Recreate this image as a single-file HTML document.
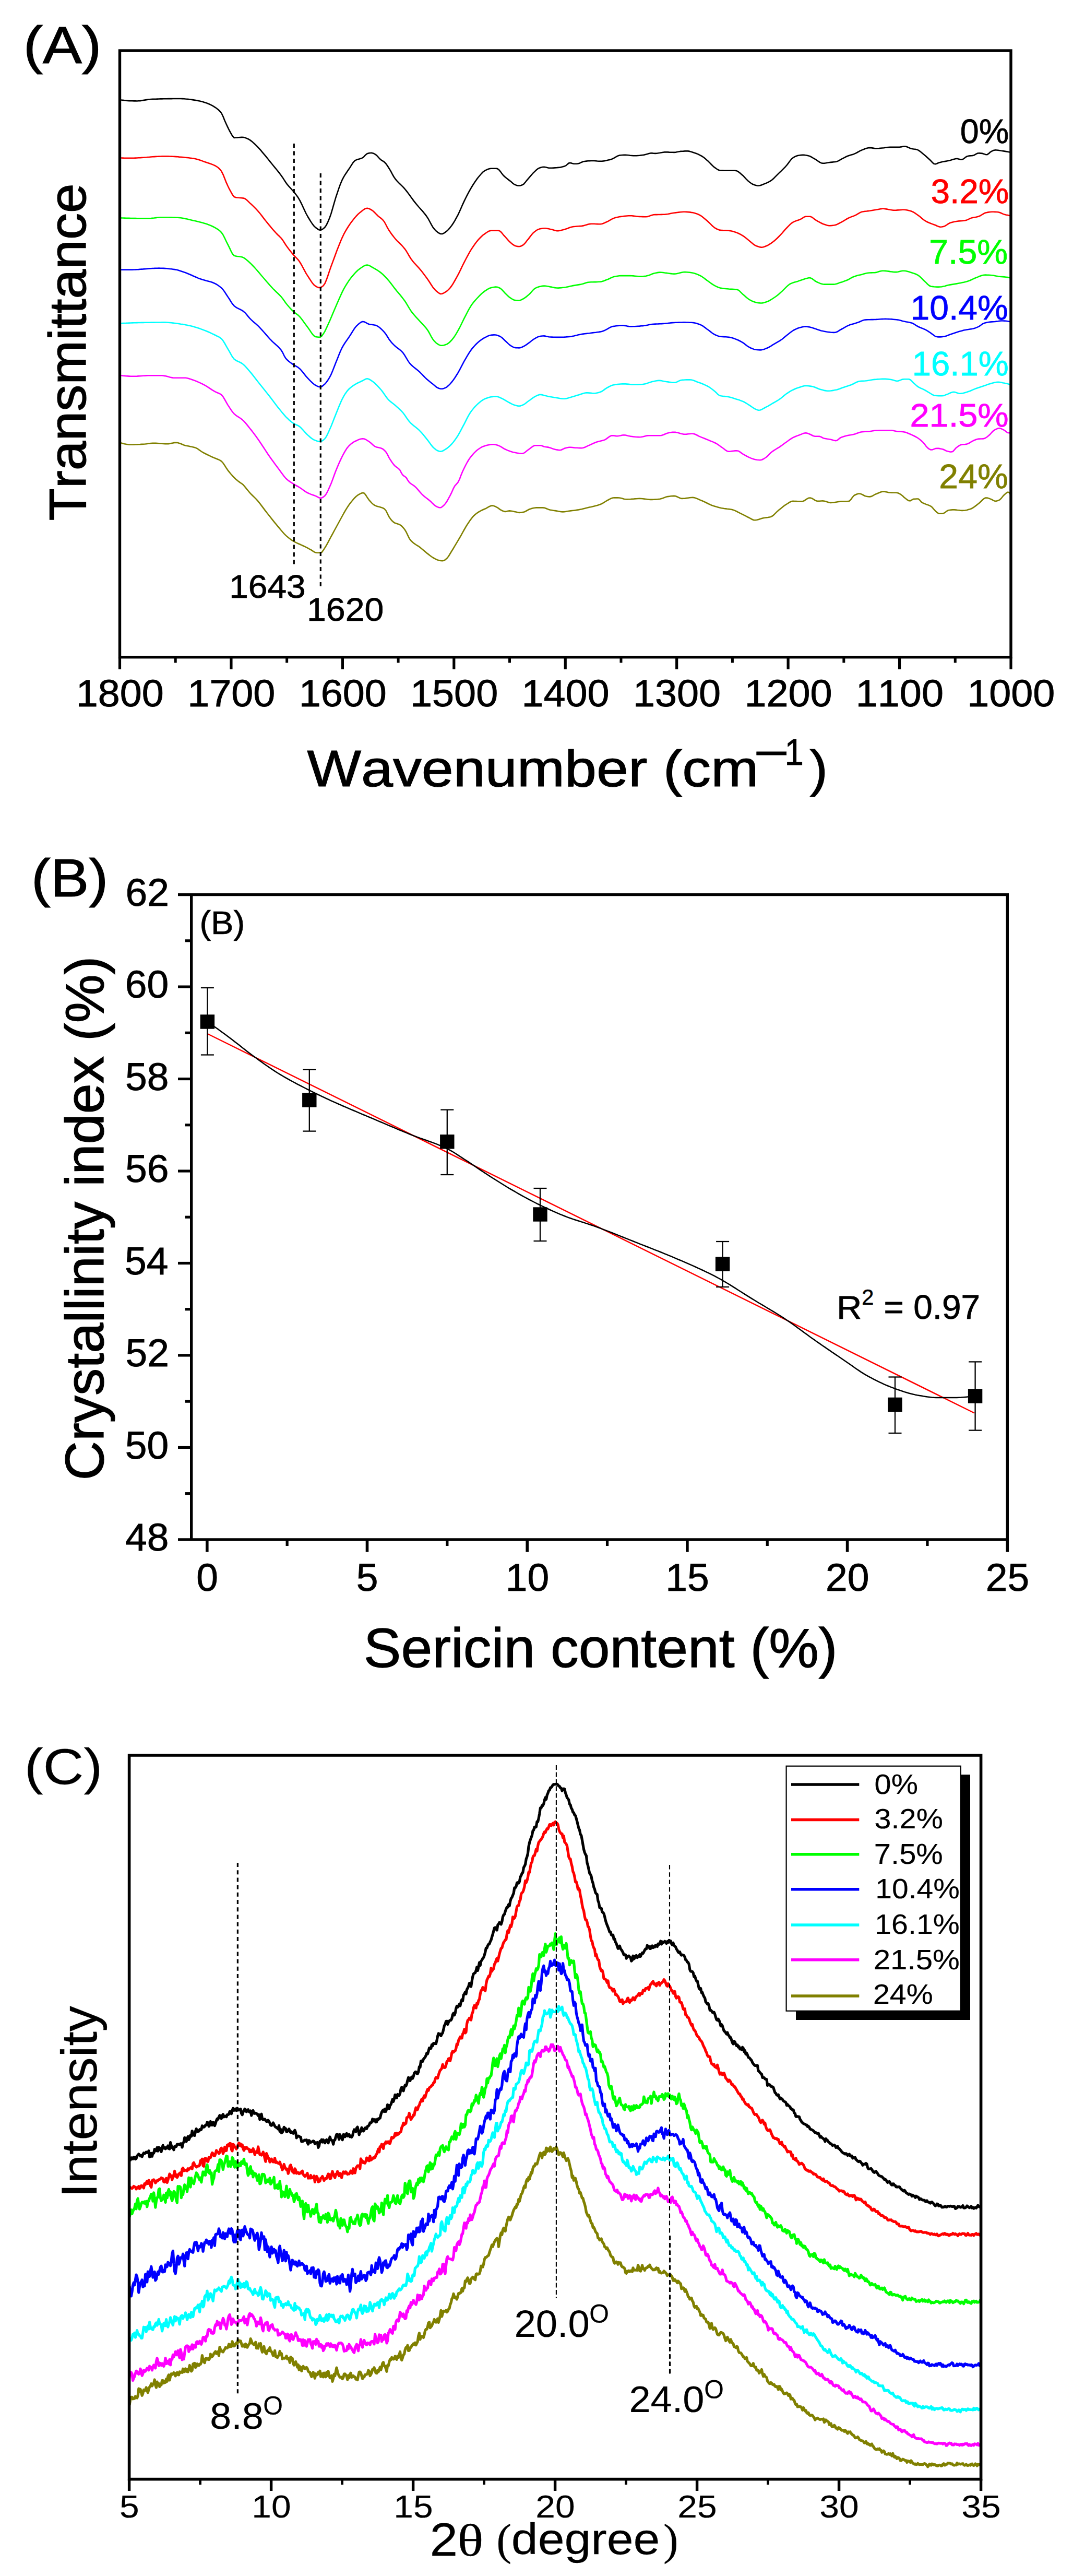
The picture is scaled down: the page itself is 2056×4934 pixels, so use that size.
<!DOCTYPE html>
<html lang="en">
<head>
<meta charset="utf-8">
<title>FTIR, crystallinity index and XRD of silk with varying sericin content</title>
<style>
html,body{margin:0;padding:0;background:#fff;}
body{width:2056px;height:4934px;overflow:hidden;}
svg{display:block;}
text{white-space:pre;font-kerning:none;}
</style>
</head>
<body>
<svg width="2056" height="4934" viewBox="0 0 2056 4934">
<rect width="2056" height="4934" fill="#fff"/>
<g id="panelA">
<polyline points="229.5,191.0 232.5,191.5 235.5,191.9 238.5,192.3 241.5,192.6 244.5,192.9 247.5,193.1 250.5,193.2 253.5,193.3 256.5,193.4 259.5,193.4 262.5,193.5 265.5,193.3 268.5,193.1 271.5,192.6 274.5,192.1 277.5,191.6 280.5,191.1 283.5,190.6 286.5,190.2 289.5,190.0 292.5,189.9 295.5,189.8 298.5,189.7 301.5,189.6 304.5,189.5 307.5,189.4 310.5,189.4 313.5,189.3 316.5,189.2 319.5,189.2 322.5,189.1 325.5,189.1 328.5,189.1 331.5,189.0 334.5,189.0 337.5,189.0 340.5,189.0 343.5,189.0 346.5,189.0 349.5,189.1 352.5,189.2 355.5,189.5 358.5,189.7 361.5,190.1 364.5,190.5 367.5,190.9 370.5,191.4 373.5,191.9 376.5,192.4 379.5,192.9 382.5,193.5 385.5,194.2 388.5,195.0 391.5,195.9 394.5,196.9 397.5,198.0 400.5,199.2 403.5,200.6 406.5,202.1 409.5,203.9 412.5,205.8 415.5,207.9 418.5,210.3 421.5,213.2 424.5,217.0 427.5,223.3 430.5,230.8 433.5,237.5 436.5,243.9 439.5,250.0 442.5,255.3 445.5,260.7 448.5,263.9 451.5,263.8 454.5,263.6 457.5,263.3 460.5,263.1 463.5,262.9 466.5,263.0 469.5,263.8 472.5,264.9 475.5,266.2 478.5,267.9 481.5,270.1 484.5,272.6 487.5,275.3 490.5,278.1 493.5,281.1 496.5,284.3 499.5,287.7 502.5,291.3 505.5,294.8 508.5,298.4 511.5,302.1 514.5,305.8 517.5,309.6 520.5,313.3 523.5,317.0 526.5,320.6 529.5,324.3 532.5,327.9 535.5,331.7 538.5,335.7 541.5,339.9 544.5,344.6 547.5,349.3 550.5,353.4 553.5,356.9 556.5,360.2 559.5,363.5 562.5,366.9 565.5,370.6 568.5,374.5 571.5,378.8 574.5,383.8 577.5,389.8 580.5,396.3 583.5,402.8 586.5,409.0 589.5,414.5 592.5,419.5 595.5,424.4 598.5,428.9 601.5,432.7 604.5,435.6 607.5,437.9 610.5,439.9 613.5,440.7 616.5,439.9 619.5,438.0 622.5,435.3 625.5,430.9 628.5,424.6 631.5,417.5 634.5,408.8 637.5,398.6 640.5,388.1 643.5,378.0 646.5,369.1 649.5,360.2 652.5,351.9 655.5,344.9 658.5,339.2 661.5,334.2 664.5,329.7 667.5,325.3 670.5,320.9 673.5,316.1 676.5,311.5 679.5,308.1 682.5,306.4 685.5,305.3 688.5,304.5 691.5,303.6 694.5,302.4 697.5,299.9 700.5,296.7 703.5,294.2 706.5,293.4 709.5,293.0 712.5,292.9 715.5,293.7 718.5,295.3 721.5,297.4 724.5,300.6 727.5,304.0 730.5,306.6 733.5,308.4 736.5,310.4 739.5,313.6 742.5,317.8 745.5,322.5 748.5,327.4 751.5,333.1 754.5,338.5 757.5,342.8 760.5,346.4 763.5,349.6 766.5,352.5 769.5,355.4 772.5,358.4 775.5,361.7 778.5,365.4 781.5,369.3 784.5,373.3 787.5,377.4 790.5,381.6 793.5,385.6 796.5,389.4 799.5,393.0 802.5,396.5 805.5,399.8 808.5,403.2 811.5,406.7 814.5,410.4 817.5,414.4 820.5,419.0 823.5,424.5 826.5,430.2 829.5,435.3 832.5,439.1 835.5,442.3 838.5,444.8 841.5,446.7 844.5,448.0 847.5,448.0 850.5,446.6 853.5,444.6 856.5,442.3 859.5,439.3 862.5,435.8 865.5,432.0 868.5,427.5 871.5,422.6 874.5,417.2 877.5,411.6 880.5,405.3 883.5,398.5 886.5,391.6 889.5,385.1 892.5,379.0 895.5,373.2 898.5,367.5 901.5,362.1 904.5,357.0 907.5,352.2 910.5,347.7 913.5,343.4 916.5,339.5 919.5,336.0 922.5,332.5 925.5,329.4 928.5,327.2 931.5,325.6 934.5,324.3 937.5,323.3 940.5,322.8 943.5,322.8 946.5,322.8 949.5,322.8 952.5,322.9 955.5,324.7 958.5,328.1 961.5,332.2 964.5,336.0 967.5,338.8 970.5,341.3 973.5,343.6 976.5,345.9 979.5,348.3 982.5,351.0 985.5,353.2 988.5,354.4 991.5,355.4 994.5,355.8 997.5,355.4 1000.5,354.3 1003.5,352.6 1006.5,349.2 1009.5,345.3 1012.5,341.8 1015.5,338.3 1018.5,334.8 1021.5,331.5 1024.5,328.6 1027.5,325.8 1030.5,323.3 1033.5,321.7 1036.5,320.7 1039.5,320.0 1042.5,319.9 1045.5,320.3 1048.5,321.1 1051.5,321.7 1054.5,321.8 1057.5,321.8 1060.5,321.6 1063.5,321.4 1066.5,321.2 1069.5,320.9 1072.5,320.6 1075.5,320.1 1078.5,319.3 1081.5,318.4 1084.5,317.1 1087.5,314.4 1090.5,312.1 1093.5,312.1 1096.5,313.0 1099.5,313.7 1102.5,313.8 1105.5,313.6 1108.5,313.3 1111.5,312.2 1114.5,310.7 1117.5,309.5 1120.5,309.0 1123.5,308.6 1126.5,308.3 1129.5,308.1 1132.5,307.9 1135.5,307.8 1138.5,307.9 1141.5,308.2 1144.5,308.5 1147.5,308.7 1150.5,308.8 1153.5,308.7 1156.5,308.4 1159.5,307.9 1162.5,307.3 1165.5,306.6 1168.5,305.9 1171.5,305.1 1174.5,303.8 1177.5,302.1 1180.5,300.3 1183.5,298.7 1186.5,297.6 1189.5,297.2 1192.5,297.0 1195.5,296.9 1198.5,296.9 1201.5,297.0 1204.5,297.3 1207.5,297.7 1210.5,298.0 1213.5,298.3 1216.5,298.3 1219.5,298.2 1222.5,298.0 1225.5,297.8 1228.5,297.4 1231.5,297.0 1234.5,296.6 1237.5,295.8 1240.5,294.9 1243.5,294.0 1246.5,293.4 1249.5,293.4 1252.5,293.7 1255.5,293.9 1258.5,293.7 1261.5,293.3 1264.5,292.8 1267.5,292.2 1270.5,291.7 1273.5,291.4 1276.5,291.4 1279.5,291.4 1282.5,291.6 1285.5,291.7 1288.5,291.8 1291.5,291.9 1294.5,291.7 1297.5,291.1 1300.5,290.5 1303.5,289.9 1306.5,289.7 1309.5,289.6 1312.5,289.4 1315.5,289.4 1318.5,289.4 1321.5,289.9 1324.5,290.8 1327.5,291.7 1330.5,292.7 1333.5,293.7 1336.5,294.9 1339.5,296.3 1342.5,297.8 1345.5,299.5 1348.5,301.6 1351.5,304.1 1354.5,306.7 1357.5,309.3 1360.5,312.3 1363.5,315.5 1366.5,318.4 1369.5,320.9 1372.5,323.0 1375.5,325.0 1378.5,326.2 1381.5,326.5 1384.5,326.6 1387.5,326.8 1390.5,326.8 1393.5,326.8 1396.5,326.8 1399.5,326.8 1402.5,326.8 1405.5,326.8 1408.5,326.8 1411.5,327.2 1414.5,328.8 1417.5,331.1 1420.5,333.7 1423.5,336.2 1426.5,339.3 1429.5,342.6 1432.5,345.7 1435.5,348.2 1438.5,350.5 1441.5,352.5 1444.5,353.8 1447.5,354.8 1450.5,355.6 1453.5,355.8 1456.5,355.3 1459.5,354.2 1462.5,353.0 1465.5,351.9 1468.5,350.6 1471.5,349.3 1474.5,347.7 1477.5,345.9 1480.5,343.5 1483.5,340.7 1486.5,337.7 1489.5,334.6 1492.5,331.6 1495.5,328.8 1498.5,325.8 1501.5,322.9 1504.5,319.8 1507.5,316.5 1510.5,312.6 1513.5,308.5 1516.5,304.8 1519.5,302.2 1522.5,300.4 1525.5,299.0 1528.5,298.0 1531.5,297.5 1534.5,297.1 1537.5,296.9 1540.5,296.9 1543.5,297.2 1546.5,297.7 1549.5,298.4 1552.5,299.5 1555.5,301.1 1558.5,303.0 1561.5,304.7 1564.5,306.5 1567.5,308.6 1570.5,310.6 1573.5,312.2 1576.5,312.8 1579.5,312.7 1582.5,312.3 1585.5,311.8 1588.5,311.3 1591.5,310.9 1594.5,310.6 1597.5,310.3 1600.5,310.0 1603.5,309.4 1606.5,308.1 1609.5,306.5 1612.5,304.7 1615.5,303.2 1618.5,301.6 1621.5,300.0 1624.5,298.7 1627.5,297.7 1630.5,296.8 1633.5,295.9 1636.5,294.9 1639.5,293.6 1642.5,292.0 1645.5,290.3 1648.5,288.7 1651.5,287.4 1654.5,286.2 1657.5,285.0 1660.5,284.0 1663.5,283.2 1666.5,282.9 1669.5,283.1 1672.5,283.6 1675.5,284.1 1678.5,284.4 1681.5,284.3 1684.5,284.1 1687.5,283.8 1690.5,283.5 1693.5,283.2 1696.5,282.8 1699.5,282.4 1702.5,282.1 1705.5,281.9 1708.5,281.9 1711.5,281.9 1714.5,281.9 1717.5,281.9 1720.5,281.9 1723.5,281.8 1726.5,281.4 1729.5,280.8 1732.5,280.4 1735.5,280.5 1738.5,281.5 1741.5,282.9 1744.5,284.2 1747.5,285.0 1750.5,285.5 1753.5,285.8 1756.5,286.4 1759.5,287.6 1762.5,289.6 1765.5,292.0 1768.5,294.4 1771.5,296.9 1774.5,299.5 1777.5,302.2 1780.5,305.0 1783.5,307.8 1786.5,311.2 1789.5,313.7 1792.5,314.2 1795.5,313.2 1798.5,311.8 1801.5,310.9 1804.5,310.2 1807.5,309.6 1810.5,309.1 1813.5,308.6 1816.5,308.0 1819.5,307.4 1822.5,306.6 1825.5,305.6 1828.5,304.7 1831.5,304.0 1834.5,303.9 1837.5,304.7 1840.5,305.6 1843.5,305.6 1846.5,304.1 1849.5,301.7 1852.5,299.7 1855.5,298.7 1858.5,298.4 1861.5,298.2 1864.5,297.9 1867.5,296.7 1870.5,294.9 1873.5,293.5 1876.5,293.4 1879.5,293.6 1882.5,293.9 1885.5,294.9 1888.5,296.0 1891.5,296.2 1894.5,294.2 1897.5,291.3 1900.5,289.5 1903.5,288.1 1906.5,287.4 1909.5,287.5 1912.5,287.8 1915.5,288.2 1918.5,288.7 1921.5,289.1 1924.5,289.6 1927.5,290.1 1930.5,290.6 1933.5,291.2 1936.5,291.8" fill="none" stroke="#000000" stroke-width="2.6" stroke-linejoin="round" />
<polyline points="229.5,302.3 232.5,302.5 235.5,302.6 238.5,302.7 241.5,302.8 244.5,302.8 247.5,302.8 250.5,302.8 253.5,302.8 256.5,302.7 259.5,302.6 262.5,302.5 265.5,302.3 268.5,302.2 271.5,301.9 274.5,301.7 277.5,301.5 280.5,301.3 283.5,301.0 286.5,300.8 289.5,300.5 292.5,300.3 295.5,300.1 298.5,299.9 301.5,299.7 304.5,299.6 307.5,299.5 310.5,299.4 313.5,299.4 316.5,299.4 319.5,299.4 322.5,299.4 325.5,299.5 328.5,299.6 331.5,299.8 334.5,299.9 337.5,300.1 340.5,300.3 343.5,300.6 346.5,300.8 349.5,301.1 352.5,301.4 355.5,301.7 358.5,302.0 361.5,302.3 364.5,302.7 367.5,303.1 370.5,303.4 373.5,304.0 376.5,304.7 379.5,305.5 382.5,306.5 385.5,307.5 388.5,308.6 391.5,309.7 394.5,310.7 397.5,311.7 400.5,312.7 403.5,313.7 406.5,314.9 409.5,316.1 412.5,317.5 415.5,319.3 418.5,321.5 421.5,324.5 424.5,328.3 427.5,334.3 430.5,341.8 433.5,349.4 436.5,356.0 439.5,362.2 442.5,367.7 445.5,373.0 448.5,377.1 451.5,378.1 454.5,378.5 457.5,378.8 460.5,379.0 463.5,379.2 466.5,379.6 469.5,380.6 472.5,382.8 475.5,385.6 478.5,388.6 481.5,391.3 484.5,394.1 487.5,397.1 490.5,400.2 493.5,403.4 496.5,406.8 499.5,410.5 502.5,414.4 505.5,418.4 508.5,422.2 511.5,425.9 514.5,429.6 517.5,433.2 520.5,436.8 523.5,440.3 526.5,443.7 529.5,447.0 532.5,450.0 535.5,452.8 538.5,455.8 541.5,459.6 544.5,464.2 547.5,469.0 550.5,473.3 553.5,477.3 556.5,481.1 559.5,484.8 562.5,488.3 565.5,491.6 568.5,494.6 571.5,497.8 574.5,502.0 577.5,507.0 580.5,512.5 583.5,518.1 586.5,523.6 589.5,528.4 592.5,533.0 595.5,537.6 598.5,542.0 601.5,545.6 604.5,548.0 607.5,549.7 610.5,550.9 613.5,550.9 616.5,549.5 619.5,547.2 622.5,543.1 625.5,536.1 628.5,527.5 631.5,518.4 634.5,509.9 637.5,501.9 640.5,493.7 643.5,485.5 646.5,477.4 649.5,469.9 652.5,462.6 655.5,455.6 658.5,449.2 661.5,443.7 664.5,438.5 667.5,433.7 670.5,429.2 673.5,425.1 676.5,421.2 679.5,417.5 682.5,414.0 685.5,410.8 688.5,408.1 691.5,405.7 694.5,403.2 697.5,401.0 700.5,399.4 703.5,398.8 706.5,399.4 709.5,400.8 712.5,402.5 715.5,404.8 718.5,407.7 721.5,410.8 724.5,413.7 727.5,416.2 730.5,418.4 733.5,421.2 736.5,425.0 739.5,430.5 742.5,436.3 745.5,441.3 748.5,445.7 751.5,449.9 754.5,453.8 757.5,457.5 760.5,460.8 763.5,463.8 766.5,466.7 769.5,469.7 772.5,473.0 775.5,476.6 778.5,480.8 781.5,485.8 784.5,491.0 787.5,495.8 790.5,499.8 793.5,503.3 796.5,506.6 799.5,509.8 802.5,513.1 805.5,516.6 808.5,520.3 811.5,524.2 814.5,528.2 817.5,532.3 820.5,536.5 823.5,541.0 826.5,545.8 829.5,550.3 832.5,553.9 835.5,557.1 838.5,559.5 841.5,561.7 844.5,563.0 847.5,562.5 850.5,561.1 853.5,559.4 856.5,557.4 859.5,554.6 862.5,551.4 865.5,547.4 868.5,542.7 871.5,537.5 874.5,532.1 877.5,526.6 880.5,520.8 883.5,514.6 886.5,508.3 889.5,502.3 892.5,496.5 895.5,490.9 898.5,485.3 901.5,480.1 904.5,475.4 907.5,471.0 910.5,466.8 913.5,462.8 916.5,459.2 919.5,456.0 922.5,453.0 925.5,450.3 928.5,448.1 931.5,446.0 934.5,444.0 937.5,442.4 940.5,441.7 943.5,441.7 946.5,441.7 949.5,441.7 952.5,441.7 955.5,441.7 958.5,442.9 961.5,446.0 964.5,449.8 967.5,453.0 970.5,456.4 973.5,459.9 976.5,463.1 979.5,465.7 982.5,468.2 985.5,470.2 988.5,471.2 991.5,471.9 994.5,472.2 997.5,471.7 1000.5,470.3 1003.5,468.4 1006.5,465.1 1009.5,461.2 1012.5,457.6 1015.5,453.6 1018.5,449.7 1021.5,446.3 1024.5,443.7 1027.5,441.5 1030.5,439.7 1033.5,438.6 1036.5,438.0 1039.5,437.5 1042.5,437.2 1045.5,437.3 1048.5,437.7 1051.5,438.3 1054.5,439.0 1057.5,439.6 1060.5,440.5 1063.5,441.5 1066.5,442.1 1069.5,442.2 1072.5,441.8 1075.5,441.1 1078.5,440.3 1081.5,439.5 1084.5,438.6 1087.5,437.5 1090.5,436.3 1093.5,435.3 1096.5,434.5 1099.5,434.0 1102.5,433.8 1105.5,433.5 1108.5,433.3 1111.5,433.1 1114.5,432.9 1117.5,432.4 1120.5,431.6 1123.5,430.7 1126.5,429.8 1129.5,429.1 1132.5,428.7 1135.5,428.7 1138.5,428.8 1141.5,429.0 1144.5,429.1 1147.5,429.2 1150.5,429.2 1153.5,428.8 1156.5,427.8 1159.5,426.4 1162.5,425.0 1165.5,423.6 1168.5,421.9 1171.5,420.2 1174.5,418.6 1177.5,417.4 1180.5,416.6 1183.5,415.9 1186.5,415.3 1189.5,414.9 1192.5,414.5 1195.5,414.1 1198.5,413.8 1201.5,413.5 1204.5,413.3 1207.5,413.2 1210.5,413.3 1213.5,413.6 1216.5,414.0 1219.5,414.4 1222.5,414.7 1225.5,414.9 1228.5,415.0 1231.5,415.1 1234.5,415.2 1237.5,415.2 1240.5,415.0 1243.5,414.1 1246.5,412.9 1249.5,411.9 1252.5,411.3 1255.5,411.1 1258.5,411.1 1261.5,411.0 1264.5,411.0 1267.5,410.9 1270.5,410.8 1273.5,410.7 1276.5,410.4 1279.5,410.0 1282.5,409.4 1285.5,408.8 1288.5,408.3 1291.5,407.8 1294.5,407.4 1297.5,407.0 1300.5,406.6 1303.5,406.3 1306.5,406.0 1309.5,405.8 1312.5,405.7 1315.5,405.9 1318.5,406.1 1321.5,406.4 1324.5,406.9 1327.5,407.3 1330.5,408.0 1333.5,408.9 1336.5,410.0 1339.5,411.3 1342.5,412.9 1345.5,415.0 1348.5,417.4 1351.5,420.0 1354.5,422.6 1357.5,425.2 1360.5,428.1 1363.5,431.2 1366.5,434.0 1369.5,436.3 1372.5,438.0 1375.5,439.6 1378.5,440.6 1381.5,440.9 1384.5,441.1 1387.5,441.2 1390.5,441.3 1393.5,441.5 1396.5,441.7 1399.5,442.1 1402.5,442.7 1405.5,443.5 1408.5,444.5 1411.5,445.6 1414.5,446.8 1417.5,448.2 1420.5,449.8 1423.5,451.7 1426.5,453.7 1429.5,456.1 1432.5,458.6 1435.5,461.1 1438.5,463.5 1441.5,466.0 1444.5,468.4 1447.5,470.3 1450.5,471.6 1453.5,472.6 1456.5,473.4 1459.5,473.7 1462.5,473.2 1465.5,472.2 1468.5,471.0 1471.5,469.7 1474.5,467.9 1477.5,465.9 1480.5,463.7 1483.5,461.4 1486.5,458.8 1489.5,456.0 1492.5,453.0 1495.5,449.9 1498.5,446.6 1501.5,443.1 1504.5,439.6 1507.5,436.5 1510.5,433.4 1513.5,430.3 1516.5,427.6 1519.5,425.6 1522.5,424.1 1525.5,423.0 1528.5,421.9 1531.5,420.9 1534.5,419.6 1537.5,417.8 1540.5,415.9 1543.5,414.8 1546.5,414.7 1549.5,414.7 1552.5,414.8 1555.5,415.9 1558.5,418.0 1561.5,420.4 1564.5,422.4 1567.5,424.1 1570.5,425.7 1573.5,427.3 1576.5,428.7 1579.5,429.8 1582.5,430.8 1585.5,431.7 1588.5,432.2 1591.5,432.1 1594.5,431.9 1597.5,431.5 1600.5,430.9 1603.5,429.9 1606.5,428.5 1609.5,426.9 1612.5,425.3 1615.5,423.6 1618.5,421.8 1621.5,420.0 1624.5,418.3 1627.5,416.9 1630.5,415.6 1633.5,414.5 1636.5,413.4 1639.5,412.1 1642.5,410.4 1645.5,408.6 1648.5,406.9 1651.5,405.8 1654.5,405.2 1657.5,404.8 1660.5,404.5 1663.5,404.1 1666.5,403.8 1669.5,403.3 1672.5,402.8 1675.5,402.3 1678.5,401.8 1681.5,401.3 1684.5,400.7 1687.5,400.1 1690.5,399.8 1693.5,399.8 1696.5,400.1 1699.5,400.6 1702.5,401.2 1705.5,401.8 1708.5,402.3 1711.5,402.6 1714.5,402.7 1717.5,402.6 1720.5,402.4 1723.5,402.2 1726.5,402.0 1729.5,401.8 1732.5,401.8 1735.5,402.0 1738.5,402.6 1741.5,403.3 1744.5,404.1 1747.5,405.1 1750.5,406.5 1753.5,408.4 1756.5,410.5 1759.5,412.6 1762.5,414.8 1765.5,417.4 1768.5,419.9 1771.5,422.2 1774.5,424.0 1777.5,425.5 1780.5,426.8 1783.5,428.0 1786.5,429.1 1789.5,430.2 1792.5,431.3 1795.5,432.7 1798.5,433.9 1801.5,434.7 1804.5,434.5 1807.5,433.9 1810.5,432.9 1813.5,431.2 1816.5,429.0 1819.5,427.3 1822.5,426.3 1825.5,425.5 1828.5,424.8 1831.5,424.2 1834.5,423.8 1837.5,423.4 1840.5,423.1 1843.5,422.9 1846.5,422.6 1849.5,422.3 1852.5,421.4 1855.5,420.1 1858.5,418.6 1861.5,417.4 1864.5,416.7 1867.5,416.2 1870.5,415.7 1873.5,415.0 1876.5,414.1 1879.5,412.5 1882.5,410.6 1885.5,408.8 1888.5,407.5 1891.5,406.9 1894.5,406.4 1897.5,406.0 1900.5,405.8 1903.5,405.8 1906.5,405.9 1909.5,406.0 1912.5,406.3 1915.5,407.0 1918.5,408.3 1921.5,409.6 1924.5,410.7 1927.5,411.5 1930.5,412.1 1933.5,412.7 1936.5,413.2" fill="none" stroke="#ff0000" stroke-width="2.6" stroke-linejoin="round" />
<polyline points="229.5,417.2 232.5,417.4 235.5,417.5 238.5,417.6 241.5,417.8 244.5,417.8 247.5,417.9 250.5,418.0 253.5,418.0 256.5,418.1 259.5,418.1 262.5,418.2 265.5,418.2 268.5,418.2 271.5,418.2 274.5,418.2 277.5,418.2 280.5,418.2 283.5,418.2 286.5,418.2 289.5,418.1 292.5,417.8 295.5,417.5 298.5,417.1 301.5,416.8 304.5,416.5 307.5,416.3 310.5,416.2 313.5,416.2 316.5,416.3 319.5,416.3 322.5,416.3 325.5,416.4 328.5,416.4 331.5,416.5 334.5,416.6 337.5,416.7 340.5,416.8 343.5,417.0 346.5,417.3 349.5,417.8 352.5,418.3 355.5,418.9 358.5,419.6 361.5,420.3 364.5,421.0 367.5,421.7 370.5,422.4 373.5,423.0 376.5,423.7 379.5,424.4 382.5,425.2 385.5,426.0 388.5,426.8 391.5,427.7 394.5,428.6 397.5,429.6 400.5,430.7 403.5,431.9 406.5,433.3 409.5,434.7 412.5,436.3 415.5,438.1 418.5,440.1 421.5,442.5 424.5,445.5 427.5,450.0 430.5,455.9 433.5,462.2 436.5,468.2 439.5,474.1 442.5,480.6 445.5,486.3 448.5,489.5 451.5,490.4 454.5,491.0 457.5,491.3 460.5,491.7 463.5,492.3 466.5,493.4 469.5,495.3 472.5,497.8 475.5,500.3 478.5,503.0 481.5,505.9 484.5,509.0 487.5,512.2 490.5,515.5 493.5,518.9 496.5,522.4 499.5,526.0 502.5,529.5 505.5,533.0 508.5,536.5 511.5,540.0 514.5,543.4 517.5,546.9 520.5,550.2 523.5,553.4 526.5,556.3 529.5,559.2 532.5,562.0 535.5,565.0 538.5,568.1 541.5,571.8 544.5,575.9 547.5,580.2 550.5,584.0 553.5,587.5 556.5,590.8 559.5,594.0 562.5,596.9 565.5,599.4 568.5,601.6 571.5,603.9 574.5,606.9 577.5,610.5 580.5,614.5 583.5,618.7 586.5,622.8 589.5,626.8 592.5,630.9 595.5,635.5 598.5,639.8 601.5,643.2 604.5,644.9 607.5,645.4 610.5,645.8 613.5,645.9 616.5,643.8 619.5,639.6 622.5,634.6 625.5,628.4 628.5,621.8 631.5,615.2 634.5,608.3 637.5,601.1 640.5,593.9 643.5,586.9 646.5,580.1 649.5,573.2 652.5,566.4 655.5,559.9 658.5,553.9 661.5,548.6 664.5,543.7 667.5,539.1 670.5,534.8 673.5,530.9 676.5,527.3 679.5,523.9 682.5,520.7 685.5,517.8 688.5,515.4 691.5,513.3 694.5,511.2 697.5,509.4 700.5,508.1 703.5,507.6 706.5,508.2 709.5,509.7 712.5,511.5 715.5,513.2 718.5,514.8 721.5,516.6 724.5,518.5 727.5,520.6 730.5,522.9 733.5,525.5 736.5,528.5 739.5,531.6 742.5,534.9 745.5,538.3 748.5,542.1 751.5,546.0 754.5,550.1 757.5,553.9 760.5,557.6 763.5,561.1 766.5,564.7 769.5,568.4 772.5,572.2 775.5,576.3 778.5,580.8 781.5,585.8 784.5,590.9 787.5,595.6 790.5,599.6 793.5,603.2 796.5,606.6 799.5,609.9 802.5,613.1 805.5,616.4 808.5,619.7 811.5,622.9 814.5,626.1 817.5,629.7 820.5,634.0 823.5,639.4 826.5,645.1 829.5,650.0 832.5,653.7 835.5,656.7 838.5,658.9 841.5,660.6 844.5,661.7 847.5,661.8 850.5,661.2 853.5,660.3 856.5,659.1 859.5,657.2 862.5,654.5 865.5,651.3 868.5,647.7 871.5,643.4 874.5,638.6 877.5,633.4 880.5,628.0 883.5,622.0 886.5,615.8 889.5,609.6 892.5,603.8 895.5,598.0 898.5,592.4 901.5,587.3 904.5,582.8 907.5,578.9 910.5,575.3 913.5,572.0 916.5,568.8 919.5,565.7 922.5,562.8 925.5,560.1 928.5,557.9 931.5,555.8 934.5,553.9 937.5,552.3 940.5,551.2 943.5,550.5 946.5,550.0 949.5,549.6 952.5,549.8 955.5,550.8 958.5,552.2 961.5,554.6 964.5,557.9 967.5,561.2 970.5,564.1 973.5,567.1 976.5,569.7 979.5,571.7 982.5,573.5 985.5,574.7 988.5,575.2 991.5,575.4 994.5,575.5 997.5,574.9 1000.5,573.5 1003.5,571.8 1006.5,569.9 1009.5,567.6 1012.5,565.1 1015.5,562.3 1018.5,558.9 1021.5,555.5 1024.5,552.8 1027.5,551.1 1030.5,549.9 1033.5,549.0 1036.5,548.4 1039.5,547.9 1042.5,547.6 1045.5,547.7 1048.5,548.2 1051.5,548.8 1054.5,549.4 1057.5,549.9 1060.5,550.6 1063.5,551.1 1066.5,551.5 1069.5,551.6 1072.5,551.4 1075.5,551.2 1078.5,550.8 1081.5,550.5 1084.5,550.0 1087.5,549.4 1090.5,548.8 1093.5,548.1 1096.5,547.4 1099.5,546.9 1102.5,546.4 1105.5,545.9 1108.5,545.4 1111.5,544.9 1114.5,544.3 1117.5,543.6 1120.5,542.6 1123.5,541.6 1126.5,540.8 1129.5,540.5 1132.5,540.3 1135.5,540.2 1138.5,540.1 1141.5,540.1 1144.5,540.0 1147.5,539.8 1150.5,539.6 1153.5,539.1 1156.5,538.2 1159.5,537.0 1162.5,535.8 1165.5,534.7 1168.5,533.3 1171.5,531.9 1174.5,530.6 1177.5,529.7 1180.5,529.2 1183.5,528.7 1186.5,528.3 1189.5,528.1 1192.5,528.1 1195.5,528.1 1198.5,528.1 1201.5,528.1 1204.5,528.1 1207.5,528.1 1210.5,528.2 1213.5,528.4 1216.5,528.7 1219.5,529.0 1222.5,529.3 1225.5,529.6 1228.5,529.6 1231.5,529.5 1234.5,529.1 1237.5,528.7 1240.5,528.1 1243.5,527.3 1246.5,526.1 1249.5,524.8 1252.5,523.7 1255.5,523.1 1258.5,522.4 1261.5,521.9 1264.5,521.6 1267.5,521.7 1270.5,522.0 1273.5,522.5 1276.5,522.9 1279.5,523.3 1282.5,523.7 1285.5,524.1 1288.5,524.5 1291.5,524.6 1294.5,524.5 1297.5,524.0 1300.5,523.3 1303.5,522.5 1306.5,521.8 1309.5,521.3 1312.5,521.1 1315.5,521.2 1318.5,521.5 1321.5,521.8 1324.5,522.2 1327.5,522.7 1330.5,523.4 1333.5,524.4 1336.5,525.6 1339.5,527.0 1342.5,528.4 1345.5,530.2 1348.5,532.3 1351.5,534.6 1354.5,536.9 1357.5,539.0 1360.5,541.2 1363.5,543.4 1366.5,545.4 1369.5,547.1 1372.5,548.6 1375.5,550.0 1378.5,551.1 1381.5,551.9 1384.5,552.4 1387.5,552.7 1390.5,553.0 1393.5,553.2 1396.5,553.5 1399.5,553.7 1402.5,553.8 1405.5,554.0 1408.5,554.2 1411.5,554.5 1414.5,555.5 1417.5,557.8 1420.5,560.8 1423.5,563.8 1426.5,566.3 1429.5,568.9 1432.5,571.5 1435.5,573.7 1438.5,575.3 1441.5,576.8 1444.5,578.1 1447.5,579.1 1450.5,579.7 1453.5,580.1 1456.5,580.4 1459.5,580.5 1462.5,580.1 1465.5,579.3 1468.5,578.3 1471.5,577.1 1474.5,575.7 1477.5,573.9 1480.5,572.0 1483.5,570.0 1486.5,568.0 1489.5,565.7 1492.5,563.2 1495.5,560.6 1498.5,557.9 1501.5,554.8 1504.5,551.8 1507.5,548.9 1510.5,546.2 1513.5,544.0 1516.5,542.6 1519.5,541.5 1522.5,540.6 1525.5,539.8 1528.5,538.9 1531.5,537.8 1534.5,536.8 1537.5,535.7 1540.5,534.7 1543.5,533.8 1546.5,533.0 1549.5,532.3 1552.5,532.2 1555.5,533.4 1558.5,535.6 1561.5,538.0 1564.5,539.7 1567.5,541.1 1570.5,542.4 1573.5,543.6 1576.5,544.3 1579.5,544.6 1582.5,544.6 1585.5,544.6 1588.5,544.6 1591.5,544.6 1594.5,544.6 1597.5,544.6 1600.5,544.2 1603.5,543.4 1606.5,542.4 1609.5,541.3 1612.5,540.4 1615.5,539.4 1618.5,538.3 1621.5,537.2 1624.5,536.0 1627.5,534.4 1630.5,532.7 1633.5,531.0 1636.5,529.7 1639.5,528.7 1642.5,527.8 1645.5,527.1 1648.5,526.4 1651.5,525.7 1654.5,524.8 1657.5,523.9 1660.5,523.2 1663.5,522.7 1666.5,522.5 1669.5,522.4 1672.5,522.3 1675.5,522.2 1678.5,521.9 1681.5,521.1 1684.5,520.1 1687.5,519.2 1690.5,518.7 1693.5,518.7 1696.5,518.9 1699.5,519.2 1702.5,519.6 1705.5,520.1 1708.5,520.5 1711.5,520.9 1714.5,521.1 1717.5,521.1 1720.5,520.7 1723.5,520.0 1726.5,519.3 1729.5,518.8 1732.5,518.7 1735.5,519.0 1738.5,519.7 1741.5,520.5 1744.5,521.5 1747.5,522.4 1750.5,523.4 1753.5,524.5 1756.5,525.8 1759.5,527.4 1762.5,529.7 1765.5,532.6 1768.5,535.7 1771.5,538.6 1774.5,541.4 1777.5,544.5 1780.5,547.0 1783.5,548.5 1786.5,548.9 1789.5,549.3 1792.5,549.5 1795.5,549.6 1798.5,549.6 1801.5,549.5 1804.5,549.2 1807.5,548.6 1810.5,547.9 1813.5,547.1 1816.5,546.3 1819.5,545.6 1822.5,545.1 1825.5,544.6 1828.5,544.1 1831.5,543.6 1834.5,543.1 1837.5,542.5 1840.5,541.9 1843.5,541.3 1846.5,540.7 1849.5,540.0 1852.5,539.2 1855.5,538.3 1858.5,537.2 1861.5,535.8 1864.5,534.4 1867.5,533.0 1870.5,531.8 1873.5,530.6 1876.5,529.3 1879.5,528.2 1882.5,527.2 1885.5,526.7 1888.5,526.6 1891.5,526.7 1894.5,526.8 1897.5,527.0 1900.5,527.2 1903.5,527.6 1906.5,528.2 1909.5,528.8 1912.5,529.3 1915.5,529.7 1918.5,530.0 1921.5,530.1 1924.5,530.4 1927.5,530.7 1930.5,531.1 1933.5,531.8 1936.5,532.5" fill="none" stroke="#00ff00" stroke-width="2.6" stroke-linejoin="round" />
<polyline points="229.5,516.6 232.5,516.6 235.5,516.6 238.5,516.6 241.5,516.6 244.5,516.6 247.5,516.6 250.5,516.6 253.5,516.6 256.5,516.5 259.5,516.4 262.5,516.2 265.5,516.1 268.5,515.8 271.5,515.6 274.5,515.4 277.5,515.1 280.5,514.9 283.5,514.6 286.5,514.4 289.5,514.2 292.5,514.0 295.5,513.9 298.5,513.7 301.5,513.7 304.5,513.6 307.5,513.7 310.5,513.7 313.5,513.9 316.5,514.1 319.5,514.3 322.5,514.6 325.5,515.0 328.5,515.3 331.5,515.7 334.5,516.1 337.5,516.6 340.5,517.3 343.5,518.2 346.5,519.2 349.5,520.2 352.5,521.3 355.5,522.3 358.5,523.5 361.5,524.7 364.5,526.0 367.5,527.3 370.5,528.7 373.5,530.0 376.5,531.3 379.5,532.6 382.5,533.8 385.5,534.8 388.5,535.8 391.5,536.6 394.5,537.4 397.5,538.2 400.5,539.0 403.5,539.8 406.5,540.8 409.5,542.0 412.5,543.4 415.5,545.0 418.5,547.0 421.5,549.2 424.5,551.7 427.5,555.0 430.5,559.1 433.5,563.8 436.5,568.4 439.5,572.8 442.5,577.7 445.5,582.2 448.5,585.7 451.5,588.1 454.5,589.9 457.5,591.4 460.5,592.8 463.5,594.4 466.5,596.4 469.5,599.0 472.5,602.4 475.5,606.1 478.5,609.6 481.5,612.6 484.5,615.4 487.5,617.9 490.5,620.5 493.5,623.2 496.5,626.2 499.5,629.4 502.5,632.6 505.5,636.0 508.5,639.4 511.5,642.9 514.5,646.3 517.5,649.6 520.5,652.7 523.5,655.6 526.5,658.3 529.5,660.9 532.5,663.7 535.5,666.8 538.5,670.3 541.5,675.0 544.5,681.3 547.5,686.3 550.5,689.5 553.5,692.2 556.5,694.5 559.5,696.6 562.5,698.6 565.5,700.5 568.5,702.1 571.5,703.9 574.5,706.4 577.5,709.6 580.5,713.3 583.5,717.1 586.5,720.9 589.5,724.2 592.5,727.3 595.5,730.4 598.5,733.3 601.5,735.8 604.5,737.8 607.5,739.4 610.5,740.7 613.5,741.3 616.5,740.4 619.5,738.1 622.5,735.5 625.5,732.1 628.5,727.8 631.5,722.9 634.5,717.1 637.5,709.9 640.5,702.2 643.5,694.5 646.5,687.2 649.5,679.6 652.5,672.3 655.5,666.0 658.5,660.7 661.5,656.0 664.5,651.7 667.5,647.4 670.5,643.0 673.5,638.2 676.5,633.4 679.5,628.8 682.5,625.0 685.5,622.1 688.5,619.5 691.5,617.3 694.5,616.0 697.5,616.3 700.5,617.6 703.5,619.4 706.5,620.8 709.5,621.4 712.5,621.8 715.5,622.2 718.5,622.7 721.5,623.6 724.5,625.3 727.5,627.5 730.5,630.2 733.5,633.2 736.5,636.4 739.5,640.2 742.5,645.0 745.5,649.9 748.5,653.8 751.5,657.3 754.5,660.4 757.5,663.3 760.5,665.7 763.5,667.9 766.5,670.2 769.5,672.9 772.5,676.2 775.5,680.6 778.5,685.6 781.5,690.6 784.5,695.1 787.5,698.5 790.5,701.3 793.5,703.8 796.5,706.1 799.5,708.5 802.5,711.0 805.5,713.8 808.5,716.8 811.5,720.0 814.5,723.1 817.5,726.0 820.5,728.6 823.5,731.0 826.5,733.4 829.5,735.7 832.5,738.2 835.5,740.9 838.5,742.8 841.5,744.0 844.5,744.7 847.5,744.7 850.5,743.9 853.5,742.8 856.5,741.0 859.5,738.3 862.5,735.3 865.5,731.9 868.5,728.0 871.5,723.7 874.5,719.0 877.5,714.2 880.5,708.8 883.5,703.1 886.5,697.3 889.5,691.7 892.5,686.6 895.5,681.4 898.5,676.5 901.5,671.9 904.5,667.9 907.5,664.3 910.5,661.0 913.5,658.0 916.5,655.3 919.5,652.8 922.5,650.6 925.5,648.5 928.5,646.8 931.5,645.3 934.5,643.8 937.5,642.6 940.5,641.9 943.5,641.6 946.5,641.4 949.5,641.5 952.5,642.1 955.5,643.2 958.5,644.5 961.5,646.5 964.5,649.3 967.5,652.2 970.5,655.0 973.5,657.9 976.5,660.6 979.5,662.6 982.5,664.4 985.5,665.6 988.5,666.1 991.5,666.3 994.5,666.4 997.5,665.9 1000.5,664.7 1003.5,663.3 1006.5,661.6 1009.5,659.6 1012.5,657.4 1015.5,655.2 1018.5,652.8 1021.5,650.5 1024.5,648.6 1027.5,646.8 1030.5,645.3 1033.5,644.4 1036.5,643.8 1039.5,643.5 1042.5,643.4 1045.5,643.9 1048.5,644.6 1051.5,645.2 1054.5,645.5 1057.5,645.6 1060.5,645.7 1063.5,645.8 1066.5,645.9 1069.5,645.9 1072.5,645.9 1075.5,645.8 1078.5,645.7 1081.5,645.6 1084.5,645.4 1087.5,645.1 1090.5,644.9 1093.5,644.6 1096.5,644.1 1099.5,643.5 1102.5,642.8 1105.5,642.1 1108.5,641.3 1111.5,640.7 1114.5,640.1 1117.5,639.6 1120.5,639.2 1123.5,638.9 1126.5,638.5 1129.5,638.2 1132.5,637.8 1135.5,637.4 1138.5,637.0 1141.5,636.7 1144.5,636.3 1147.5,635.9 1150.5,635.4 1153.5,634.8 1156.5,633.8 1159.5,632.4 1162.5,630.8 1165.5,629.1 1168.5,627.4 1171.5,626.0 1174.5,625.1 1177.5,624.7 1180.5,624.3 1183.5,624.0 1186.5,623.7 1189.5,623.5 1192.5,623.4 1195.5,623.6 1198.5,624.0 1201.5,624.6 1204.5,625.1 1207.5,625.4 1210.5,625.4 1213.5,625.3 1216.5,625.2 1219.5,625.0 1222.5,624.8 1225.5,624.6 1228.5,624.3 1231.5,624.1 1234.5,623.8 1237.5,623.3 1240.5,622.7 1243.5,622.0 1246.5,621.5 1249.5,621.0 1252.5,620.8 1255.5,620.6 1258.5,620.5 1261.5,620.4 1264.5,620.2 1267.5,620.1 1270.5,619.9 1273.5,619.7 1276.5,619.4 1279.5,619.1 1282.5,618.7 1285.5,618.4 1288.5,618.1 1291.5,618.0 1294.5,617.8 1297.5,617.7 1300.5,617.6 1303.5,617.5 1306.5,617.5 1309.5,617.4 1312.5,617.4 1315.5,617.5 1318.5,617.5 1321.5,617.7 1324.5,617.8 1327.5,618.0 1330.5,618.4 1333.5,619.1 1336.5,620.0 1339.5,621.0 1342.5,622.2 1345.5,623.7 1348.5,625.7 1351.5,627.9 1354.5,630.2 1357.5,632.3 1360.5,634.6 1363.5,637.0 1366.5,639.2 1369.5,640.9 1372.5,642.3 1375.5,643.4 1378.5,644.3 1381.5,644.7 1384.5,644.9 1387.5,645.1 1390.5,645.3 1393.5,645.5 1396.5,645.9 1399.5,646.4 1402.5,647.1 1405.5,648.1 1408.5,649.1 1411.5,650.3 1414.5,651.5 1417.5,653.0 1420.5,654.6 1423.5,656.4 1426.5,658.4 1429.5,660.9 1432.5,663.2 1435.5,665.0 1438.5,666.5 1441.5,667.8 1444.5,668.9 1447.5,669.5 1450.5,669.9 1453.5,670.2 1456.5,670.4 1459.5,670.1 1462.5,669.4 1465.5,668.4 1468.5,667.2 1471.5,666.0 1474.5,664.4 1477.5,662.6 1480.5,660.7 1483.5,658.9 1486.5,657.1 1489.5,655.4 1492.5,653.7 1495.5,651.8 1498.5,649.7 1501.5,647.3 1504.5,644.8 1507.5,642.3 1510.5,640.0 1513.5,637.6 1516.5,635.3 1519.5,633.2 1522.5,631.5 1525.5,630.1 1528.5,628.8 1531.5,627.7 1534.5,626.9 1537.5,626.2 1540.5,625.7 1543.5,625.4 1546.5,625.6 1549.5,626.1 1552.5,626.8 1555.5,627.6 1558.5,628.4 1561.5,629.4 1564.5,630.5 1567.5,631.6 1570.5,632.6 1573.5,633.4 1576.5,634.1 1579.5,634.7 1582.5,635.3 1585.5,635.8 1588.5,636.1 1591.5,636.5 1594.5,636.7 1597.5,636.9 1600.5,636.8 1603.5,635.8 1606.5,634.1 1609.5,632.2 1612.5,630.5 1615.5,628.8 1618.5,627.1 1621.5,625.4 1624.5,623.9 1627.5,622.6 1630.5,621.6 1633.5,620.7 1636.5,619.9 1639.5,619.1 1642.5,618.1 1645.5,617.0 1648.5,615.7 1651.5,614.4 1654.5,613.3 1657.5,612.6 1660.5,612.4 1663.5,612.3 1666.5,612.2 1669.5,612.1 1672.5,612.1 1675.5,612.0 1678.5,611.9 1681.5,611.7 1684.5,611.5 1687.5,611.3 1690.5,611.1 1693.5,611.0 1696.5,610.9 1699.5,611.0 1702.5,611.1 1705.5,611.2 1708.5,611.4 1711.5,611.7 1714.5,612.0 1717.5,612.3 1720.5,612.6 1723.5,613.3 1726.5,614.1 1729.5,614.9 1732.5,615.6 1735.5,616.2 1738.5,616.7 1741.5,617.2 1744.5,617.9 1747.5,618.8 1750.5,620.2 1753.5,622.1 1756.5,624.0 1759.5,625.7 1762.5,627.0 1765.5,628.2 1768.5,629.4 1771.5,630.7 1774.5,632.2 1777.5,633.9 1780.5,635.8 1783.5,637.9 1786.5,640.1 1789.5,642.3 1792.5,644.5 1795.5,645.1 1798.5,645.4 1801.5,645.4 1804.5,645.1 1807.5,644.7 1810.5,644.3 1813.5,643.4 1816.5,642.2 1819.5,641.0 1822.5,639.9 1825.5,638.9 1828.5,637.9 1831.5,636.9 1834.5,636.0 1837.5,635.1 1840.5,634.2 1843.5,633.4 1846.5,632.6 1849.5,632.0 1852.5,631.4 1855.5,631.0 1858.5,630.5 1861.5,630.1 1864.5,629.5 1867.5,628.7 1870.5,627.6 1873.5,626.4 1876.5,624.9 1879.5,622.7 1882.5,620.5 1885.5,619.1 1888.5,618.2 1891.5,617.5 1894.5,617.0 1897.5,616.6 1900.5,616.4 1903.5,616.2 1906.5,616.0 1909.5,615.6 1912.5,615.2 1915.5,614.7 1918.5,614.5 1921.5,614.5 1924.5,614.6 1927.5,614.8 1930.5,615.2 1933.5,615.7 1936.5,616.3" fill="none" stroke="#0000ff" stroke-width="2.6" stroke-linejoin="round" />
<polyline points="229.5,619.4 232.5,619.3 235.5,619.1 238.5,619.0 241.5,618.9 244.5,618.7 247.5,618.6 250.5,618.5 253.5,618.4 256.5,618.3 259.5,618.2 262.5,618.1 265.5,618.0 268.5,618.0 271.5,617.9 274.5,617.9 277.5,617.8 280.5,617.8 283.5,617.7 286.5,617.7 289.5,617.6 292.5,617.6 295.5,617.6 298.5,617.5 301.5,617.5 304.5,617.5 307.5,617.5 310.5,617.4 313.5,617.4 316.5,617.4 319.5,617.5 322.5,617.7 325.5,618.0 328.5,618.3 331.5,618.6 334.5,619.0 337.5,619.4 340.5,619.8 343.5,620.2 346.5,620.7 349.5,621.1 352.5,621.6 355.5,622.2 358.5,622.8 361.5,623.4 364.5,624.1 367.5,624.8 370.5,625.6 373.5,626.4 376.5,627.3 379.5,628.3 382.5,629.3 385.5,630.4 388.5,631.5 391.5,632.6 394.5,633.8 397.5,635.0 400.5,636.3 403.5,637.6 406.5,639.1 409.5,640.5 412.5,642.0 415.5,643.5 418.5,644.9 421.5,646.7 424.5,649.0 427.5,652.7 430.5,657.5 433.5,662.9 436.5,668.1 439.5,673.2 442.5,678.7 445.5,683.8 448.5,687.6 451.5,689.9 454.5,691.5 457.5,692.9 460.5,694.3 463.5,696.0 466.5,698.3 469.5,701.1 472.5,704.3 475.5,707.8 478.5,711.4 481.5,714.9 484.5,718.6 487.5,722.5 490.5,726.4 493.5,730.3 496.5,734.0 499.5,737.8 502.5,741.5 505.5,745.2 508.5,749.0 511.5,752.7 514.5,756.5 517.5,760.4 520.5,764.3 523.5,768.3 526.5,772.3 529.5,776.2 532.5,780.1 535.5,783.8 538.5,787.5 541.5,791.2 544.5,794.7 547.5,798.1 550.5,801.0 553.5,803.9 556.5,806.5 559.5,808.9 562.5,811.0 565.5,812.7 568.5,814.0 571.5,815.4 574.5,817.4 577.5,820.3 580.5,823.5 583.5,826.9 586.5,830.2 589.5,833.1 592.5,835.8 595.5,838.4 598.5,840.7 601.5,842.5 604.5,843.6 607.5,844.7 610.5,845.4 613.5,845.7 616.5,844.9 619.5,842.9 622.5,840.3 625.5,835.9 628.5,829.7 631.5,823.0 634.5,816.2 637.5,808.8 640.5,801.0 643.5,793.4 646.5,786.1 649.5,778.6 652.5,771.4 655.5,764.8 658.5,759.2 661.5,754.2 664.5,749.9 667.5,746.3 670.5,743.5 673.5,741.0 676.5,738.8 679.5,736.8 682.5,735.1 685.5,733.5 688.5,732.1 691.5,730.7 694.5,729.3 697.5,727.7 700.5,726.1 703.5,725.3 706.5,726.0 709.5,727.7 712.5,729.6 715.5,731.8 718.5,734.3 721.5,737.2 724.5,740.3 727.5,743.6 730.5,747.0 733.5,750.9 736.5,755.3 739.5,759.6 742.5,763.6 745.5,766.8 748.5,769.4 751.5,771.7 754.5,774.0 757.5,776.6 760.5,779.2 763.5,781.9 766.5,784.7 769.5,787.7 772.5,791.0 775.5,795.0 778.5,799.4 781.5,803.7 784.5,807.6 787.5,810.8 790.5,813.5 793.5,815.9 796.5,818.2 799.5,820.7 802.5,823.3 805.5,826.3 808.5,829.7 811.5,833.2 814.5,836.9 817.5,840.6 820.5,844.4 823.5,848.5 826.5,852.7 829.5,856.3 832.5,859.1 835.5,861.6 838.5,863.2 841.5,864.2 844.5,864.7 847.5,864.1 850.5,862.5 853.5,860.6 856.5,858.6 859.5,856.3 862.5,853.6 865.5,850.5 868.5,847.0 871.5,843.0 874.5,838.8 877.5,834.2 880.5,829.0 883.5,823.4 886.5,817.7 889.5,812.1 892.5,806.2 895.5,800.2 898.5,794.6 901.5,789.8 904.5,785.7 907.5,782.0 910.5,778.6 913.5,775.6 916.5,772.8 919.5,770.2 922.5,767.8 925.5,765.8 928.5,764.2 931.5,762.9 934.5,761.9 937.5,761.0 940.5,760.3 943.5,759.9 946.5,759.5 949.5,759.3 952.5,759.5 955.5,760.4 958.5,761.7 961.5,763.1 964.5,764.7 967.5,766.4 970.5,768.2 973.5,769.9 976.5,771.5 979.5,773.1 982.5,774.6 985.5,775.7 988.5,776.6 991.5,777.4 994.5,777.8 997.5,777.4 1000.5,776.3 1003.5,774.9 1006.5,773.0 1009.5,770.6 1012.5,768.3 1015.5,766.2 1018.5,763.9 1021.5,761.8 1024.5,759.9 1027.5,758.4 1030.5,756.9 1033.5,755.9 1036.5,755.9 1039.5,756.4 1042.5,757.3 1045.5,758.1 1048.5,758.8 1051.5,759.4 1054.5,760.0 1057.5,760.5 1060.5,761.0 1063.5,761.5 1066.5,761.9 1069.5,762.4 1072.5,763.0 1075.5,763.4 1078.5,763.7 1081.5,763.8 1084.5,763.4 1087.5,762.7 1090.5,761.8 1093.5,760.9 1096.5,760.1 1099.5,759.2 1102.5,758.3 1105.5,757.3 1108.5,756.4 1111.5,755.6 1114.5,754.6 1117.5,753.6 1120.5,752.8 1123.5,752.3 1126.5,752.4 1129.5,752.6 1132.5,752.9 1135.5,753.2 1138.5,753.3 1141.5,753.1 1144.5,752.5 1147.5,751.7 1150.5,750.8 1153.5,749.5 1156.5,747.4 1159.5,745.1 1162.5,743.1 1165.5,741.5 1168.5,739.9 1171.5,738.5 1174.5,737.5 1177.5,737.0 1180.5,736.5 1183.5,736.1 1186.5,735.8 1189.5,735.5 1192.5,735.4 1195.5,735.3 1198.5,735.4 1201.5,735.6 1204.5,735.9 1207.5,736.3 1210.5,736.6 1213.5,736.8 1216.5,736.8 1219.5,736.8 1222.5,736.6 1225.5,736.4 1228.5,736.2 1231.5,736.0 1234.5,735.6 1237.5,734.9 1240.5,734.0 1243.5,732.9 1246.5,731.9 1249.5,731.0 1252.5,730.4 1255.5,729.8 1258.5,729.2 1261.5,728.9 1264.5,728.9 1267.5,729.3 1270.5,729.9 1273.5,730.5 1276.5,731.0 1279.5,731.4 1282.5,731.9 1285.5,732.3 1288.5,732.7 1291.5,732.8 1294.5,732.5 1297.5,731.4 1300.5,729.9 1303.5,728.6 1306.5,727.9 1309.5,727.7 1312.5,727.5 1315.5,727.4 1318.5,727.4 1321.5,727.3 1324.5,727.5 1327.5,728.3 1330.5,729.3 1333.5,730.5 1336.5,731.7 1339.5,732.7 1342.5,733.8 1345.5,735.0 1348.5,736.2 1351.5,737.6 1354.5,739.0 1357.5,740.6 1360.5,742.5 1363.5,744.7 1366.5,747.0 1369.5,749.4 1372.5,752.2 1375.5,755.3 1378.5,757.5 1381.5,758.3 1384.5,758.8 1387.5,759.1 1390.5,759.4 1393.5,759.8 1396.5,760.2 1399.5,760.9 1402.5,761.7 1405.5,762.7 1408.5,763.7 1411.5,764.7 1414.5,765.6 1417.5,766.6 1420.5,767.7 1423.5,768.9 1426.5,770.3 1429.5,772.1 1432.5,774.0 1435.5,775.9 1438.5,777.9 1441.5,780.0 1444.5,782.0 1447.5,783.6 1450.5,784.9 1453.5,785.7 1456.5,785.5 1459.5,784.3 1462.5,782.7 1465.5,781.0 1468.5,779.4 1471.5,777.8 1474.5,776.1 1477.5,774.3 1480.5,772.5 1483.5,770.8 1486.5,769.1 1489.5,767.3 1492.5,765.5 1495.5,763.4 1498.5,761.0 1501.5,758.5 1504.5,756.0 1507.5,753.8 1510.5,751.8 1513.5,749.9 1516.5,748.2 1519.5,746.7 1522.5,745.3 1525.5,744.0 1528.5,742.9 1531.5,741.9 1534.5,740.9 1537.5,740.0 1540.5,739.2 1543.5,738.8 1546.5,738.9 1549.5,739.2 1552.5,739.6 1555.5,740.1 1558.5,740.7 1561.5,741.8 1564.5,743.0 1567.5,744.3 1570.5,745.5 1573.5,746.3 1576.5,747.1 1579.5,747.9 1582.5,748.4 1585.5,748.8 1588.5,748.8 1591.5,748.5 1594.5,748.1 1597.5,747.6 1600.5,747.0 1603.5,746.4 1606.5,745.5 1609.5,744.5 1612.5,743.3 1615.5,742.2 1618.5,741.2 1621.5,740.2 1624.5,739.3 1627.5,738.3 1630.5,737.2 1633.5,736.0 1636.5,734.5 1639.5,732.9 1642.5,731.5 1645.5,730.5 1648.5,730.1 1651.5,729.9 1654.5,729.7 1657.5,729.5 1660.5,729.2 1663.5,728.8 1666.5,728.3 1669.5,727.8 1672.5,727.3 1675.5,726.9 1678.5,726.7 1681.5,726.4 1684.5,726.2 1687.5,726.0 1690.5,725.9 1693.5,725.8 1696.5,725.9 1699.5,726.1 1702.5,726.4 1705.5,726.7 1708.5,727.2 1711.5,728.1 1714.5,729.0 1717.5,729.7 1720.5,729.7 1723.5,728.8 1726.5,727.6 1729.5,726.6 1732.5,726.3 1735.5,726.3 1738.5,726.3 1741.5,726.3 1744.5,727.5 1747.5,730.3 1750.5,733.4 1753.5,736.1 1756.5,738.9 1759.5,741.1 1762.5,742.7 1765.5,744.1 1768.5,745.3 1771.5,746.8 1774.5,748.5 1777.5,750.4 1780.5,752.2 1783.5,754.0 1786.5,755.9 1789.5,757.3 1792.5,757.6 1795.5,757.9 1798.5,758.1 1801.5,758.2 1804.5,758.3 1807.5,757.9 1810.5,756.9 1813.5,755.7 1816.5,754.6 1819.5,753.2 1822.5,751.9 1825.5,751.0 1828.5,750.9 1831.5,751.6 1834.5,752.7 1837.5,753.6 1840.5,753.8 1843.5,753.4 1846.5,752.8 1849.5,751.9 1852.5,751.0 1855.5,750.0 1858.5,749.0 1861.5,747.7 1864.5,746.4 1867.5,745.1 1870.5,744.0 1873.5,743.0 1876.5,742.0 1879.5,741.0 1882.5,740.0 1885.5,739.0 1888.5,738.0 1891.5,736.9 1894.5,735.8 1897.5,734.9 1900.5,734.1 1903.5,733.3 1906.5,732.5 1909.5,732.0 1912.5,731.8 1915.5,732.1 1918.5,732.5 1921.5,733.2 1924.5,733.8 1927.5,734.4 1930.5,735.1 1933.5,735.9 1936.5,736.7" fill="none" stroke="#00ffff" stroke-width="2.6" stroke-linejoin="round" />
<polyline points="229.5,718.8 232.5,719.2 235.5,719.6 238.5,719.9 241.5,720.2 244.5,720.4 247.5,720.6 250.5,720.8 253.5,720.8 256.5,720.8 259.5,720.7 262.5,720.6 265.5,720.4 268.5,720.2 271.5,720.0 274.5,719.8 277.5,719.6 280.5,719.4 283.5,719.3 286.5,719.3 289.5,719.3 292.5,719.3 295.5,719.3 298.5,719.3 301.5,719.3 304.5,719.3 307.5,719.3 310.5,719.3 313.5,719.6 316.5,720.1 319.5,720.8 322.5,721.6 325.5,722.4 328.5,723.1 331.5,723.6 334.5,723.8 337.5,723.8 340.5,723.8 343.5,723.8 346.5,723.8 349.5,723.8 352.5,723.8 355.5,723.8 358.5,724.2 361.5,724.9 364.5,725.9 367.5,727.0 370.5,728.0 373.5,729.1 376.5,730.3 379.5,731.6 382.5,732.9 385.5,734.4 388.5,735.8 391.5,737.4 394.5,739.0 397.5,740.8 400.5,742.8 403.5,744.8 406.5,746.8 409.5,748.7 412.5,750.4 415.5,751.8 418.5,753.0 421.5,754.4 424.5,756.4 427.5,760.0 430.5,765.0 433.5,770.4 436.5,775.6 439.5,780.1 442.5,784.7 445.5,789.0 448.5,792.5 451.5,795.1 454.5,797.2 457.5,799.1 460.5,801.0 463.5,803.2 466.5,805.9 469.5,809.1 472.5,812.6 475.5,816.4 478.5,820.2 481.5,823.9 484.5,827.8 487.5,831.8 490.5,835.8 493.5,840.0 496.5,844.2 499.5,848.7 502.5,853.2 505.5,857.8 508.5,862.4 511.5,867.0 514.5,871.4 517.5,875.7 520.5,879.9 523.5,884.1 526.5,888.2 529.5,892.3 532.5,896.3 535.5,900.2 538.5,904.4 541.5,908.5 544.5,912.5 547.5,916.0 550.5,918.8 553.5,921.2 556.5,923.2 559.5,925.1 562.5,926.9 565.5,928.8 568.5,930.5 571.5,932.2 574.5,934.0 577.5,936.0 580.5,938.2 583.5,940.3 586.5,942.3 589.5,944.0 592.5,945.4 595.5,946.6 598.5,947.7 601.5,948.8 604.5,949.9 607.5,951.3 610.5,952.9 613.5,953.9 616.5,953.6 619.5,952.0 622.5,949.6 625.5,945.5 628.5,939.5 631.5,932.9 634.5,926.0 637.5,918.1 640.5,909.8 643.5,901.8 646.5,894.6 649.5,887.6 652.5,880.9 655.5,874.7 658.5,869.0 661.5,863.7 664.5,858.9 667.5,855.2 670.5,852.2 673.5,849.6 676.5,847.4 679.5,845.7 682.5,844.3 685.5,842.8 688.5,841.6 691.5,840.7 694.5,840.2 697.5,840.5 700.5,841.7 703.5,843.5 706.5,845.4 709.5,847.5 712.5,850.3 715.5,853.0 718.5,855.2 721.5,856.4 724.5,857.1 727.5,857.8 730.5,858.6 733.5,860.0 736.5,862.5 739.5,865.7 742.5,870.6 745.5,876.6 748.5,881.6 751.5,886.0 754.5,890.0 757.5,893.1 760.5,895.3 763.5,897.5 766.5,900.7 769.5,906.7 772.5,910.6 775.5,912.6 778.5,915.0 781.5,920.1 784.5,924.2 787.5,926.6 790.5,928.5 793.5,930.6 796.5,933.2 799.5,936.4 802.5,939.8 805.5,943.3 808.5,946.6 811.5,949.5 814.5,952.0 817.5,954.3 820.5,956.6 823.5,959.0 826.5,961.8 829.5,964.8 832.5,967.6 835.5,969.7 838.5,971.1 841.5,972.2 844.5,972.3 847.5,970.5 850.5,967.8 853.5,964.5 856.5,960.0 859.5,954.7 862.5,949.1 865.5,943.1 868.5,936.2 871.5,930.7 874.5,927.3 877.5,923.8 880.5,918.0 883.5,910.0 886.5,902.8 889.5,896.5 892.5,890.5 895.5,885.0 898.5,880.0 901.5,875.8 904.5,872.1 907.5,868.7 910.5,865.6 913.5,862.8 916.5,860.5 919.5,858.5 922.5,856.7 925.5,855.2 928.5,854.2 931.5,853.3 934.5,852.6 937.5,851.9 940.5,851.5 943.5,851.2 946.5,851.3 949.5,851.8 952.5,852.6 955.5,853.6 958.5,854.9 961.5,856.7 964.5,858.6 967.5,860.3 970.5,861.6 973.5,862.9 976.5,864.0 979.5,865.1 982.5,865.9 985.5,866.6 988.5,867.2 991.5,867.8 994.5,868.2 997.5,868.5 1000.5,868.7 1003.5,868.0 1006.5,866.0 1009.5,863.6 1012.5,861.2 1015.5,859.1 1018.5,856.7 1021.5,854.6 1024.5,853.3 1027.5,853.2 1030.5,853.2 1033.5,853.2 1036.5,853.3 1039.5,854.3 1042.5,855.5 1045.5,856.0 1048.5,856.4 1051.5,856.9 1054.5,857.8 1057.5,858.9 1060.5,860.0 1063.5,860.8 1066.5,861.4 1069.5,861.9 1072.5,862.2 1075.5,861.7 1078.5,860.3 1081.5,858.8 1084.5,857.9 1087.5,857.2 1090.5,856.7 1093.5,856.7 1096.5,857.0 1099.5,857.4 1102.5,857.7 1105.5,857.8 1108.5,858.0 1111.5,858.1 1114.5,858.2 1117.5,857.8 1120.5,856.8 1123.5,855.4 1126.5,853.9 1129.5,852.6 1132.5,851.3 1135.5,849.9 1138.5,848.5 1141.5,847.3 1144.5,846.3 1147.5,845.5 1150.5,844.8 1153.5,844.1 1156.5,843.2 1159.5,842.1 1162.5,840.1 1165.5,837.9 1168.5,835.8 1171.5,834.4 1174.5,834.3 1177.5,834.6 1180.5,835.1 1183.5,835.2 1186.5,834.8 1189.5,834.2 1192.5,833.5 1195.5,833.2 1198.5,833.5 1201.5,834.2 1204.5,835.0 1207.5,835.6 1210.5,836.0 1213.5,836.4 1216.5,836.7 1219.5,837.0 1222.5,837.1 1225.5,837.2 1228.5,837.0 1231.5,836.4 1234.5,835.7 1237.5,834.9 1240.5,834.4 1243.5,834.2 1246.5,834.2 1249.5,834.2 1252.5,834.2 1255.5,834.2 1258.5,834.2 1261.5,834.2 1264.5,834.2 1267.5,834.0 1270.5,833.1 1273.5,831.8 1276.5,830.5 1279.5,829.4 1282.5,828.8 1285.5,828.3 1288.5,827.9 1291.5,827.7 1294.5,827.9 1297.5,828.5 1300.5,829.3 1303.5,830.2 1306.5,831.0 1309.5,831.6 1312.5,831.7 1315.5,831.6 1318.5,831.3 1321.5,831.0 1324.5,830.8 1327.5,830.7 1330.5,831.3 1333.5,832.5 1336.5,834.0 1339.5,835.6 1342.5,836.9 1345.5,838.1 1348.5,839.3 1351.5,840.5 1354.5,841.7 1357.5,842.9 1360.5,844.2 1363.5,845.4 1366.5,846.6 1369.5,848.0 1372.5,849.5 1375.5,851.4 1378.5,853.5 1381.5,855.7 1384.5,857.8 1387.5,860.0 1390.5,862.4 1393.5,864.2 1396.5,864.7 1399.5,864.5 1402.5,864.1 1405.5,863.7 1408.5,863.4 1411.5,863.2 1414.5,863.7 1417.5,865.4 1420.5,867.6 1423.5,869.7 1426.5,871.4 1429.5,873.0 1432.5,874.6 1435.5,876.1 1438.5,877.4 1441.5,878.6 1444.5,879.6 1447.5,880.3 1450.5,880.7 1453.5,881.0 1456.5,881.2 1459.5,880.7 1462.5,879.3 1465.5,877.5 1468.5,875.5 1471.5,872.8 1474.5,869.7 1477.5,866.7 1480.5,864.3 1483.5,862.3 1486.5,860.5 1489.5,858.7 1492.5,856.9 1495.5,854.9 1498.5,852.7 1501.5,850.5 1504.5,848.3 1507.5,846.2 1510.5,844.0 1513.5,841.8 1516.5,839.8 1519.5,838.1 1522.5,836.7 1525.5,835.5 1528.5,834.4 1531.5,833.3 1534.5,832.1 1537.5,830.9 1540.5,829.8 1543.5,829.2 1546.5,829.6 1549.5,830.8 1552.5,832.0 1555.5,833.5 1558.5,835.0 1561.5,835.7 1564.5,835.7 1567.5,835.7 1570.5,835.9 1573.5,837.0 1576.5,838.7 1579.5,839.8 1582.5,840.3 1585.5,840.8 1588.5,841.2 1591.5,841.7 1594.5,842.5 1597.5,843.5 1600.5,844.1 1603.5,843.8 1606.5,841.6 1609.5,839.0 1612.5,837.4 1615.5,836.4 1618.5,835.6 1621.5,834.8 1624.5,834.1 1627.5,833.5 1630.5,833.0 1633.5,832.4 1636.5,831.8 1639.5,830.9 1642.5,829.8 1645.5,828.7 1648.5,827.8 1651.5,827.2 1654.5,827.0 1657.5,826.8 1660.5,826.6 1663.5,826.5 1666.5,826.2 1669.5,825.8 1672.5,825.3 1675.5,824.8 1678.5,824.6 1681.5,824.5 1684.5,824.4 1687.5,824.3 1690.5,824.2 1693.5,824.2 1696.5,824.2 1699.5,824.2 1702.5,824.2 1705.5,824.2 1708.5,824.3 1711.5,824.8 1714.5,825.4 1717.5,826.0 1720.5,826.4 1723.5,826.6 1726.5,826.8 1729.5,827.0 1732.5,827.4 1735.5,828.1 1738.5,829.2 1741.5,830.5 1744.5,831.8 1747.5,833.1 1750.5,834.5 1753.5,836.0 1756.5,837.7 1759.5,839.5 1762.5,841.7 1765.5,844.2 1768.5,847.1 1771.5,850.5 1774.5,854.7 1777.5,857.9 1780.5,860.1 1783.5,861.5 1786.5,861.4 1789.5,860.3 1792.5,859.1 1795.5,858.7 1798.5,858.9 1801.5,859.4 1804.5,860.0 1807.5,860.8 1810.5,862.2 1813.5,863.8 1816.5,864.6 1819.5,865.3 1822.5,865.6 1825.5,865.0 1828.5,861.8 1831.5,858.3 1834.5,855.9 1837.5,853.8 1840.5,852.2 1843.5,851.5 1846.5,851.2 1849.5,851.0 1852.5,850.6 1855.5,849.5 1858.5,847.8 1861.5,845.9 1864.5,844.3 1867.5,843.0 1870.5,841.7 1873.5,840.9 1876.5,840.6 1879.5,840.5 1882.5,840.4 1885.5,840.1 1888.5,838.8 1891.5,836.7 1894.5,834.3 1897.5,831.5 1900.5,828.0 1903.5,825.0 1906.5,823.1 1909.5,821.6 1912.5,820.5 1915.5,820.3 1918.5,821.1 1921.5,822.6 1924.5,824.2 1927.5,826.4 1930.5,828.8 1933.5,829.2 1936.5,829.2" fill="none" stroke="#ff00ff" stroke-width="2.6" stroke-linejoin="round" />
<polyline points="229.5,847.7 232.5,848.6 235.5,849.4 238.5,850.2 241.5,850.8 244.5,851.3 247.5,851.6 250.5,851.7 253.5,851.7 256.5,851.6 259.5,851.5 262.5,851.4 265.5,851.2 268.5,851.1 271.5,850.9 274.5,850.7 277.5,850.5 280.5,850.2 283.5,849.8 286.5,849.4 289.5,849.0 292.5,848.8 295.5,848.7 298.5,848.8 301.5,849.0 304.5,849.2 307.5,849.5 310.5,849.7 313.5,850.0 316.5,850.1 319.5,850.2 322.5,850.1 325.5,849.6 328.5,849.0 331.5,848.4 334.5,847.9 337.5,847.7 340.5,848.0 343.5,848.9 346.5,850.0 349.5,851.3 352.5,852.5 355.5,853.4 358.5,854.0 361.5,854.6 364.5,855.2 367.5,855.8 370.5,856.4 373.5,857.3 376.5,858.4 379.5,860.2 382.5,862.4 385.5,864.5 388.5,866.3 391.5,868.0 394.5,869.5 397.5,871.0 400.5,872.4 403.5,873.9 406.5,875.3 409.5,876.6 412.5,877.8 415.5,879.0 418.5,880.2 421.5,881.7 424.5,883.7 427.5,887.0 430.5,891.4 433.5,896.2 436.5,900.6 439.5,904.4 442.5,908.0 445.5,911.4 448.5,914.5 451.5,917.4 454.5,920.0 457.5,922.4 460.5,924.6 463.5,926.5 466.5,929.1 469.5,932.6 472.5,936.4 475.5,940.0 478.5,943.6 481.5,946.8 484.5,949.7 487.5,952.6 490.5,955.6 493.5,958.9 496.5,962.5 499.5,966.4 502.5,970.4 505.5,974.4 508.5,978.4 511.5,982.2 514.5,986.0 517.5,989.8 520.5,993.6 523.5,997.4 526.5,1001.1 529.5,1004.7 532.5,1008.3 535.5,1011.9 538.5,1015.5 541.5,1019.0 544.5,1022.4 547.5,1025.4 550.5,1028.1 553.5,1030.5 556.5,1032.8 559.5,1034.8 562.5,1036.7 565.5,1038.4 568.5,1039.9 571.5,1041.2 574.5,1042.5 577.5,1043.9 580.5,1045.3 583.5,1046.7 586.5,1048.2 589.5,1049.7 592.5,1051.3 595.5,1052.8 598.5,1054.8 601.5,1056.8 604.5,1058.3 607.5,1058.8 610.5,1058.8 613.5,1058.8 616.5,1057.9 619.5,1053.9 622.5,1049.3 625.5,1044.4 628.5,1038.9 631.5,1033.2 634.5,1027.5 637.5,1022.1 640.5,1016.5 643.5,1011.0 646.5,1005.5 649.5,1000.0 652.5,994.5 655.5,989.0 658.5,983.5 661.5,978.3 664.5,973.4 667.5,968.7 670.5,964.4 673.5,960.7 676.5,957.1 679.5,953.7 682.5,950.8 685.5,948.4 688.5,946.6 691.5,945.1 694.5,944.1 697.5,944.4 700.5,947.7 703.5,952.4 706.5,956.8 709.5,960.3 712.5,963.6 715.5,966.4 718.5,968.2 721.5,969.4 724.5,970.3 727.5,971.1 730.5,971.9 733.5,973.0 736.5,974.6 739.5,978.0 742.5,984.0 745.5,990.1 748.5,994.3 751.5,997.8 754.5,1000.5 757.5,1002.1 760.5,1003.0 763.5,1003.9 766.5,1005.2 769.5,1007.4 772.5,1010.6 775.5,1014.3 778.5,1019.2 781.5,1025.6 784.5,1031.7 787.5,1035.6 790.5,1038.5 793.5,1040.9 796.5,1043.0 799.5,1044.8 802.5,1046.7 805.5,1048.9 808.5,1051.4 811.5,1054.0 814.5,1056.6 817.5,1059.1 820.5,1061.4 823.5,1063.8 826.5,1066.0 829.5,1068.0 832.5,1069.7 835.5,1071.3 838.5,1072.6 841.5,1073.4 844.5,1074.0 847.5,1074.3 850.5,1073.8 853.5,1071.8 856.5,1069.3 859.5,1065.5 862.5,1060.5 865.5,1055.5 868.5,1050.7 871.5,1045.7 874.5,1040.7 877.5,1035.6 880.5,1030.5 883.5,1025.3 886.5,1019.9 889.5,1014.5 892.5,1009.3 895.5,1004.4 898.5,1000.0 901.5,995.6 904.5,991.7 907.5,988.2 910.5,985.5 913.5,983.1 916.5,981.0 919.5,979.3 922.5,977.7 925.5,976.3 928.5,975.0 931.5,973.6 934.5,971.9 937.5,970.2 940.5,968.9 943.5,968.4 946.5,969.1 949.5,970.3 952.5,971.8 955.5,973.9 958.5,976.1 961.5,977.7 964.5,979.1 967.5,979.9 970.5,979.6 973.5,978.8 976.5,978.4 979.5,978.7 982.5,979.3 985.5,979.9 988.5,980.5 991.5,981.3 994.5,981.9 997.5,981.8 1000.5,981.4 1003.5,980.9 1006.5,979.7 1009.5,978.0 1012.5,976.3 1015.5,975.0 1018.5,974.1 1021.5,973.3 1024.5,972.7 1027.5,972.4 1030.5,972.4 1033.5,972.4 1036.5,972.4 1039.5,972.4 1042.5,972.6 1045.5,973.5 1048.5,974.8 1051.5,975.9 1054.5,976.7 1057.5,977.2 1060.5,977.7 1063.5,978.1 1066.5,978.6 1069.5,979.2 1072.5,979.8 1075.5,980.3 1078.5,980.4 1081.5,980.2 1084.5,979.8 1087.5,979.3 1090.5,978.8 1093.5,978.4 1096.5,978.0 1099.5,977.7 1102.5,977.4 1105.5,976.9 1108.5,976.4 1111.5,975.8 1114.5,975.2 1117.5,974.4 1120.5,973.7 1123.5,972.9 1126.5,972.2 1129.5,971.5 1132.5,970.9 1135.5,970.2 1138.5,969.5 1141.5,968.7 1144.5,967.9 1147.5,967.0 1150.5,966.0 1153.5,964.6 1156.5,962.9 1159.5,961.0 1162.5,959.1 1165.5,957.5 1168.5,955.9 1171.5,954.4 1174.5,953.5 1177.5,953.4 1180.5,953.4 1183.5,953.4 1186.5,953.5 1189.5,954.0 1192.5,954.8 1195.5,955.7 1198.5,956.3 1201.5,956.4 1204.5,956.3 1207.5,956.2 1210.5,955.9 1213.5,955.7 1216.5,955.4 1219.5,955.2 1222.5,955.0 1225.5,954.9 1228.5,955.0 1231.5,955.3 1234.5,955.6 1237.5,956.0 1240.5,956.4 1243.5,956.7 1246.5,956.9 1249.5,956.9 1252.5,956.8 1255.5,956.6 1258.5,956.4 1261.5,956.1 1264.5,955.7 1267.5,955.0 1270.5,954.0 1273.5,952.9 1276.5,951.8 1279.5,951.1 1282.5,950.7 1285.5,950.3 1288.5,950.1 1291.5,949.9 1294.5,950.3 1297.5,951.5 1300.5,952.9 1303.5,954.2 1306.5,954.9 1309.5,954.8 1312.5,954.6 1315.5,954.1 1318.5,953.7 1321.5,953.3 1324.5,953.0 1327.5,952.9 1330.5,953.3 1333.5,954.2 1336.5,955.4 1339.5,956.8 1342.5,958.1 1345.5,959.3 1348.5,960.6 1351.5,962.0 1354.5,963.5 1357.5,965.0 1360.5,966.4 1363.5,967.7 1366.5,968.8 1369.5,969.7 1372.5,970.6 1375.5,971.4 1378.5,972.2 1381.5,972.9 1384.5,973.5 1387.5,974.0 1390.5,974.4 1393.5,974.8 1396.5,975.1 1399.5,975.5 1402.5,976.0 1405.5,976.9 1408.5,978.1 1411.5,979.5 1414.5,981.1 1417.5,982.7 1420.5,984.2 1423.5,985.7 1426.5,987.2 1429.5,988.7 1432.5,990.3 1435.5,991.7 1438.5,993.3 1441.5,995.0 1444.5,996.2 1447.5,996.3 1450.5,995.8 1453.5,994.9 1456.5,993.9 1459.5,993.0 1462.5,992.3 1465.5,991.8 1468.5,991.4 1471.5,991.0 1474.5,990.4 1477.5,989.7 1480.5,988.0 1483.5,985.4 1486.5,982.4 1489.5,979.4 1492.5,976.8 1495.5,974.4 1498.5,971.9 1501.5,969.5 1504.5,967.4 1507.5,965.5 1510.5,963.6 1513.5,961.7 1516.5,960.4 1519.5,959.9 1522.5,960.0 1525.5,960.1 1528.5,960.2 1531.5,960.3 1534.5,960.4 1537.5,960.4 1540.5,959.3 1543.5,957.4 1546.5,955.4 1549.5,953.8 1552.5,953.5 1555.5,954.4 1558.5,956.2 1561.5,958.1 1564.5,959.5 1567.5,959.9 1570.5,959.8 1573.5,959.5 1576.5,959.4 1579.5,959.7 1582.5,960.6 1585.5,961.6 1588.5,962.5 1591.5,962.9 1594.5,962.8 1597.5,962.5 1600.5,962.0 1603.5,961.5 1606.5,961.0 1609.5,960.6 1612.5,960.4 1615.5,960.3 1618.5,960.2 1621.5,960.2 1624.5,960.0 1627.5,959.7 1630.5,956.7 1633.5,952.3 1636.5,949.0 1639.5,947.5 1642.5,946.2 1645.5,945.5 1648.5,945.7 1651.5,946.9 1654.5,948.5 1657.5,950.0 1660.5,950.7 1663.5,951.2 1666.5,951.4 1669.5,950.9 1672.5,949.5 1675.5,947.7 1678.5,946.2 1681.5,945.0 1684.5,943.7 1687.5,942.5 1690.5,941.7 1693.5,941.4 1696.5,941.9 1699.5,942.6 1702.5,943.3 1705.5,943.5 1708.5,943.6 1711.5,943.7 1714.5,943.7 1717.5,943.8 1720.5,944.2 1723.5,945.6 1726.5,947.4 1729.5,949.8 1732.5,952.7 1735.5,955.0 1738.5,957.4 1741.5,959.1 1744.5,959.1 1747.5,957.3 1750.5,955.9 1753.5,955.7 1756.5,955.5 1759.5,955.5 1762.5,958.0 1765.5,961.6 1768.5,963.5 1771.5,964.8 1774.5,965.9 1777.5,966.9 1780.5,968.1 1783.5,969.6 1786.5,972.1 1789.5,975.6 1792.5,978.9 1795.5,981.5 1798.5,983.6 1801.5,983.8 1804.5,983.7 1807.5,983.3 1810.5,981.8 1813.5,979.4 1816.5,977.6 1819.5,977.0 1822.5,976.6 1825.5,976.4 1828.5,976.4 1831.5,976.6 1834.5,977.0 1837.5,977.3 1840.5,977.7 1843.5,977.9 1846.5,977.8 1849.5,977.5 1852.5,976.9 1855.5,976.1 1858.5,975.2 1861.5,974.2 1864.5,972.5 1867.5,970.4 1870.5,968.1 1873.5,965.7 1876.5,963.4 1879.5,960.5 1882.5,957.5 1885.5,955.0 1888.5,953.5 1891.5,953.6 1894.5,954.4 1897.5,955.6 1900.5,956.8 1903.5,958.6 1906.5,959.9 1909.5,959.6 1912.5,958.7 1915.5,957.4 1918.5,954.5 1921.5,950.7 1924.5,947.5 1927.5,944.9 1930.5,942.8 1933.5,943.0 1936.5,947.4" fill="none" stroke="#808000" stroke-width="2.6" stroke-linejoin="round" />
<line x1="563.30" y1="275.00" x2="563.30" y2="1082.80" stroke="#000" stroke-width="3.2" stroke-dasharray="8 6.5"/>
<line x1="614.30" y1="332.00" x2="614.30" y2="1125.00" stroke="#000" stroke-width="3.2" stroke-dasharray="8 6.5"/>
<rect x="229.5" y="97.0" width="1707.5" height="1161.7" fill="none" stroke="#000" stroke-width="5.4"/>
<line x1="229.50" y1="1258.70" x2="229.50" y2="1282.00" stroke="#000" stroke-width="5.2" />
<line x1="336.22" y1="1258.70" x2="336.22" y2="1269.50" stroke="#000" stroke-width="5.0" />
<line x1="442.94" y1="1258.70" x2="442.94" y2="1282.00" stroke="#000" stroke-width="5.2" />
<line x1="549.66" y1="1258.70" x2="549.66" y2="1269.50" stroke="#000" stroke-width="5.0" />
<line x1="656.38" y1="1258.70" x2="656.38" y2="1282.00" stroke="#000" stroke-width="5.2" />
<line x1="763.09" y1="1258.70" x2="763.09" y2="1269.50" stroke="#000" stroke-width="5.0" />
<line x1="869.81" y1="1258.70" x2="869.81" y2="1282.00" stroke="#000" stroke-width="5.2" />
<line x1="976.53" y1="1258.70" x2="976.53" y2="1269.50" stroke="#000" stroke-width="5.0" />
<line x1="1083.25" y1="1258.70" x2="1083.25" y2="1282.00" stroke="#000" stroke-width="5.2" />
<line x1="1189.97" y1="1258.70" x2="1189.97" y2="1269.50" stroke="#000" stroke-width="5.0" />
<line x1="1296.69" y1="1258.70" x2="1296.69" y2="1282.00" stroke="#000" stroke-width="5.2" />
<line x1="1403.41" y1="1258.70" x2="1403.41" y2="1269.50" stroke="#000" stroke-width="5.0" />
<line x1="1510.12" y1="1258.70" x2="1510.12" y2="1282.00" stroke="#000" stroke-width="5.2" />
<line x1="1616.84" y1="1258.70" x2="1616.84" y2="1269.50" stroke="#000" stroke-width="5.0" />
<line x1="1723.56" y1="1258.70" x2="1723.56" y2="1282.00" stroke="#000" stroke-width="5.2" />
<line x1="1830.28" y1="1258.70" x2="1830.28" y2="1269.50" stroke="#000" stroke-width="5.0" />
<line x1="1937.00" y1="1258.70" x2="1937.00" y2="1282.00" stroke="#000" stroke-width="5.2" />
<text transform="translate(229.80 1353.07) scale(1.0544 1)" font-size="71.67" fill="#000" stroke="#000" stroke-width="0.86" text-anchor="middle" font-family='"Liberation Sans", Arial, sans-serif'>1800</text>
<text transform="translate(443.24 1353.07) scale(1.0544 1)" font-size="71.67" fill="#000" stroke="#000" stroke-width="0.86" text-anchor="middle" font-family='"Liberation Sans", Arial, sans-serif'>1700</text>
<text transform="translate(656.67 1353.07) scale(1.0544 1)" font-size="71.67" fill="#000" stroke="#000" stroke-width="0.86" text-anchor="middle" font-family='"Liberation Sans", Arial, sans-serif'>1600</text>
<text transform="translate(870.11 1353.07) scale(1.0544 1)" font-size="71.67" fill="#000" stroke="#000" stroke-width="0.86" text-anchor="middle" font-family='"Liberation Sans", Arial, sans-serif'>1500</text>
<text transform="translate(1083.55 1353.07) scale(1.0544 1)" font-size="71.67" fill="#000" stroke="#000" stroke-width="0.86" text-anchor="middle" font-family='"Liberation Sans", Arial, sans-serif'>1400</text>
<text transform="translate(1296.99 1353.07) scale(1.0544 1)" font-size="71.67" fill="#000" stroke="#000" stroke-width="0.86" text-anchor="middle" font-family='"Liberation Sans", Arial, sans-serif'>1300</text>
<text transform="translate(1510.42 1353.07) scale(1.0544 1)" font-size="71.67" fill="#000" stroke="#000" stroke-width="0.86" text-anchor="middle" font-family='"Liberation Sans", Arial, sans-serif'>1200</text>
<text transform="translate(1723.86 1353.07) scale(1.0544 1)" font-size="71.67" fill="#000" stroke="#000" stroke-width="0.86" text-anchor="middle" font-family='"Liberation Sans", Arial, sans-serif'>1100</text>
<text transform="translate(1937.30 1353.07) scale(1.0544 1)" font-size="71.67" fill="#000" stroke="#000" stroke-width="0.86" text-anchor="middle" font-family='"Liberation Sans", Arial, sans-serif'>1000</text>
<text transform="translate(1839.76 273.89) scale(1.0067 1)" font-size="64.30" fill="#000000" stroke="#000000" stroke-width="0.77" font-family='"Liberation Sans", Arial, sans-serif'>0%</text>
<text transform="translate(1783.39 389.09) scale(1.0231 1)" font-size="64.30" fill="#ff0000" stroke="#ff0000" stroke-width="0.77" font-family='"Liberation Sans", Arial, sans-serif'>3.2%</text>
<text transform="translate(1780.31 504.97) scale(1.0157 1)" font-size="65.12" fill="#00ff00" stroke="#00ff00" stroke-width="0.78" font-family='"Liberation Sans", Arial, sans-serif'>7.5%</text>
<text transform="translate(1744.46 611.69) scale(1.0272 1)" font-size="64.30" fill="#0000ff" stroke="#0000ff" stroke-width="0.77" font-family='"Liberation Sans", Arial, sans-serif'>10.4%</text>
<text transform="translate(1747.83 718.58) scale(1.0092 1)" font-size="64.58" fill="#00ffff" stroke="#00ffff" stroke-width="0.77" font-family='"Liberation Sans", Arial, sans-serif'>16.1%</text>
<text transform="translate(1743.44 817.49) scale(1.0469 1)" font-size="63.75" fill="#ff00ff" stroke="#ff00ff" stroke-width="0.76" font-family='"Liberation Sans", Arial, sans-serif'>21.5%</text>
<text transform="translate(1799.37 934.63) scale(1.0187 1)" font-size="64.93" fill="#808000" stroke="#808000" stroke-width="0.78" font-family='"Liberation Sans", Arial, sans-serif'>24%</text>
<text transform="translate(439.18 1145.49) scale(1.0332 1)" font-size="63.75" fill="#000" stroke="#000" stroke-width="0.76" font-family='"Liberation Sans", Arial, sans-serif'>1643</text>
<text transform="translate(588.06 1188.89) scale(1.0382 1)" font-size="63.75" fill="#000" stroke="#000" stroke-width="0.76" font-family='"Liberation Sans", Arial, sans-serif'>1620</text>
<text transform="translate(44.72 120.78) scale(1.1264 1)" font-size="99.61" fill="#000" stroke="#000" stroke-width="1.20" font-family='"Liberation Sans", Arial, sans-serif'>(A)</text>
<text transform="translate(164.42 997.48) rotate(-90) scale(1.0149 1)" font-size="100.49" fill="#000" stroke="#000" stroke-width="1.21" font-family='"Liberation Sans", Arial, sans-serif'>Transmittance</text>
<text transform="translate(588.58 1505.61) scale(1.1075 1)" font-size="98.98" fill="#000" stroke="#000" stroke-width="1.19" font-family='"Liberation Sans", Arial, sans-serif'>Wavenumber (cm</text>
<text transform="translate(1449.84 1465.61) scale(0.6426 1)" font-size="88.73" fill="#000" stroke="#000" stroke-width="1.06" font-family='"Liberation Sans", Arial, sans-serif'>—</text>
<text transform="translate(1503.41 1464.58) scale(0.9310 1)" font-size="70.29" fill="#000" stroke="#000" stroke-width="0.84" font-family='"Liberation Sans", Arial, sans-serif'>1</text>
<text transform="translate(1551.51 1505.61) scale(1.0463 1)" font-size="98.98" fill="#000" stroke="#000" stroke-width="1.19" font-family='"Liberation Sans", Arial, sans-serif'>)</text>
</g>
<g id="panelB">
<line x1="397.40" y1="1980.00" x2="1867.00" y2="2706.50" stroke="#ff0000" stroke-width="2.5" />
<polyline points="397.4,1957.0 401.4,1959.8 405.4,1962.6 409.4,1965.4 413.4,1968.2 417.4,1971.1 421.4,1974.0 425.4,1976.9 429.4,1979.8 433.4,1982.7 437.4,1985.7 441.4,1988.7 445.4,1991.8 449.4,1994.9 453.4,1998.0 457.4,2001.1 461.4,2004.3 465.4,2007.4 469.4,2010.6 473.4,2013.7 477.4,2016.7 481.4,2019.7 485.4,2022.7 489.4,2025.6 493.4,2028.5 497.4,2031.4 501.4,2034.3 505.4,2037.2 509.4,2040.0 513.4,2042.8 517.4,2045.6 521.4,2048.3 525.4,2050.9 529.4,2053.5 533.4,2056.0 537.4,2058.4 541.4,2060.8 545.4,2063.1 549.4,2065.4 553.4,2067.6 557.4,2069.9 561.4,2072.0 565.4,2074.2 569.4,2076.3 573.4,2078.4 577.4,2080.4 581.4,2082.5 585.4,2084.5 589.4,2086.6 593.4,2088.6 597.4,2090.6 601.4,2092.6 605.4,2094.6 609.4,2096.5 613.4,2098.4 617.4,2100.3 621.4,2102.2 625.4,2104.1 629.4,2105.9 633.4,2107.8 637.4,2109.6 641.4,2111.4 645.4,2113.2 649.4,2115.0 653.4,2116.7 657.4,2118.5 661.4,2120.2 665.4,2121.9 669.4,2123.6 673.4,2125.3 677.4,2127.0 681.4,2128.7 685.4,2130.4 689.4,2132.1 693.4,2133.8 697.4,2135.5 701.4,2137.1 705.4,2138.8 709.4,2140.5 713.4,2142.2 717.4,2143.9 721.4,2145.6 725.4,2147.3 729.4,2149.0 733.4,2150.7 737.4,2152.4 741.4,2154.1 745.4,2155.8 749.4,2157.5 753.4,2159.2 757.4,2160.9 761.4,2162.6 765.4,2164.3 769.4,2165.9 773.4,2167.6 777.4,2169.2 781.4,2170.9 785.4,2172.5 789.4,2174.1 793.4,2175.7 797.4,2177.2 801.4,2178.6 805.4,2180.1 809.4,2181.5 813.4,2182.9 817.4,2184.3 821.4,2185.8 825.4,2187.2 829.4,2188.7 833.4,2190.2 837.4,2191.7 841.4,2193.3 845.4,2195.0 849.4,2196.7 853.4,2198.6 857.4,2200.5 861.4,2202.6 865.4,2204.8 869.4,2207.2 873.4,2209.8 877.4,2212.4 881.4,2215.0 885.4,2217.6 889.4,2220.3 893.4,2222.8 897.4,2225.4 901.4,2228.1 905.4,2230.7 909.4,2233.4 913.4,2236.2 917.4,2238.9 921.4,2241.6 925.4,2244.3 929.4,2246.9 933.4,2249.5 937.4,2252.1 941.4,2254.7 945.4,2257.2 949.4,2259.8 953.4,2262.3 957.4,2264.8 961.4,2267.3 965.4,2269.8 969.4,2272.2 973.4,2274.7 977.4,2277.1 981.4,2279.4 985.4,2281.7 989.4,2284.0 993.4,2286.3 997.4,2288.6 1001.4,2290.8 1005.4,2293.0 1009.4,2295.2 1013.4,2297.3 1017.4,2299.4 1021.4,2301.5 1025.4,2303.5 1029.4,2305.6 1033.4,2307.5 1037.4,2309.5 1041.4,2311.4 1045.4,2313.3 1049.4,2315.2 1053.4,2317.0 1057.4,2318.8 1061.4,2320.6 1065.4,2322.4 1069.4,2324.1 1073.4,2325.8 1077.4,2327.4 1081.4,2329.0 1085.4,2330.6 1089.4,2332.1 1093.4,2333.5 1097.4,2334.9 1101.4,2336.2 1105.4,2337.5 1109.4,2338.8 1113.4,2340.1 1117.4,2341.3 1121.4,2342.6 1125.4,2343.9 1129.4,2345.2 1133.4,2346.5 1137.4,2347.9 1141.4,2349.3 1145.4,2350.8 1149.4,2352.2 1153.4,2353.8 1157.4,2355.3 1161.4,2356.8 1165.4,2358.4 1169.4,2359.9 1173.4,2361.5 1177.4,2363.1 1181.4,2364.7 1185.4,2366.3 1189.4,2367.9 1193.4,2369.5 1197.4,2371.1 1201.4,2372.7 1205.4,2374.3 1209.4,2375.9 1213.4,2377.5 1217.4,2379.1 1221.4,2380.7 1225.4,2382.3 1229.4,2383.8 1233.4,2385.4 1237.4,2387.0 1241.4,2388.5 1245.4,2390.1 1249.4,2391.7 1253.4,2393.3 1257.4,2394.8 1261.4,2396.4 1265.4,2398.0 1269.4,2399.7 1273.4,2401.3 1277.4,2402.9 1281.4,2404.6 1285.4,2406.2 1289.4,2407.9 1293.4,2409.6 1297.4,2411.3 1301.4,2413.0 1305.4,2414.7 1309.4,2416.4 1313.4,2418.2 1317.4,2419.9 1321.4,2421.7 1325.4,2423.4 1329.4,2425.2 1333.4,2427.0 1337.4,2428.8 1341.4,2430.6 1345.4,2432.5 1349.4,2434.4 1353.4,2436.3 1357.4,2438.2 1361.4,2440.2 1365.4,2442.2 1369.4,2444.2 1373.4,2446.3 1377.4,2448.5 1381.4,2450.7 1385.4,2453.0 1389.4,2455.3 1393.4,2457.7 1397.4,2460.1 1401.4,2462.6 1405.4,2465.1 1409.4,2467.6 1413.4,2470.2 1417.4,2472.7 1421.4,2475.3 1425.4,2477.9 1429.4,2480.4 1433.4,2482.9 1437.4,2485.4 1441.4,2487.9 1445.4,2490.3 1449.4,2492.8 1453.4,2495.2 1457.4,2497.5 1461.4,2499.9 1465.4,2502.3 1469.4,2504.7 1473.4,2507.1 1477.4,2509.5 1481.4,2511.9 1485.4,2514.3 1489.4,2516.8 1493.4,2519.3 1497.4,2521.8 1501.4,2524.4 1505.4,2527.0 1509.4,2529.7 1513.4,2532.4 1517.4,2535.2 1521.4,2538.1 1525.4,2541.0 1529.4,2543.9 1533.4,2546.8 1537.4,2549.8 1541.4,2552.7 1545.4,2555.6 1549.4,2558.6 1553.4,2561.4 1557.4,2564.3 1561.4,2567.1 1565.4,2569.9 1569.4,2572.6 1573.4,2575.4 1577.4,2578.2 1581.4,2580.9 1585.4,2583.7 1589.4,2586.4 1593.4,2589.2 1597.4,2591.9 1601.4,2594.6 1605.4,2597.3 1609.4,2600.1 1613.4,2602.8 1617.4,2605.5 1621.4,2608.2 1625.4,2611.0 1629.4,2613.8 1633.4,2616.6 1637.4,2619.4 1641.4,2622.2 1645.4,2624.9 1649.4,2627.6 1653.4,2630.1 1657.4,2632.6 1661.4,2634.9 1665.4,2637.1 1669.4,2639.2 1673.4,2641.3 1677.4,2643.4 1681.4,2645.4 1685.4,2647.3 1689.4,2649.2 1693.4,2651.1 1697.4,2652.8 1701.4,2654.5 1705.4,2656.2 1709.4,2657.7 1713.4,2659.2 1717.4,2660.6 1721.4,2662.0 1725.4,2663.4 1729.4,2664.8 1733.4,2666.1 1737.4,2667.3 1741.4,2668.5 1745.4,2669.5 1749.4,2670.5 1753.4,2671.4 1757.4,2672.2 1761.4,2672.9 1765.4,2673.6 1769.4,2674.3 1773.4,2674.9 1777.4,2675.5 1781.4,2676.0 1785.4,2676.5 1789.4,2676.8 1793.4,2677.0 1797.4,2677.0 1801.4,2677.0 1805.4,2677.0 1809.4,2677.0 1813.4,2677.0 1817.4,2677.0 1821.4,2677.0 1825.4,2677.0 1829.4,2677.0 1833.4,2676.9 1837.4,2676.7 1841.4,2676.5 1845.4,2676.2 1849.4,2675.9 1853.4,2675.6 1857.4,2675.2 1861.4,2674.8 1865.4,2674.4" fill="none" stroke="#000" stroke-width="2.5" stroke-linejoin="round" />
<line x1="397.40" y1="1892.00" x2="397.40" y2="2020.50" stroke="#000" stroke-width="2.3" />
<line x1="384.90" y1="1892.00" x2="409.90" y2="1892.00" stroke="#000" stroke-width="2.3" />
<line x1="384.90" y1="2020.50" x2="409.90" y2="2020.50" stroke="#000" stroke-width="2.3" />
<rect x="383.7" y="1943.3" width="27.4" height="27.4" fill="#000"/>
<line x1="592.80" y1="2048.80" x2="592.80" y2="2166.60" stroke="#000" stroke-width="2.3" />
<line x1="580.30" y1="2048.80" x2="605.30" y2="2048.80" stroke="#000" stroke-width="2.3" />
<line x1="580.30" y1="2166.60" x2="605.30" y2="2166.60" stroke="#000" stroke-width="2.3" />
<rect x="579.1" y="2093.3" width="27.4" height="27.4" fill="#000"/>
<line x1="856.80" y1="2125.60" x2="856.80" y2="2250.00" stroke="#000" stroke-width="2.3" />
<line x1="844.30" y1="2125.60" x2="869.30" y2="2125.60" stroke="#000" stroke-width="2.3" />
<line x1="844.30" y1="2250.00" x2="869.30" y2="2250.00" stroke="#000" stroke-width="2.3" />
<rect x="843.1" y="2173.1" width="27.4" height="27.4" fill="#000"/>
<line x1="1035.00" y1="2276.00" x2="1035.00" y2="2377.00" stroke="#000" stroke-width="2.3" />
<line x1="1022.50" y1="2276.00" x2="1047.50" y2="2276.00" stroke="#000" stroke-width="2.3" />
<line x1="1022.50" y1="2377.00" x2="1047.50" y2="2377.00" stroke="#000" stroke-width="2.3" />
<rect x="1021.3" y="2312.3" width="27.4" height="27.4" fill="#000"/>
<line x1="1384.60" y1="2378.00" x2="1384.60" y2="2465.00" stroke="#000" stroke-width="2.3" />
<line x1="1372.10" y1="2378.00" x2="1397.10" y2="2378.00" stroke="#000" stroke-width="2.3" />
<line x1="1372.10" y1="2465.00" x2="1397.10" y2="2465.00" stroke="#000" stroke-width="2.3" />
<rect x="1370.9" y="2407.5" width="27.4" height="27.4" fill="#000"/>
<line x1="1715.00" y1="2637.50" x2="1715.00" y2="2745.00" stroke="#000" stroke-width="2.3" />
<line x1="1702.50" y1="2637.50" x2="1727.50" y2="2637.50" stroke="#000" stroke-width="2.3" />
<line x1="1702.50" y1="2745.00" x2="1727.50" y2="2745.00" stroke="#000" stroke-width="2.3" />
<rect x="1701.3" y="2676.7" width="27.4" height="27.4" fill="#000"/>
<line x1="1868.60" y1="2608.40" x2="1868.60" y2="2739.60" stroke="#000" stroke-width="2.3" />
<line x1="1856.10" y1="2608.40" x2="1881.10" y2="2608.40" stroke="#000" stroke-width="2.3" />
<line x1="1856.10" y1="2739.60" x2="1881.10" y2="2739.60" stroke="#000" stroke-width="2.3" />
<rect x="1854.9" y="2660.3" width="27.4" height="27.4" fill="#000"/>
<path d="M341.0 1713.6 H1930.3 V2948.9 H341.0 M366.7 1713.6 V2948.9" fill="none" stroke="#000" stroke-width="5.4" stroke-linejoin="miter"/>
<line x1="354.70" y1="1801.84" x2="366.70" y2="1801.84" stroke="#000" stroke-width="5.2" />
<line x1="341.00" y1="1890.07" x2="366.70" y2="1890.07" stroke="#000" stroke-width="5.2" />
<line x1="354.70" y1="1978.31" x2="366.70" y2="1978.31" stroke="#000" stroke-width="5.2" />
<line x1="341.00" y1="2066.54" x2="366.70" y2="2066.54" stroke="#000" stroke-width="5.2" />
<line x1="354.70" y1="2154.78" x2="366.70" y2="2154.78" stroke="#000" stroke-width="5.2" />
<line x1="341.00" y1="2243.01" x2="366.70" y2="2243.01" stroke="#000" stroke-width="5.2" />
<line x1="354.70" y1="2331.25" x2="366.70" y2="2331.25" stroke="#000" stroke-width="5.2" />
<line x1="341.00" y1="2419.49" x2="366.70" y2="2419.49" stroke="#000" stroke-width="5.2" />
<line x1="354.70" y1="2507.72" x2="366.70" y2="2507.72" stroke="#000" stroke-width="5.2" />
<line x1="341.00" y1="2595.96" x2="366.70" y2="2595.96" stroke="#000" stroke-width="5.2" />
<line x1="354.70" y1="2684.19" x2="366.70" y2="2684.19" stroke="#000" stroke-width="5.2" />
<line x1="341.00" y1="2772.43" x2="366.70" y2="2772.43" stroke="#000" stroke-width="5.2" />
<line x1="354.70" y1="2860.66" x2="366.70" y2="2860.66" stroke="#000" stroke-width="5.2" />
<line x1="396.80" y1="2948.90" x2="396.80" y2="2972.60" stroke="#000" stroke-width="5.6" />
<line x1="550.15" y1="2948.90" x2="550.15" y2="2961.00" stroke="#000" stroke-width="5.2" />
<line x1="703.50" y1="2948.90" x2="703.50" y2="2972.60" stroke="#000" stroke-width="5.6" />
<line x1="856.85" y1="2948.90" x2="856.85" y2="2961.00" stroke="#000" stroke-width="5.2" />
<line x1="1010.20" y1="2948.90" x2="1010.20" y2="2972.60" stroke="#000" stroke-width="5.6" />
<line x1="1163.55" y1="2948.90" x2="1163.55" y2="2961.00" stroke="#000" stroke-width="5.2" />
<line x1="1316.90" y1="2948.90" x2="1316.90" y2="2972.60" stroke="#000" stroke-width="5.6" />
<line x1="1470.25" y1="2948.90" x2="1470.25" y2="2961.00" stroke="#000" stroke-width="5.2" />
<line x1="1623.60" y1="2948.90" x2="1623.60" y2="2972.60" stroke="#000" stroke-width="5.6" />
<line x1="1776.95" y1="2948.90" x2="1776.95" y2="2961.00" stroke="#000" stroke-width="5.2" />
<line x1="1930.30" y1="2948.90" x2="1930.30" y2="2972.60" stroke="#000" stroke-width="5.6" />
<text transform="translate(240.54 1734.82) scale(1.0008 1)" font-size="75.00" fill="#000" stroke="#000" stroke-width="0.90" font-family='"Liberation Sans", Arial, sans-serif'>62</text>
<text transform="translate(239.70 1911.29) scale(1.0008 1)" font-size="75.00" fill="#000" stroke="#000" stroke-width="0.90" font-family='"Liberation Sans", Arial, sans-serif'>60</text>
<text transform="translate(240.03 2087.76) scale(1.0008 1)" font-size="75.00" fill="#000" stroke="#000" stroke-width="0.90" font-family='"Liberation Sans", Arial, sans-serif'>58</text>
<text transform="translate(240.06 2264.23) scale(1.0008 1)" font-size="75.00" fill="#000" stroke="#000" stroke-width="0.90" font-family='"Liberation Sans", Arial, sans-serif'>56</text>
<text transform="translate(238.96 2440.70) scale(1.0008 1)" font-size="75.00" fill="#000" stroke="#000" stroke-width="0.90" font-family='"Liberation Sans", Arial, sans-serif'>54</text>
<text transform="translate(240.54 2617.17) scale(1.0008 1)" font-size="75.00" fill="#000" stroke="#000" stroke-width="0.90" font-family='"Liberation Sans", Arial, sans-serif'>52</text>
<text transform="translate(239.70 2793.65) scale(1.0008 1)" font-size="75.00" fill="#000" stroke="#000" stroke-width="0.90" font-family='"Liberation Sans", Arial, sans-serif'>50</text>
<text transform="translate(240.03 2970.12) scale(1.0008 1)" font-size="75.00" fill="#000" stroke="#000" stroke-width="0.90" font-family='"Liberation Sans", Arial, sans-serif'>48</text>
<text transform="translate(397.00 3046.62) scale(1.0008 1)" font-size="75.00" fill="#000" stroke="#000" stroke-width="0.90" text-anchor="middle" font-family='"Liberation Sans", Arial, sans-serif'>0</text>
<text transform="translate(703.70 3046.62) scale(1.0008 1)" font-size="75.00" fill="#000" stroke="#000" stroke-width="0.90" text-anchor="middle" font-family='"Liberation Sans", Arial, sans-serif'>5</text>
<text transform="translate(1010.40 3046.62) scale(1.0008 1)" font-size="75.00" fill="#000" stroke="#000" stroke-width="0.90" text-anchor="middle" font-family='"Liberation Sans", Arial, sans-serif'>10</text>
<text transform="translate(1317.10 3046.62) scale(1.0008 1)" font-size="75.00" fill="#000" stroke="#000" stroke-width="0.90" text-anchor="middle" font-family='"Liberation Sans", Arial, sans-serif'>15</text>
<text transform="translate(1623.80 3046.62) scale(1.0008 1)" font-size="75.00" fill="#000" stroke="#000" stroke-width="0.90" text-anchor="middle" font-family='"Liberation Sans", Arial, sans-serif'>20</text>
<text transform="translate(1930.50 3046.62) scale(1.0008 1)" font-size="75.00" fill="#000" stroke="#000" stroke-width="0.90" text-anchor="middle" font-family='"Liberation Sans", Arial, sans-serif'>25</text>
<text transform="translate(60.12 1717.33) scale(1.0844 1)" font-size="101.73" fill="#000" stroke="#000" stroke-width="1.22" font-family='"Liberation Sans", Arial, sans-serif'>(B)</text>
<text transform="translate(382.46 1788.64) scale(1.0353 1)" font-size="62.74" fill="#000" stroke="#000" stroke-width="0.75" font-family='"Liberation Sans", Arial, sans-serif'>(B)</text>
<text transform="translate(198.10 2835.48) rotate(-90) scale(1.0000 1)" font-size="104.43" fill="#000" stroke="#000" stroke-width="1.25" font-family='"Liberation Sans", Arial, sans-serif'>Crystallinity index (%)</text>
<text transform="translate(696.76 3192.65) scale(1.0243 1)" font-size="104.91" fill="#000" stroke="#000" stroke-width="1.26" font-family='"Liberation Sans", Arial, sans-serif'>Sericin content (%)</text>
<text transform="translate(1603.24 2526.12) scale(1.0418 1)" font-size="63.86" fill="#000" stroke="#000" stroke-width="0.77" font-family='"Liberation Sans", Arial, sans-serif'>R</text>
<text transform="translate(1651.15 2499.35) scale(0.9940 1)" font-size="41.96" fill="#000" stroke="#000" stroke-width="0.50" font-family='"Liberation Sans", Arial, sans-serif'>2</text>
<text transform="translate(1693.48 2526.38) scale(1.0208 1)" font-size="64.44" fill="#000" stroke="#000" stroke-width="0.77" font-family='"Liberation Sans", Arial, sans-serif'>= 0.97</text>
</g>
<g id="panelC">
<clipPath id="clipC"><rect x="247.6" y="3362.0" width="1632.0" height="1386.6"/></clipPath>
<g clip-path="url(#clipC)">
<polyline points="246.6,4137.5 248.2,4137.6 249.8,4137.3 251.4,4132.8 253.0,4133.1 254.6,4135.3 256.2,4131.7 257.8,4132.1 259.4,4135.5 261.0,4134.6 262.6,4129.1 264.2,4128.1 265.8,4125.8 267.4,4127.4 269.0,4129.6 270.6,4128.5 272.2,4130.9 273.8,4126.5 275.4,4123.8 277.0,4124.9 278.6,4124.0 280.2,4121.9 281.8,4123.2 283.4,4123.0 285.0,4119.7 286.6,4131.3 288.2,4130.1 289.8,4124.2 291.4,4130.3 293.0,4124.1 294.6,4124.1 296.2,4116.6 297.8,4119.9 299.4,4119.7 301.0,4113.4 302.6,4120.1 304.2,4113.0 305.8,4113.9 307.4,4118.3 309.0,4121.4 310.6,4114.4 312.2,4109.1 313.8,4114.7 315.4,4113.4 317.0,4115.8 318.6,4113.3 320.2,4114.3 321.8,4109.9 323.4,4115.3 325.0,4116.0 326.6,4103.7 328.2,4109.4 329.8,4113.8 331.4,4113.8 333.0,4117.9 334.6,4111.4 336.2,4111.8 337.8,4111.4 339.4,4107.0 341.0,4107.1 342.6,4107.2 344.2,4107.8 345.8,4105.8 347.4,4105.8 349.0,4112.9 350.6,4105.5 352.2,4102.6 353.8,4094.3 355.4,4095.5 357.0,4101.9 358.6,4097.2 360.2,4092.1 361.8,4098.3 363.4,4094.9 365.0,4089.8 366.6,4091.7 368.2,4081.5 369.8,4089.6 371.4,4089.5 373.0,4090.4 374.6,4081.9 376.2,4077.5 377.8,4082.4 379.4,4082.3 381.0,4082.1 382.6,4078.8 384.2,4079.6 385.8,4078.8 387.4,4071.7 389.0,4073.1 390.6,4074.4 392.2,4073.0 393.8,4070.3 395.4,4070.3 397.0,4064.8 398.6,4065.7 400.2,4072.8 401.8,4070.8 403.4,4063.5 405.0,4070.2 406.6,4070.3 408.2,4064.8 409.8,4065.7 411.4,4071.6 413.0,4067.0 414.6,4061.7 416.2,4058.2 417.8,4059.2 419.4,4054.9 421.0,4051.8 422.6,4055.3 424.2,4057.9 425.8,4052.2 427.4,4049.7 429.0,4054.9 430.6,4053.5 432.2,4053.0 433.8,4054.6 435.4,4050.4 437.0,4050.3 438.6,4049.5 440.2,4044.3 441.8,4044.7 443.4,4048.7 445.0,4042.1 446.6,4038.1 448.2,4042.4 449.8,4039.6 451.4,4039.2 453.0,4042.5 454.6,4037.9 456.2,4040.9 457.8,4041.4 459.4,4040.7 461.0,4039.5 462.6,4047.9 464.2,4050.7 465.8,4045.9 467.4,4041.8 469.0,4039.5 470.6,4040.8 472.2,4044.8 473.8,4043.7 475.4,4040.6 477.0,4044.6 478.6,4045.6 480.2,4042.9 481.8,4052.0 483.4,4045.0 485.0,4042.4 486.6,4047.9 488.2,4048.2 489.8,4047.3 491.4,4048.2 493.0,4049.4 494.6,4052.3 496.2,4050.2 497.8,4059.6 499.4,4053.9 501.0,4049.2 502.6,4058.7 504.2,4060.1 505.8,4059.2 507.4,4058.8 509.0,4061.3 510.6,4063.4 512.2,4063.4 513.8,4061.0 515.4,4063.3 517.0,4066.3 518.6,4070.5 520.2,4071.2 521.8,4069.1 523.4,4065.9 525.0,4069.2 526.6,4072.4 528.2,4074.2 529.8,4074.8 531.4,4076.3 533.0,4078.1 534.6,4071.4 536.2,4082.4 537.8,4078.5 539.4,4085.3 541.0,4084.2 542.6,4081.1 544.2,4074.3 545.8,4076.4 547.4,4077.0 549.0,4083.2 550.6,4082.5 552.2,4079.6 553.8,4077.7 555.4,4082.1 557.0,4084.5 558.6,4083.1 560.2,4085.0 561.8,4086.3 563.4,4082.3 565.0,4080.2 566.6,4084.9 568.2,4094.9 569.8,4091.9 571.4,4091.2 573.0,4091.8 574.6,4093.2 576.2,4093.4 577.8,4101.9 579.4,4101.7 581.0,4101.3 582.6,4099.8 584.2,4098.9 585.8,4099.5 587.4,4098.7 589.0,4103.9 590.6,4107.0 592.2,4099.7 593.8,4101.6 595.4,4103.4 597.0,4102.6 598.6,4102.1 600.2,4100.7 601.8,4101.6 603.4,4106.1 605.0,4104.0 606.6,4104.2 608.2,4103.4 609.8,4113.4 611.4,4110.4 613.0,4101.4 614.6,4102.5 616.2,4098.2 617.8,4103.0 619.4,4098.5 621.0,4102.8 622.6,4104.7 624.2,4099.8 625.8,4098.3 627.4,4101.5 629.0,4104.7 630.6,4098.4 632.2,4092.9 633.8,4098.5 635.4,4099.4 637.0,4100.1 638.6,4107.1 640.2,4099.5 641.8,4098.9 643.4,4092.8 645.0,4088.2 646.6,4087.9 648.2,4092.3 649.8,4097.7 651.4,4088.5 653.0,4092.6 654.6,4095.0 656.2,4098.7 657.8,4088.5 659.4,4088.5 661.0,4092.9 662.6,4088.7 664.2,4086.4 665.8,4091.3 667.4,4090.9 669.0,4088.2 670.6,4092.8 672.2,4092.3 673.8,4093.4 675.4,4090.6 677.0,4084.2 678.6,4078.9 680.2,4080.7 681.8,4083.0 683.4,4076.1 685.0,4074.1 686.6,4080.6 688.2,4088.9 689.8,4083.3 691.4,4082.4 693.0,4075.2 694.6,4078.5 696.2,4081.9 697.8,4079.9 699.4,4075.7 701.0,4075.4 702.6,4077.3 704.2,4072.8 705.8,4072.3 707.4,4070.1 709.0,4065.8 710.6,4066.3 712.2,4064.9 713.8,4058.7 715.4,4060.7 717.0,4062.8 718.6,4059.8 720.2,4064.7 721.8,4064.0 723.4,4058.6 725.0,4059.7 726.6,4057.6 728.2,4057.1 729.8,4050.3 731.4,4045.5 733.0,4042.8 734.6,4041.2 736.2,4044.5 737.8,4039.5 739.4,4044.4 741.0,4038.5 742.6,4031.3 744.2,4034.0 745.8,4038.7 747.4,4032.1 749.0,4031.1 750.6,4025.9 752.2,4020.8 753.8,4025.3 755.4,4020.1 757.0,4012.4 758.6,4016.6 760.2,4018.2 761.8,4011.5 763.4,4013.6 765.0,4013.6 766.6,4009.4 768.2,4000.9 769.8,3997.8 771.4,4002.2 773.0,4004.8 774.6,3998.1 776.2,3993.8 777.8,3995.4 779.4,3991.7 781.0,3984.7 782.6,3979.1 784.2,3982.5 785.8,3985.5 787.4,3980.1 789.0,3978.3 790.6,3981.0 792.2,3977.2 793.8,3970.8 795.4,3968.8 797.0,3968.3 798.6,3971.7 800.2,3971.8 801.8,3968.3 803.4,3958.5 805.0,3959.6 806.6,3947.7 808.2,3947.2 809.8,3948.6 811.4,3944.2 813.0,3942.2 814.6,3940.3 816.2,3936.9 817.8,3932.4 819.4,3934.0 821.0,3928.7 822.6,3922.4 824.2,3923.9 825.8,3923.5 827.4,3916.3 829.0,3918.4 830.6,3913.8 832.2,3914.6 833.8,3913.5 835.4,3914.6 837.0,3908.2 838.6,3900.1 840.2,3894.8 841.8,3897.5 843.4,3895.8 845.0,3899.4 846.6,3896.0 848.2,3893.6 849.8,3887.2 851.4,3879.8 853.0,3877.5 854.6,3871.6 856.2,3871.2 857.8,3877.6 859.4,3873.4 861.0,3870.6 862.6,3869.6 864.2,3869.4 865.8,3866.1 867.4,3858.7 869.0,3856.0 870.6,3859.7 872.2,3855.9 873.8,3847.0 875.4,3842.3 877.0,3844.5 878.6,3842.6 880.2,3838.7 881.8,3841.9 883.4,3834.1 885.0,3829.9 886.6,3832.4 888.2,3821.2 889.8,3819.1 891.4,3815.5 893.0,3819.2 894.6,3810.6 896.2,3807.9 897.8,3804.5 899.4,3798.6 901.0,3802.6 902.6,3804.9 904.2,3794.6 905.8,3785.9 907.4,3780.6 909.0,3779.5 910.6,3778.5 912.2,3774.2 913.8,3767.7 915.4,3774.4 917.0,3766.9 918.6,3758.9 920.2,3764.4 921.8,3756.3 923.4,3754.4 925.0,3751.2 926.6,3749.3 928.2,3744.9 929.8,3739.0 931.4,3731.0 933.0,3731.1 934.6,3726.4 936.2,3724.1 937.8,3723.2 939.4,3718.9 941.0,3715.9 942.6,3709.9 944.2,3704.9 945.8,3698.6 947.4,3692.7 949.0,3692.0 950.6,3695.3 952.2,3697.1 953.8,3687.2 955.4,3685.1 957.0,3682.1 958.6,3683.3 960.2,3685.8 961.8,3681.0 963.4,3671.7 965.0,3667.7 966.6,3666.4 968.2,3660.9 969.8,3656.5 971.4,3652.7 973.0,3653.0 974.6,3647.9 976.2,3650.4 977.8,3641.4 979.4,3636.1 981.0,3634.0 982.6,3630.1 984.2,3626.1 985.8,3615.8 987.4,3615.9 989.0,3613.4 990.6,3606.3 992.2,3605.7 993.8,3607.1 995.4,3604.0 997.0,3595.0 998.6,3592.2 1000.2,3588.2 1001.8,3586.6 1003.4,3577.1 1005.0,3574.3 1006.6,3570.8 1008.2,3560.8 1009.8,3556.6 1011.4,3550.3 1013.0,3536.5 1014.6,3529.1 1016.2,3524.0 1017.8,3519.8 1019.4,3515.3 1021.0,3506.9 1022.6,3505.2 1024.2,3499.3 1025.8,3500.1 1027.4,3499.0 1029.0,3489.2 1030.6,3489.4 1032.2,3482.5 1033.8,3473.6 1035.4,3462.8 1037.0,3462.8 1038.6,3458.2 1040.2,3458.5 1041.8,3455.0 1043.4,3447.6 1045.0,3443.0 1046.6,3446.5 1048.2,3438.4 1049.8,3434.8 1051.4,3429.9 1053.0,3428.8 1054.6,3424.1 1056.2,3423.8 1057.8,3421.6 1059.4,3418.6 1061.0,3417.6 1062.6,3417.8 1064.2,3417.5 1065.8,3417.3 1067.4,3417.4 1069.0,3418.6 1070.6,3420.9 1072.2,3421.4 1073.8,3424.6 1075.4,3425.1 1077.0,3430.0 1078.6,3427.1 1080.2,3426.0 1081.8,3426.6 1083.4,3433.9 1085.0,3438.1 1086.6,3443.4 1088.2,3445.0 1089.8,3447.7 1091.4,3455.5 1093.0,3456.9 1094.6,3463.1 1096.2,3465.6 1097.8,3471.1 1099.4,3471.8 1101.0,3476.3 1102.6,3477.5 1104.2,3483.0 1105.8,3488.8 1107.4,3495.6 1109.0,3501.9 1110.6,3505.4 1112.2,3513.5 1113.8,3515.6 1115.4,3523.9 1117.0,3533.2 1118.6,3542.2 1120.2,3548.0 1121.8,3551.7 1123.4,3554.4 1125.0,3568.1 1126.6,3573.4 1128.2,3581.0 1129.8,3588.1 1131.4,3590.3 1133.0,3593.9 1134.6,3602.4 1136.2,3606.8 1137.8,3614.7 1139.4,3618.4 1141.0,3625.2 1142.6,3627.1 1144.2,3628.3 1145.8,3640.4 1147.4,3644.6 1149.0,3654.0 1150.6,3654.4 1152.2,3654.9 1153.8,3662.0 1155.4,3663.0 1157.0,3665.2 1158.6,3670.9 1160.2,3678.1 1161.8,3683.4 1163.4,3687.5 1165.0,3691.4 1166.6,3696.0 1168.2,3700.6 1169.8,3700.3 1171.4,3706.0 1173.0,3706.9 1174.6,3706.1 1176.2,3714.4 1177.8,3714.0 1179.4,3720.1 1181.0,3722.4 1182.6,3727.7 1184.2,3732.2 1185.8,3731.4 1187.4,3727.2 1189.0,3732.5 1190.6,3734.5 1192.2,3737.0 1193.8,3740.0 1195.4,3744.4 1197.0,3744.3 1198.6,3744.1 1200.2,3751.1 1201.8,3747.9 1203.4,3747.0 1205.0,3746.2 1206.6,3748.4 1208.2,3749.4 1209.8,3756.1 1211.4,3754.5 1213.0,3746.2 1214.6,3752.0 1216.2,3750.5 1217.8,3746.1 1219.4,3745.5 1221.0,3749.6 1222.6,3748.3 1224.2,3747.9 1225.8,3743.7 1227.4,3747.3 1229.0,3743.5 1230.6,3740.5 1232.2,3741.4 1233.8,3738.5 1235.4,3735.1 1237.0,3732.9 1238.6,3733.0 1240.2,3726.1 1241.8,3728.2 1243.4,3728.0 1245.0,3732.5 1246.6,3732.5 1248.2,3727.6 1249.8,3726.9 1251.4,3730.6 1253.0,3728.3 1254.6,3729.3 1256.2,3725.6 1257.8,3726.6 1259.4,3728.5 1261.0,3723.1 1262.6,3724.3 1264.2,3722.7 1265.8,3717.9 1267.4,3723.9 1269.0,3719.2 1270.6,3721.3 1272.2,3720.0 1273.8,3718.2 1275.4,3719.6 1277.0,3722.5 1278.6,3718.6 1280.2,3720.3 1281.8,3716.4 1283.4,3719.3 1285.0,3717.6 1286.6,3723.0 1288.2,3725.2 1289.8,3721.2 1291.4,3726.2 1293.0,3727.5 1294.6,3729.3 1296.2,3733.2 1297.8,3735.4 1299.4,3739.0 1301.0,3740.1 1302.6,3738.5 1304.2,3743.1 1305.8,3745.1 1307.4,3744.2 1309.0,3744.5 1310.6,3745.7 1312.2,3748.5 1313.8,3754.0 1315.4,3754.8 1317.0,3758.0 1318.6,3758.7 1320.2,3762.3 1321.8,3772.6 1323.4,3776.0 1325.0,3776.1 1326.6,3776.4 1328.2,3778.5 1329.8,3786.1 1331.4,3784.9 1333.0,3790.3 1334.6,3794.2 1336.2,3794.3 1337.8,3801.4 1339.4,3808.5 1341.0,3810.2 1342.6,3808.5 1344.2,3816.7 1345.8,3816.2 1347.4,3821.2 1349.0,3824.5 1350.6,3826.9 1352.2,3834.4 1353.8,3836.1 1355.4,3838.5 1357.0,3837.6 1358.6,3842.0 1360.2,3850.3 1361.8,3850.2 1363.4,3851.7 1365.0,3854.3 1366.6,3854.1 1368.2,3854.0 1369.8,3857.9 1371.4,3863.6 1373.0,3868.4 1374.6,3869.5 1376.2,3867.2 1377.8,3869.7 1379.4,3873.7 1381.0,3880.5 1382.6,3877.8 1384.2,3880.1 1385.8,3885.7 1387.4,3890.3 1389.0,3891.2 1390.6,3893.6 1392.2,3896.1 1393.8,3893.0 1395.4,3897.7 1397.0,3899.3 1398.6,3902.8 1400.2,3902.6 1401.8,3908.0 1403.4,3912.7 1405.0,3914.9 1406.6,3909.6 1408.2,3911.0 1409.8,3915.5 1411.4,3918.4 1413.0,3916.7 1414.6,3921.1 1416.2,3919.9 1417.8,3924.8 1419.4,3924.1 1421.0,3925.8 1422.6,3921.3 1424.2,3923.0 1425.8,3929.7 1427.4,3927.6 1429.0,3934.3 1430.6,3932.3 1432.2,3935.7 1433.8,3940.5 1435.4,3941.2 1437.0,3942.7 1438.6,3944.9 1440.2,3946.6 1441.8,3950.6 1443.4,3952.9 1445.0,3954.8 1446.6,3956.4 1448.2,3956.3 1449.8,3956.2 1451.4,3956.1 1453.0,3966.3 1454.6,3967.5 1456.2,3969.7 1457.8,3971.6 1459.4,3972.5 1461.0,3979.4 1462.6,3979.0 1464.2,3979.4 1465.8,3982.0 1467.4,3982.4 1469.0,3982.5 1470.6,3994.5 1472.2,3993.2 1473.8,3992.5 1475.4,3993.3 1477.0,3996.0 1478.6,3997.0 1480.2,3996.9 1481.8,3998.3 1483.4,4003.4 1485.0,4008.2 1486.6,4009.4 1488.2,4012.7 1489.8,4013.5 1491.4,4012.3 1493.0,4016.7 1494.6,4020.3 1496.2,4018.2 1497.8,4019.9 1499.4,4021.3 1501.0,4023.8 1502.6,4025.0 1504.2,4025.8 1505.8,4027.1 1507.4,4032.4 1509.0,4030.8 1510.6,4032.9 1512.2,4034.0 1513.8,4035.4 1515.4,4039.1 1517.0,4039.4 1518.6,4041.5 1520.2,4041.2 1521.8,4046.9 1523.4,4048.1 1525.0,4054.0 1526.6,4054.3 1528.2,4053.8 1529.8,4054.2 1531.4,4054.3 1533.0,4059.4 1534.6,4061.5 1536.2,4064.7 1537.8,4065.7 1539.4,4067.3 1541.0,4068.2 1542.6,4068.5 1544.2,4070.2 1545.8,4070.1 1547.4,4073.2 1549.0,4072.4 1550.6,4074.3 1552.2,4077.9 1553.8,4078.7 1555.4,4079.1 1557.0,4080.1 1558.6,4081.2 1560.2,4082.9 1561.8,4084.8 1563.4,4084.6 1565.0,4085.7 1566.6,4087.0 1568.2,4086.0 1569.8,4089.5 1571.4,4093.8 1573.0,4091.9 1574.6,4093.9 1576.2,4095.2 1577.8,4096.5 1579.4,4098.0 1581.0,4101.8 1582.6,4096.4 1584.2,4099.1 1585.8,4099.7 1587.4,4102.5 1589.0,4103.6 1590.6,4105.5 1592.2,4105.9 1593.8,4107.6 1595.4,4109.6 1597.0,4108.7 1598.6,4108.3 1600.2,4109.8 1601.8,4113.3 1603.4,4112.9 1605.0,4111.2 1606.6,4115.1 1608.2,4115.4 1609.8,4117.7 1611.4,4119.0 1613.0,4121.7 1614.6,4122.9 1616.2,4124.2 1617.8,4124.6 1619.4,4126.0 1621.0,4124.7 1622.6,4125.7 1624.2,4128.5 1625.8,4127.3 1627.4,4125.9 1629.0,4129.0 1630.6,4129.8 1632.2,4129.1 1633.8,4133.7 1635.4,4132.5 1637.0,4133.6 1638.6,4132.4 1640.2,4136.1 1641.8,4137.7 1643.4,4139.3 1645.0,4140.5 1646.6,4139.3 1648.2,4139.7 1649.8,4142.2 1651.4,4143.9 1653.0,4147.2 1654.6,4145.8 1656.2,4144.8 1657.8,4145.4 1659.4,4143.6 1661.0,4145.0 1662.6,4151.8 1664.2,4154.3 1665.8,4154.3 1667.4,4154.0 1669.0,4153.5 1670.6,4155.4 1672.2,4158.2 1673.8,4160.4 1675.4,4161.4 1677.0,4159.5 1678.6,4158.8 1680.2,4161.5 1681.8,4163.3 1683.4,4166.3 1685.0,4167.4 1686.6,4168.0 1688.2,4168.5 1689.8,4168.9 1691.4,4170.8 1693.0,4172.4 1694.6,4174.6 1696.2,4174.1 1697.8,4175.4 1699.4,4178.6 1701.0,4180.4 1702.6,4179.0 1704.2,4178.5 1705.8,4180.9 1707.4,4184.1 1709.0,4185.2 1710.6,4182.8 1712.2,4182.8 1713.8,4185.7 1715.4,4185.8 1717.0,4188.9 1718.6,4188.6 1720.2,4189.1 1721.8,4188.6 1723.4,4188.5 1725.0,4191.0 1726.6,4193.0 1728.2,4194.0 1729.8,4196.0 1731.4,4196.8 1733.0,4195.2 1734.6,4197.2 1736.2,4199.8 1737.8,4200.9 1739.4,4202.0 1741.0,4203.4 1742.6,4202.2 1744.2,4203.1 1745.8,4204.0 1747.4,4206.6 1749.0,4204.5 1750.6,4205.8 1752.2,4206.7 1753.8,4209.2 1755.4,4206.2 1757.0,4208.0 1758.6,4207.9 1760.2,4209.2 1761.8,4212.9 1763.4,4211.3 1765.0,4211.8 1766.6,4213.4 1768.2,4214.0 1769.8,4214.1 1771.4,4214.3 1773.0,4216.5 1774.6,4216.9 1776.2,4215.0 1777.8,4217.6 1779.4,4217.8 1781.0,4219.1 1782.6,4220.1 1784.2,4218.1 1785.8,4217.6 1787.4,4219.7 1789.0,4220.8 1790.6,4223.2 1792.2,4225.0 1793.8,4223.9 1795.4,4221.1 1797.0,4221.7 1798.6,4225.2 1800.2,4224.7 1801.8,4223.7 1803.4,4225.8 1805.0,4227.8 1806.6,4227.0 1808.2,4227.7 1809.8,4226.6 1811.4,4225.9 1813.0,4227.5 1814.6,4227.0 1816.2,4225.7 1817.8,4225.5 1819.4,4226.2 1821.0,4225.4 1822.6,4225.7 1824.2,4226.5 1825.8,4226.3 1827.4,4225.6 1829.0,4226.3 1830.6,4230.4 1832.2,4229.8 1833.8,4228.7 1835.4,4226.1 1837.0,4227.2 1838.6,4226.4 1840.2,4227.9 1841.8,4227.5 1843.4,4226.8 1845.0,4224.6 1846.6,4228.9 1848.2,4229.1 1849.8,4228.7 1851.4,4227.3 1853.0,4225.1 1854.6,4226.3 1856.2,4227.8 1857.8,4228.6 1859.4,4227.1 1861.0,4225.9 1862.6,4229.0 1864.2,4228.0 1865.8,4230.1 1867.4,4229.0 1869.0,4228.0 1870.6,4229.2 1872.2,4226.8 1873.8,4224.1 1875.4,4226.4 1877.0,4227.1 1878.6,4226.2 1880.2,4227.4" fill="none" stroke="#000000" stroke-width="5.2" stroke-linejoin="round" />
<polyline points="246.6,4192.0 248.2,4189.2 249.8,4189.8 251.4,4190.8 253.0,4191.7 254.6,4190.1 256.2,4187.5 257.8,4188.4 259.4,4189.4 261.0,4192.9 262.6,4190.0 264.2,4190.9 265.8,4187.6 267.4,4192.0 269.0,4190.4 270.6,4186.3 272.2,4186.6 273.8,4188.1 275.4,4190.9 277.0,4182.6 278.6,4184.2 280.2,4180.7 281.8,4177.6 283.4,4182.5 285.0,4176.1 286.6,4180.0 288.2,4186.3 289.8,4189.4 291.4,4177.1 293.0,4175.4 294.6,4174.9 296.2,4176.9 297.8,4181.1 299.4,4179.0 301.0,4176.6 302.6,4177.1 304.2,4174.8 305.8,4174.5 307.4,4173.5 309.0,4171.2 310.6,4172.2 312.2,4172.7 313.8,4179.1 315.4,4179.5 317.0,4175.1 318.6,4172.3 320.2,4180.4 321.8,4175.6 323.4,4170.3 325.0,4163.9 326.6,4168.9 328.2,4167.3 329.8,4175.0 331.4,4167.9 333.0,4165.7 334.6,4158.5 336.2,4168.6 337.8,4165.3 339.4,4170.6 341.0,4167.8 342.6,4163.9 344.2,4162.8 345.8,4161.4 347.4,4167.2 349.0,4154.7 350.6,4152.4 352.2,4158.0 353.8,4156.3 355.4,4157.1 357.0,4156.5 358.6,4158.0 360.2,4153.8 361.8,4155.3 363.4,4153.7 365.0,4152.2 366.6,4150.9 368.2,4154.2 369.8,4144.0 371.4,4142.3 373.0,4146.7 374.6,4148.6 376.2,4150.8 377.8,4149.3 379.4,4149.0 381.0,4148.8 382.6,4146.8 384.2,4138.4 385.8,4138.4 387.4,4135.3 389.0,4148.0 390.6,4149.4 392.2,4134.7 393.8,4133.7 395.4,4136.4 397.0,4139.6 398.6,4140.2 400.2,4132.1 401.8,4132.8 403.4,4132.8 405.0,4127.7 406.6,4123.4 408.2,4125.1 409.8,4129.1 411.4,4129.2 413.0,4125.2 414.6,4118.8 416.2,4121.8 417.8,4122.0 419.4,4124.8 421.0,4123.0 422.6,4116.4 424.2,4114.2 425.8,4117.3 427.4,4125.0 429.0,4120.4 430.6,4112.5 432.2,4119.6 433.8,4119.3 435.4,4108.7 437.0,4107.7 438.6,4110.1 440.2,4105.3 441.8,4105.5 443.4,4117.0 445.0,4119.9 446.6,4107.2 448.2,4108.4 449.8,4112.5 451.4,4113.4 453.0,4116.3 454.6,4113.4 456.2,4108.2 457.8,4104.7 459.4,4109.3 461.0,4106.2 462.6,4111.0 464.2,4108.1 465.8,4115.5 467.4,4118.9 469.0,4113.0 470.6,4115.8 472.2,4112.7 473.8,4114.8 475.4,4116.1 477.0,4116.6 478.6,4121.7 480.2,4118.2 481.8,4121.5 483.4,4120.4 485.0,4115.5 486.6,4119.3 488.2,4127.1 489.8,4122.0 491.4,4120.7 493.0,4123.1 494.6,4111.9 496.2,4119.6 497.8,4126.8 499.4,4126.4 501.0,4127.9 502.6,4125.9 504.2,4122.0 505.8,4125.9 507.4,4134.3 509.0,4140.2 510.6,4124.5 512.2,4128.5 513.8,4134.3 515.4,4134.0 517.0,4141.2 518.6,4138.1 520.2,4135.1 521.8,4139.5 523.4,4141.0 525.0,4141.0 526.6,4133.6 528.2,4142.2 529.8,4140.6 531.4,4142.6 533.0,4143.4 534.6,4144.0 536.2,4141.0 537.8,4146.5 539.4,4150.8 541.0,4156.0 542.6,4153.7 544.2,4145.5 545.8,4150.7 547.4,4153.1 549.0,4155.9 550.6,4154.5 552.2,4163.2 553.8,4158.6 555.4,4148.5 557.0,4146.8 558.6,4152.1 560.2,4159.3 561.8,4160.6 563.4,4162.2 565.0,4153.8 566.6,4156.8 568.2,4162.8 569.8,4161.0 571.4,4161.3 573.0,4163.6 574.6,4161.8 576.2,4162.6 577.8,4159.6 579.4,4158.3 581.0,4164.8 582.6,4167.0 584.2,4168.6 585.8,4166.6 587.4,4165.3 589.0,4162.6 590.6,4172.1 592.2,4170.8 593.8,4172.0 595.4,4166.5 597.0,4171.7 598.6,4171.1 600.2,4170.5 601.8,4167.6 603.4,4179.3 605.0,4169.3 606.6,4168.4 608.2,4171.2 609.8,4179.1 611.4,4178.3 613.0,4177.6 614.6,4171.9 616.2,4171.3 617.8,4168.5 619.4,4172.3 621.0,4176.5 622.6,4173.1 624.2,4172.4 625.8,4172.6 627.4,4168.0 629.0,4163.9 630.6,4164.8 632.2,4173.3 633.8,4172.4 635.4,4164.8 637.0,4158.9 638.6,4164.7 640.2,4168.0 641.8,4171.1 643.4,4164.3 645.0,4164.9 646.6,4159.1 648.2,4162.6 649.8,4167.6 651.4,4162.7 653.0,4164.5 654.6,4171.2 656.2,4164.2 657.8,4159.9 659.4,4160.1 661.0,4162.9 662.6,4159.8 664.2,4161.6 665.8,4164.6 667.4,4163.6 669.0,4163.9 670.6,4161.5 672.2,4157.9 673.8,4161.8 675.4,4163.0 677.0,4153.7 678.6,4155.1 680.2,4162.0 681.8,4153.3 683.4,4150.5 685.0,4148.1 686.6,4148.1 688.2,4148.0 689.8,4153.8 691.4,4134.9 693.0,4138.3 694.6,4139.2 696.2,4142.6 697.8,4142.2 699.4,4143.2 701.0,4139.1 702.6,4133.1 704.2,4137.9 705.8,4134.1 707.4,4138.8 709.0,4129.7 710.6,4137.4 712.2,4136.3 713.8,4134.9 715.4,4132.7 717.0,4133.5 718.6,4132.3 720.2,4128.0 721.8,4125.6 723.4,4121.2 725.0,4116.1 726.6,4122.1 728.2,4111.5 729.8,4111.7 731.4,4106.9 733.0,4111.8 734.6,4115.3 736.2,4106.8 737.8,4105.4 739.4,4102.1 741.0,4104.9 742.6,4102.4 744.2,4102.2 745.8,4105.4 747.4,4105.3 749.0,4099.2 750.6,4093.6 752.2,4095.4 753.8,4094.5 755.4,4092.7 757.0,4086.5 758.6,4090.1 760.2,4085.8 761.8,4088.7 763.4,4087.6 765.0,4085.5 766.6,4083.9 768.2,4082.9 769.8,4074.9 771.4,4072.1 773.0,4066.3 774.6,4069.6 776.2,4068.2 777.8,4067.1 779.4,4056.2 781.0,4055.4 782.6,4053.9 784.2,4047.5 785.8,4054.1 787.4,4059.5 789.0,4057.3 790.6,4054.5 792.2,4050.7 793.8,4051.3 795.4,4042.3 797.0,4036.9 798.6,4041.2 800.2,4040.6 801.8,4034.6 803.4,4032.4 805.0,4027.0 806.6,4024.3 808.2,4020.5 809.8,4024.3 811.4,4018.2 813.0,4013.9 814.6,4017.2 816.2,4011.4 817.8,4006.0 819.4,4001.6 821.0,4004.1 822.6,3998.9 824.2,3997.7 825.8,3996.4 827.4,3994.3 829.0,3993.5 830.6,3989.5 832.2,3988.8 833.8,3982.9 835.4,3978.8 837.0,3978.9 838.6,3980.5 840.2,3974.3 841.8,3969.4 843.4,3965.3 845.0,3963.8 846.6,3961.3 848.2,3954.4 849.8,3959.9 851.4,3960.3 853.0,3960.2 854.6,3955.7 856.2,3948.8 857.8,3947.2 859.4,3943.2 861.0,3942.6 862.6,3947.2 864.2,3940.5 865.8,3931.8 867.4,3928.6 869.0,3930.7 870.6,3928.9 872.2,3928.0 873.8,3923.6 875.4,3914.8 877.0,3916.3 878.6,3908.0 880.2,3905.0 881.8,3901.2 883.4,3904.0 885.0,3903.9 886.6,3895.6 888.2,3893.2 889.8,3886.7 891.4,3894.0 893.0,3892.2 894.6,3876.3 896.2,3870.0 897.8,3868.5 899.4,3865.5 901.0,3867.9 902.6,3869.0 904.2,3857.9 905.8,3854.5 907.4,3845.7 909.0,3841.1 910.6,3845.4 912.2,3846.0 913.8,3836.6 915.4,3838.9 917.0,3831.5 918.6,3829.6 920.2,3819.0 921.8,3812.5 923.4,3812.0 925.0,3806.6 926.6,3810.9 928.2,3808.7 929.8,3813.2 931.4,3800.5 933.0,3792.5 934.6,3789.2 936.2,3785.2 937.8,3785.8 939.4,3780.5 941.0,3769.6 942.6,3775.7 944.2,3772.4 945.8,3771.1 947.4,3762.2 949.0,3759.8 950.6,3754.6 952.2,3750.9 953.8,3756.2 955.4,3749.3 957.0,3742.4 958.6,3736.6 960.2,3731.6 961.8,3731.0 963.4,3725.1 965.0,3720.3 966.6,3718.4 968.2,3715.4 969.8,3715.2 971.4,3704.2 973.0,3697.8 974.6,3701.8 976.2,3694.6 977.8,3687.9 979.4,3690.3 981.0,3683.8 982.6,3671.5 984.2,3675.3 985.8,3673.9 987.4,3670.2 989.0,3660.9 990.6,3652.2 992.2,3649.9 993.8,3649.7 995.4,3641.3 997.0,3638.8 998.6,3628.0 1000.2,3625.1 1001.8,3623.9 1003.4,3619.7 1005.0,3613.4 1006.6,3602.3 1008.2,3606.0 1009.8,3602.3 1011.4,3596.0 1013.0,3585.9 1014.6,3586.3 1016.2,3576.6 1017.8,3568.8 1019.4,3566.4 1021.0,3557.4 1022.6,3554.3 1024.2,3554.2 1025.8,3547.8 1027.4,3541.8 1029.0,3545.6 1030.6,3535.5 1032.2,3528.8 1033.8,3526.8 1035.4,3524.7 1037.0,3522.9 1038.6,3520.5 1040.2,3517.3 1041.8,3511.8 1043.4,3508.8 1045.0,3510.0 1046.6,3505.6 1048.2,3502.6 1049.8,3503.3 1051.4,3499.5 1053.0,3494.5 1054.6,3494.5 1056.2,3496.8 1057.8,3494.4 1059.4,3492.2 1061.0,3495.7 1062.6,3490.5 1064.2,3489.3 1065.8,3491.8 1067.4,3492.1 1069.0,3494.6 1070.6,3503.3 1072.2,3507.8 1073.8,3510.4 1075.4,3512.4 1077.0,3512.4 1078.6,3520.0 1080.2,3516.6 1081.8,3528.1 1083.4,3530.0 1085.0,3532.0 1086.6,3535.8 1088.2,3546.2 1089.8,3556.7 1091.4,3560.0 1093.0,3560.7 1094.6,3569.2 1096.2,3575.0 1097.8,3584.7 1099.4,3587.8 1101.0,3594.9 1102.6,3604.7 1104.2,3604.3 1105.8,3609.7 1107.4,3618.6 1109.0,3617.0 1110.6,3620.3 1112.2,3631.1 1113.8,3637.7 1115.4,3648.3 1117.0,3655.7 1118.6,3660.0 1120.2,3670.4 1121.8,3676.9 1123.4,3677.0 1125.0,3681.3 1126.6,3690.1 1128.2,3690.8 1129.8,3697.2 1131.4,3708.6 1133.0,3716.8 1134.6,3718.4 1136.2,3726.5 1137.8,3731.0 1139.4,3733.5 1141.0,3745.8 1142.6,3743.2 1144.2,3750.0 1145.8,3753.7 1147.4,3754.2 1149.0,3766.6 1150.6,3771.3 1152.2,3775.1 1153.8,3773.7 1155.4,3778.3 1157.0,3789.6 1158.6,3790.5 1160.2,3790.9 1161.8,3794.0 1163.4,3797.5 1165.0,3793.8 1166.6,3803.6 1168.2,3807.1 1169.8,3807.4 1171.4,3807.9 1173.0,3811.7 1174.6,3813.8 1176.2,3810.2 1177.8,3813.6 1179.4,3820.6 1181.0,3820.0 1182.6,3822.3 1184.2,3824.0 1185.8,3827.7 1187.4,3833.4 1189.0,3833.7 1190.6,3831.0 1192.2,3830.2 1193.8,3837.9 1195.4,3834.9 1197.0,3834.9 1198.6,3834.3 1200.2,3834.2 1201.8,3828.5 1203.4,3827.0 1205.0,3833.7 1206.6,3835.3 1208.2,3830.6 1209.8,3831.9 1211.4,3829.8 1213.0,3826.1 1214.6,3829.3 1216.2,3830.7 1217.8,3825.6 1219.4,3824.1 1221.0,3822.8 1222.6,3821.5 1224.2,3818.1 1225.8,3822.0 1227.4,3818.2 1229.0,3818.3 1230.6,3818.7 1232.2,3811.9 1233.8,3811.9 1235.4,3813.1 1237.0,3808.7 1238.6,3808.5 1240.2,3808.0 1241.8,3806.6 1243.4,3810.5 1245.0,3804.3 1246.6,3800.9 1248.2,3799.4 1249.8,3796.6 1251.4,3795.1 1253.0,3800.1 1254.6,3799.4 1256.2,3802.3 1257.8,3803.8 1259.4,3798.5 1261.0,3800.1 1262.6,3796.6 1264.2,3802.7 1265.8,3799.0 1267.4,3798.3 1269.0,3796.4 1270.6,3795.4 1272.2,3791.6 1273.8,3793.7 1275.4,3797.7 1277.0,3802.6 1278.6,3804.3 1280.2,3799.4 1281.8,3802.7 1283.4,3804.2 1285.0,3808.1 1286.6,3812.8 1288.2,3812.7 1289.8,3817.8 1291.4,3818.4 1293.0,3814.3 1294.6,3824.2 1296.2,3827.3 1297.8,3825.4 1299.4,3824.1 1301.0,3825.6 1302.6,3834.5 1304.2,3835.7 1305.8,3835.6 1307.4,3841.1 1309.0,3847.8 1310.6,3849.2 1312.2,3847.5 1313.8,3859.3 1315.4,3860.0 1317.0,3863.7 1318.6,3864.0 1320.2,3866.4 1321.8,3871.5 1323.4,3875.7 1325.0,3879.3 1326.6,3877.5 1328.2,3884.5 1329.8,3888.2 1331.4,3889.2 1333.0,3892.0 1334.6,3897.1 1336.2,3899.6 1337.8,3901.6 1339.4,3902.7 1341.0,3906.7 1342.6,3908.4 1344.2,3910.0 1345.8,3912.9 1347.4,3917.7 1349.0,3920.9 1350.6,3923.7 1352.2,3928.6 1353.8,3931.3 1355.4,3936.8 1357.0,3939.1 1358.6,3938.8 1360.2,3939.6 1361.8,3948.0 1363.4,3952.6 1365.0,3953.7 1366.6,3955.5 1368.2,3954.1 1369.8,3958.9 1371.4,3959.0 1373.0,3961.0 1374.6,3955.2 1376.2,3961.2 1377.8,3968.0 1379.4,3973.0 1381.0,3970.5 1382.6,3970.4 1384.2,3973.9 1385.8,3973.7 1387.4,3970.7 1389.0,3975.5 1390.6,3980.4 1392.2,3982.0 1393.8,3984.5 1395.4,3986.9 1397.0,3983.9 1398.6,3985.3 1400.2,3987.9 1401.8,3992.5 1403.4,3992.0 1405.0,3994.2 1406.6,3996.6 1408.2,3996.8 1409.8,4000.3 1411.4,4002.7 1413.0,4005.7 1414.6,4008.7 1416.2,4010.9 1417.8,4010.7 1419.4,4015.5 1421.0,4015.9 1422.6,4021.1 1424.2,4020.2 1425.8,4024.7 1427.4,4027.0 1429.0,4030.2 1430.6,4030.4 1432.2,4032.2 1433.8,4030.9 1435.4,4035.6 1437.0,4035.8 1438.6,4038.0 1440.2,4037.6 1441.8,4041.0 1443.4,4045.3 1445.0,4048.6 1446.6,4050.4 1448.2,4049.4 1449.8,4050.2 1451.4,4053.2 1453.0,4054.9 1454.6,4058.9 1456.2,4063.5 1457.8,4065.6 1459.4,4062.2 1461.0,4060.7 1462.6,4063.5 1464.2,4068.5 1465.8,4066.2 1467.4,4073.3 1469.0,4077.8 1470.6,4080.4 1472.2,4080.6 1473.8,4079.3 1475.4,4079.2 1477.0,4083.5 1478.6,4087.9 1480.2,4091.2 1481.8,4094.7 1483.4,4094.5 1485.0,4096.4 1486.6,4095.9 1488.2,4095.9 1489.8,4098.5 1491.4,4097.6 1493.0,4102.8 1494.6,4106.4 1496.2,4103.9 1497.8,4103.0 1499.4,4108.7 1501.0,4109.5 1502.6,4112.0 1504.2,4111.1 1505.8,4115.3 1507.4,4118.1 1509.0,4121.9 1510.6,4120.4 1512.2,4121.8 1513.8,4121.2 1515.4,4121.7 1517.0,4129.9 1518.6,4127.3 1520.2,4134.8 1521.8,4135.0 1523.4,4136.5 1525.0,4133.8 1526.6,4139.1 1528.2,4139.3 1529.8,4142.1 1531.4,4145.7 1533.0,4143.9 1534.6,4144.6 1536.2,4143.2 1537.8,4144.9 1539.4,4146.5 1541.0,4150.0 1542.6,4154.6 1544.2,4155.3 1545.8,4157.0 1547.4,4156.5 1549.0,4158.7 1550.6,4159.2 1552.2,4157.9 1553.8,4159.3 1555.4,4161.0 1557.0,4161.4 1558.6,4164.4 1560.2,4163.6 1561.8,4164.5 1563.4,4165.0 1565.0,4167.6 1566.6,4169.9 1568.2,4170.0 1569.8,4170.6 1571.4,4170.6 1573.0,4173.4 1574.6,4174.6 1576.2,4176.0 1577.8,4173.2 1579.4,4177.2 1581.0,4178.7 1582.6,4177.7 1584.2,4177.8 1585.8,4179.5 1587.4,4181.2 1589.0,4181.0 1590.6,4184.8 1592.2,4186.0 1593.8,4186.4 1595.4,4185.9 1597.0,4187.3 1598.6,4188.5 1600.2,4188.7 1601.8,4190.2 1603.4,4192.2 1605.0,4193.2 1606.6,4194.6 1608.2,4197.0 1609.8,4196.2 1611.4,4196.0 1613.0,4196.0 1614.6,4197.7 1616.2,4196.9 1617.8,4198.4 1619.4,4201.9 1621.0,4203.0 1622.6,4203.9 1624.2,4202.0 1625.8,4204.9 1627.4,4206.4 1629.0,4205.0 1630.6,4206.0 1632.2,4205.0 1633.8,4207.3 1635.4,4205.3 1637.0,4204.8 1638.6,4208.5 1640.2,4213.8 1641.8,4210.0 1643.4,4212.1 1645.0,4211.0 1646.6,4213.2 1648.2,4212.2 1649.8,4212.0 1651.4,4215.4 1653.0,4216.8 1654.6,4217.4 1656.2,4219.4 1657.8,4217.4 1659.4,4222.2 1661.0,4223.2 1662.6,4225.1 1664.2,4224.8 1665.8,4227.0 1667.4,4227.0 1669.0,4230.6 1670.6,4233.3 1672.2,4233.6 1673.8,4231.2 1675.4,4231.6 1677.0,4234.0 1678.6,4236.3 1680.2,4236.5 1681.8,4235.7 1683.4,4240.2 1685.0,4239.5 1686.6,4242.1 1688.2,4243.4 1689.8,4243.3 1691.4,4243.8 1693.0,4245.2 1694.6,4247.6 1696.2,4247.5 1697.8,4247.7 1699.4,4249.0 1701.0,4252.1 1702.6,4252.4 1704.2,4251.9 1705.8,4252.0 1707.4,4251.7 1709.0,4253.6 1710.6,4253.9 1712.2,4255.2 1713.8,4255.4 1715.4,4255.2 1717.0,4256.3 1718.6,4259.7 1720.2,4260.1 1721.8,4259.7 1723.4,4263.6 1725.0,4263.8 1726.6,4263.6 1728.2,4264.0 1729.8,4264.2 1731.4,4265.1 1733.0,4265.0 1734.6,4264.5 1736.2,4265.9 1737.8,4266.6 1739.4,4266.3 1741.0,4265.9 1742.6,4269.4 1744.2,4271.8 1745.8,4273.1 1747.4,4272.1 1749.0,4272.0 1750.6,4272.5 1752.2,4273.8 1753.8,4272.8 1755.4,4274.5 1757.0,4274.9 1758.6,4274.6 1760.2,4275.0 1761.8,4274.6 1763.4,4273.8 1765.0,4273.7 1766.6,4275.1 1768.2,4276.0 1769.8,4276.2 1771.4,4275.9 1773.0,4276.0 1774.6,4275.8 1776.2,4277.4 1777.8,4277.2 1779.4,4277.6 1781.0,4278.6 1782.6,4279.8 1784.2,4278.0 1785.8,4278.3 1787.4,4279.6 1789.0,4280.0 1790.6,4279.0 1792.2,4280.6 1793.8,4280.6 1795.4,4278.9 1797.0,4281.9 1798.6,4282.7 1800.2,4281.6 1801.8,4280.8 1803.4,4280.0 1805.0,4279.2 1806.6,4278.5 1808.2,4279.7 1809.8,4277.6 1811.4,4278.2 1813.0,4280.2 1814.6,4279.3 1816.2,4279.8 1817.8,4281.7 1819.4,4281.7 1821.0,4279.6 1822.6,4280.0 1824.2,4279.6 1825.8,4277.5 1827.4,4278.7 1829.0,4279.7 1830.6,4278.4 1832.2,4279.8 1833.8,4280.2 1835.4,4282.4 1837.0,4279.6 1838.6,4278.5 1840.2,4279.7 1841.8,4279.8 1843.4,4278.5 1845.0,4277.9 1846.6,4278.4 1848.2,4278.3 1849.8,4281.1 1851.4,4281.7 1853.0,4279.5 1854.6,4277.5 1856.2,4280.7 1857.8,4281.1 1859.4,4280.9 1861.0,4281.3 1862.6,4279.7 1864.2,4279.7 1865.8,4281.8 1867.4,4279.8 1869.0,4278.8 1870.6,4277.7 1872.2,4280.1 1873.8,4280.0 1875.4,4279.0 1877.0,4280.9 1878.6,4279.7 1880.2,4277.7" fill="none" stroke="#ff0000" stroke-width="5.2" stroke-linejoin="round" />
<polyline points="246.6,4240.5 248.2,4245.6 249.8,4239.5 251.4,4232.6 253.0,4240.3 254.6,4235.5 256.2,4232.2 257.8,4229.6 259.4,4221.4 261.0,4230.9 262.6,4215.8 264.2,4211.0 265.8,4222.7 267.4,4231.2 269.0,4227.1 270.6,4221.2 272.2,4217.8 273.8,4218.4 275.4,4219.8 277.0,4217.1 278.6,4221.1 280.2,4216.3 281.8,4226.8 283.4,4215.5 285.0,4215.9 286.6,4210.4 288.2,4207.4 289.8,4202.4 291.4,4206.1 293.0,4216.1 294.6,4199.9 296.2,4210.6 297.8,4228.1 299.4,4215.6 301.0,4209.1 302.6,4208.5 304.2,4193.7 305.8,4192.3 307.4,4209.5 309.0,4215.4 310.6,4213.0 312.2,4212.0 313.8,4204.2 315.4,4209.7 317.0,4218.4 318.6,4200.3 320.2,4209.8 321.8,4198.0 323.4,4193.5 325.0,4204.7 326.6,4198.0 328.2,4210.1 329.8,4215.2 331.4,4207.7 333.0,4197.3 334.6,4199.1 336.2,4205.9 337.8,4213.5 339.4,4218.9 341.0,4187.7 342.6,4191.4 344.2,4187.8 345.8,4189.4 347.4,4209.7 349.0,4199.1 350.6,4203.6 352.2,4191.6 353.8,4184.7 355.4,4192.4 357.0,4188.4 358.6,4197.7 360.2,4183.8 361.8,4171.2 363.4,4179.3 365.0,4189.1 366.6,4171.6 368.2,4181.3 369.8,4180.1 371.4,4182.8 373.0,4174.6 374.6,4168.0 376.2,4161.7 377.8,4163.6 379.4,4167.0 381.0,4171.9 382.6,4175.5 384.2,4171.2 385.8,4179.9 387.4,4168.7 389.0,4159.8 390.6,4166.1 392.2,4160.1 393.8,4166.3 395.4,4150.5 397.0,4146.3 398.6,4159.4 400.2,4161.8 401.8,4157.0 403.4,4164.3 405.0,4161.7 406.6,4183.8 408.2,4175.9 409.8,4172.0 411.4,4159.7 413.0,4158.0 414.6,4157.4 416.2,4155.6 417.8,4145.8 419.4,4159.5 421.0,4136.8 422.6,4136.9 424.2,4138.6 425.8,4145.7 427.4,4155.5 429.0,4146.1 430.6,4142.5 432.2,4136.1 433.8,4129.4 435.4,4130.1 437.0,4149.4 438.6,4146.6 440.2,4140.3 441.8,4149.9 443.4,4145.5 445.0,4132.5 446.6,4134.5 448.2,4147.9 449.8,4151.1 451.4,4139.9 453.0,4147.9 454.6,4152.5 456.2,4150.2 457.8,4143.4 459.4,4148.0 461.0,4148.3 462.6,4140.4 464.2,4144.3 465.8,4141.3 467.4,4135.3 469.0,4146.0 470.6,4146.4 472.2,4144.2 473.8,4159.0 475.4,4166.8 477.0,4163.1 478.6,4152.7 480.2,4149.8 481.8,4163.5 483.4,4158.0 485.0,4169.8 486.6,4162.0 488.2,4165.7 489.8,4163.5 491.4,4168.2 493.0,4176.4 494.6,4172.9 496.2,4165.4 497.8,4183.0 499.4,4182.1 501.0,4174.9 502.6,4164.3 504.2,4164.7 505.8,4164.7 507.4,4168.6 509.0,4181.1 510.6,4177.3 512.2,4175.3 513.8,4179.0 515.4,4179.1 517.0,4171.9 518.6,4183.5 520.2,4181.3 521.8,4176.7 523.4,4177.8 525.0,4170.2 526.6,4191.4 528.2,4190.0 529.8,4190.7 531.4,4184.6 533.0,4192.0 534.6,4189.7 536.2,4178.1 537.8,4191.1 539.4,4208.1 541.0,4197.9 542.6,4198.7 544.2,4203.4 545.8,4207.5 547.4,4198.6 549.0,4187.0 550.6,4202.6 552.2,4209.5 553.8,4205.8 555.4,4193.4 557.0,4201.1 558.6,4200.7 560.2,4205.7 561.8,4204.9 563.4,4217.2 565.0,4212.3 566.6,4202.9 568.2,4201.2 569.8,4207.5 571.4,4213.6 573.0,4208.5 574.6,4215.0 576.2,4226.3 577.8,4221.5 579.4,4215.7 581.0,4236.6 582.6,4249.7 584.2,4227.1 585.8,4220.3 587.4,4227.1 589.0,4236.8 590.6,4223.6 592.2,4236.0 593.8,4235.8 595.4,4245.2 597.0,4236.9 598.6,4231.7 600.2,4232.6 601.8,4240.6 603.4,4236.0 605.0,4228.5 606.6,4221.7 608.2,4237.8 609.8,4239.8 611.4,4256.0 613.0,4247.0 614.6,4257.1 616.2,4247.2 617.8,4248.7 619.4,4243.7 621.0,4246.6 622.6,4249.7 624.2,4241.2 625.8,4247.6 627.4,4256.5 629.0,4238.9 630.6,4241.8 632.2,4251.6 633.8,4252.2 635.4,4251.6 637.0,4248.6 638.6,4254.2 640.2,4248.0 641.8,4242.5 643.4,4233.3 645.0,4241.4 646.6,4252.3 648.2,4262.4 649.8,4256.5 651.4,4267.9 653.0,4249.2 654.6,4254.2 656.2,4262.4 657.8,4251.8 659.4,4251.8 661.0,4260.3 662.6,4264.0 664.2,4266.2 665.8,4274.9 667.4,4265.8 669.0,4268.1 670.6,4248.5 672.2,4247.1 673.8,4255.2 675.4,4255.9 677.0,4259.1 678.6,4255.5 680.2,4259.6 681.8,4249.8 683.4,4249.7 685.0,4242.5 686.6,4249.7 688.2,4259.4 689.8,4262.7 691.4,4261.4 693.0,4242.7 694.6,4240.7 696.2,4244.9 697.8,4244.5 699.4,4241.4 701.0,4247.5 702.6,4241.9 704.2,4251.3 705.8,4258.7 707.4,4249.1 709.0,4248.7 710.6,4238.8 712.2,4229.7 713.8,4226.6 715.4,4251.2 717.0,4254.1 718.6,4221.1 720.2,4224.9 721.8,4230.2 723.4,4226.7 725.0,4229.9 726.6,4238.8 728.2,4234.3 729.8,4235.7 731.4,4219.3 733.0,4228.1 734.6,4241.9 736.2,4223.5 737.8,4212.0 739.4,4219.2 741.0,4220.1 742.6,4205.0 744.2,4223.1 745.8,4228.6 747.4,4219.0 749.0,4218.5 750.6,4217.5 752.2,4214.0 753.8,4205.4 755.4,4210.0 757.0,4219.4 758.6,4220.8 760.2,4215.2 761.8,4205.2 763.4,4213.9 765.0,4219.2 766.6,4220.8 768.2,4213.9 769.8,4206.4 771.4,4203.9 773.0,4209.0 774.6,4206.1 776.2,4181.5 777.8,4187.8 779.4,4199.0 781.0,4201.7 782.6,4182.8 784.2,4177.1 785.8,4177.1 787.4,4198.6 789.0,4196.1 790.6,4191.5 792.2,4210.9 793.8,4207.0 795.4,4194.5 797.0,4186.0 798.6,4181.5 800.2,4184.8 801.8,4174.2 803.4,4180.6 805.0,4171.6 806.6,4177.7 808.2,4171.5 809.8,4174.2 811.4,4179.0 813.0,4172.1 814.6,4161.5 816.2,4155.6 817.8,4149.3 819.4,4148.0 821.0,4159.9 822.6,4152.0 824.2,4142.2 825.8,4154.8 827.4,4144.8 829.0,4153.7 830.6,4147.5 832.2,4146.2 833.8,4138.4 835.4,4127.4 837.0,4129.6 838.6,4126.7 840.2,4122.6 841.8,4128.4 843.4,4115.6 845.0,4111.7 846.6,4112.2 848.2,4109.3 849.8,4117.5 851.4,4121.5 853.0,4115.5 854.6,4111.7 856.2,4116.6 857.8,4116.7 859.4,4118.1 861.0,4102.8 862.6,4102.4 864.2,4096.7 865.8,4092.8 867.4,4094.3 869.0,4097.4 870.6,4086.4 872.2,4082.3 873.8,4097.6 875.4,4088.7 877.0,4086.2 878.6,4087.8 880.2,4088.5 881.8,4082.0 883.4,4067.8 885.0,4068.4 886.6,4075.0 888.2,4068.5 889.8,4074.1 891.4,4070.5 893.0,4050.5 894.6,4050.5 896.2,4043.6 897.8,4041.8 899.4,4043.4 901.0,4045.0 902.6,4042.3 904.2,4029.5 905.8,4032.6 907.4,4028.8 909.0,4023.0 910.6,4024.8 912.2,4012.9 913.8,4017.5 915.4,4021.0 917.0,4028.6 918.6,4014.7 920.2,4009.2 921.8,4012.3 923.4,3997.8 925.0,4002.0 926.6,4017.1 928.2,4010.2 929.8,4000.2 931.4,3996.9 933.0,3981.7 934.6,3989.8 936.2,3980.2 937.8,3980.7 939.4,3977.0 941.0,3975.7 942.6,3965.0 944.2,3950.3 945.8,3941.9 947.4,3945.4 949.0,3956.8 950.6,3949.6 952.2,3943.0 953.8,3958.6 955.4,3950.5 957.0,3938.0 958.6,3933.8 960.2,3942.9 961.8,3935.0 963.4,3924.1 965.0,3925.3 966.6,3917.3 968.2,3931.9 969.8,3921.6 971.4,3916.9 973.0,3906.3 974.6,3901.1 976.2,3902.9 977.8,3894.3 979.4,3887.3 981.0,3897.9 982.6,3890.0 984.2,3880.2 985.8,3885.9 987.4,3879.7 989.0,3871.2 990.6,3860.0 992.2,3861.9 993.8,3846.2 995.4,3849.5 997.0,3862.0 998.6,3852.2 1000.2,3834.4 1001.8,3832.5 1003.4,3837.6 1005.0,3838.9 1006.6,3829.6 1008.2,3826.2 1009.8,3829.1 1011.4,3826.3 1013.0,3806.3 1014.6,3807.4 1016.2,3814.2 1017.8,3806.6 1019.4,3788.4 1021.0,3780.3 1022.6,3794.4 1024.2,3784.2 1025.8,3777.9 1027.4,3770.7 1029.0,3773.4 1030.6,3771.1 1032.2,3764.4 1033.8,3743.7 1035.4,3744.0 1037.0,3748.1 1038.6,3740.3 1040.2,3739.3 1041.8,3745.7 1043.4,3733.1 1045.0,3723.5 1046.6,3739.3 1048.2,3733.8 1049.8,3727.3 1051.4,3727.7 1053.0,3726.9 1054.6,3723.3 1056.2,3725.5 1057.8,3721.1 1059.4,3726.8 1061.0,3734.1 1062.6,3716.3 1064.2,3703.7 1065.8,3725.2 1067.4,3722.1 1069.0,3715.0 1070.6,3718.4 1072.2,3711.4 1073.8,3721.2 1075.4,3709.7 1077.0,3725.8 1078.6,3733.6 1080.2,3725.8 1081.8,3731.2 1083.4,3731.7 1085.0,3722.4 1086.6,3734.5 1088.2,3751.1 1089.8,3750.6 1091.4,3763.6 1093.0,3756.3 1094.6,3755.0 1096.2,3759.1 1097.8,3758.9 1099.4,3756.0 1101.0,3773.9 1102.6,3788.3 1104.2,3781.5 1105.8,3784.2 1107.4,3794.3 1109.0,3811.6 1110.6,3817.9 1112.2,3814.9 1113.8,3827.3 1115.4,3837.5 1117.0,3837.9 1118.6,3843.2 1120.2,3855.5 1121.8,3856.1 1123.4,3868.4 1125.0,3881.1 1126.6,3893.0 1128.2,3894.3 1129.8,3893.5 1131.4,3891.3 1133.0,3903.2 1134.6,3907.6 1136.2,3920.2 1137.8,3915.7 1139.4,3916.5 1141.0,3917.1 1142.6,3923.8 1144.2,3929.8 1145.8,3926.2 1147.4,3931.3 1149.0,3930.6 1150.6,3935.0 1152.2,3948.6 1153.8,3947.5 1155.4,3952.1 1157.0,3959.4 1158.6,3958.1 1160.2,3963.2 1161.8,3968.8 1163.4,3970.8 1165.0,3977.3 1166.6,3993.7 1168.2,3998.0 1169.8,4001.0 1171.4,3995.9 1173.0,4005.0 1174.6,4017.8 1176.2,4021.0 1177.8,4016.0 1179.4,4025.0 1181.0,4033.6 1182.6,4031.1 1184.2,4026.1 1185.8,4022.3 1187.4,4018.4 1189.0,4026.8 1190.6,4031.8 1192.2,4032.3 1193.8,4033.2 1195.4,4039.6 1197.0,4040.9 1198.6,4030.9 1200.2,4034.7 1201.8,4035.6 1203.4,4035.8 1205.0,4034.4 1206.6,4040.3 1208.2,4042.9 1209.8,4034.9 1211.4,4035.5 1213.0,4041.6 1214.6,4032.9 1216.2,4039.3 1217.8,4036.8 1219.4,4032.7 1221.0,4036.7 1222.6,4034.9 1224.2,4036.8 1225.8,4036.1 1227.4,4031.4 1229.0,4031.4 1230.6,4030.2 1232.2,4028.2 1233.8,4016.0 1235.4,4022.1 1237.0,4027.0 1238.6,4024.5 1240.2,4027.8 1241.8,4020.0 1243.4,4018.5 1245.0,4018.6 1246.6,4014.8 1248.2,4029.0 1249.8,4017.2 1251.4,4015.6 1253.0,4007.0 1254.6,4016.1 1256.2,4014.4 1257.8,4020.6 1259.4,4020.4 1261.0,4023.8 1262.6,4015.8 1264.2,4016.1 1265.8,4014.7 1267.4,4015.5 1269.0,4011.4 1270.6,4014.4 1272.2,4021.4 1273.8,4019.3 1275.4,4009.8 1277.0,4014.8 1278.6,4014.5 1280.2,4010.0 1281.8,4016.3 1283.4,4012.3 1285.0,4017.8 1286.6,4020.6 1288.2,4014.6 1289.8,4019.9 1291.4,4021.5 1293.0,4016.5 1294.6,4022.7 1296.2,4029.7 1297.8,4027.8 1299.4,4017.2 1301.0,4010.4 1302.6,4019.8 1304.2,4022.8 1305.8,4033.0 1307.4,4030.3 1309.0,4038.4 1310.6,4029.8 1312.2,4034.1 1313.8,4040.7 1315.4,4042.3 1317.0,4056.0 1318.6,4051.8 1320.2,4059.4 1321.8,4065.1 1323.4,4075.3 1325.0,4079.5 1326.6,4073.8 1328.2,4076.7 1329.8,4080.3 1331.4,4081.1 1333.0,4086.5 1334.6,4079.6 1336.2,4082.2 1337.8,4084.3 1339.4,4095.3 1341.0,4104.1 1342.6,4102.8 1344.2,4101.6 1345.8,4106.0 1347.4,4114.4 1349.0,4111.1 1350.6,4111.3 1352.2,4115.2 1353.8,4111.2 1355.4,4119.6 1357.0,4123.9 1358.6,4124.7 1360.2,4127.3 1361.8,4141.0 1363.4,4141.1 1365.0,4141.1 1366.6,4141.1 1368.2,4134.3 1369.8,4137.9 1371.4,4140.3 1373.0,4142.8 1374.6,4147.4 1376.2,4147.6 1377.8,4153.7 1379.4,4150.1 1381.0,4151.8 1382.6,4156.4 1384.2,4154.3 1385.8,4150.2 1387.4,4156.3 1389.0,4156.0 1390.6,4166.5 1392.2,4168.5 1393.8,4159.7 1395.4,4165.1 1397.0,4161.3 1398.6,4157.3 1400.2,4168.5 1401.8,4174.7 1403.4,4178.4 1405.0,4173.3 1406.6,4170.5 1408.2,4178.1 1409.8,4176.6 1411.4,4178.1 1413.0,4180.2 1414.6,4177.7 1416.2,4183.2 1417.8,4181.7 1419.4,4178.4 1421.0,4185.4 1422.6,4180.6 1424.2,4185.0 1425.8,4191.3 1427.4,4189.8 1429.0,4195.3 1430.6,4191.2 1432.2,4197.4 1433.8,4201.9 1435.4,4199.0 1437.0,4199.5 1438.6,4201.8 1440.2,4200.8 1441.8,4204.4 1443.4,4206.6 1445.0,4208.0 1446.6,4215.6 1448.2,4218.5 1449.8,4218.0 1451.4,4222.6 1453.0,4226.3 1454.6,4223.3 1456.2,4232.1 1457.8,4225.5 1459.4,4228.7 1461.0,4233.5 1462.6,4230.3 1464.2,4234.6 1465.8,4236.5 1467.4,4241.7 1469.0,4247.9 1470.6,4241.4 1472.2,4241.9 1473.8,4244.8 1475.4,4245.2 1477.0,4247.4 1478.6,4249.4 1480.2,4258.0 1481.8,4257.9 1483.4,4261.8 1485.0,4261.6 1486.6,4256.4 1488.2,4262.5 1489.8,4266.0 1491.4,4263.0 1493.0,4264.9 1494.6,4265.4 1496.2,4262.7 1497.8,4266.6 1499.4,4272.4 1501.0,4273.2 1502.6,4273.9 1504.2,4269.7 1505.8,4272.6 1507.4,4277.3 1509.0,4271.9 1510.6,4274.7 1512.2,4273.9 1513.8,4279.6 1515.4,4285.3 1517.0,4286.6 1518.6,4280.8 1520.2,4282.5 1521.8,4279.9 1523.4,4287.5 1525.0,4289.5 1526.6,4297.3 1528.2,4289.1 1529.8,4289.6 1531.4,4293.8 1533.0,4299.1 1534.6,4295.4 1536.2,4301.9 1537.8,4301.0 1539.4,4304.7 1541.0,4302.0 1542.6,4302.4 1544.2,4307.8 1545.8,4308.3 1547.4,4309.7 1549.0,4313.3 1550.6,4320.1 1552.2,4321.8 1553.8,4318.5 1555.4,4319.4 1557.0,4317.7 1558.6,4322.4 1560.2,4315.8 1561.8,4316.9 1563.4,4324.9 1565.0,4325.3 1566.6,4327.5 1568.2,4327.6 1569.8,4329.7 1571.4,4331.9 1573.0,4328.5 1574.6,4328.9 1576.2,4332.3 1577.8,4334.5 1579.4,4328.0 1581.0,4333.0 1582.6,4334.4 1584.2,4335.1 1585.8,4333.9 1587.4,4338.0 1589.0,4340.4 1590.6,4338.1 1592.2,4345.0 1593.8,4343.2 1595.4,4343.7 1597.0,4344.9 1598.6,4345.8 1600.2,4340.6 1601.8,4343.8 1603.4,4346.9 1605.0,4342.4 1606.6,4339.9 1608.2,4343.9 1609.8,4341.6 1611.4,4343.3 1613.0,4344.5 1614.6,4345.0 1616.2,4347.8 1617.8,4349.0 1619.4,4345.9 1621.0,4348.0 1622.6,4350.5 1624.2,4346.4 1625.8,4353.0 1627.4,4359.0 1629.0,4356.0 1630.6,4356.0 1632.2,4357.6 1633.8,4357.3 1635.4,4358.7 1637.0,4361.0 1638.6,4354.2 1640.2,4357.5 1641.8,4359.0 1643.4,4361.3 1645.0,4361.4 1646.6,4363.6 1648.2,4362.6 1649.8,4357.6 1651.4,4360.2 1653.0,4363.1 1654.6,4362.3 1656.2,4365.2 1657.8,4368.7 1659.4,4364.7 1661.0,4366.2 1662.6,4370.3 1664.2,4370.0 1665.8,4372.7 1667.4,4376.9 1669.0,4375.9 1670.6,4373.6 1672.2,4375.5 1673.8,4376.7 1675.4,4376.6 1677.0,4375.5 1678.6,4380.0 1680.2,4382.5 1681.8,4378.8 1683.4,4378.9 1685.0,4383.5 1686.6,4384.5 1688.2,4383.6 1689.8,4382.3 1691.4,4385.4 1693.0,4383.5 1694.6,4382.1 1696.2,4385.9 1697.8,4390.0 1699.4,4391.0 1701.0,4391.9 1702.6,4393.3 1704.2,4394.9 1705.8,4390.3 1707.4,4390.8 1709.0,4395.7 1710.6,4395.9 1712.2,4394.6 1713.8,4394.7 1715.4,4395.9 1717.0,4396.7 1718.6,4395.9 1720.2,4395.9 1721.8,4398.0 1723.4,4398.4 1725.0,4397.8 1726.6,4399.4 1728.2,4402.2 1729.8,4405.7 1731.4,4399.5 1733.0,4399.8 1734.6,4398.2 1736.2,4401.9 1737.8,4404.0 1739.4,4404.8 1741.0,4403.1 1742.6,4402.7 1744.2,4405.1 1745.8,4405.2 1747.4,4401.3 1749.0,4403.0 1750.6,4403.8 1752.2,4403.8 1753.8,4404.4 1755.4,4408.3 1757.0,4407.5 1758.6,4407.4 1760.2,4406.2 1761.8,4408.4 1763.4,4406.9 1765.0,4405.5 1766.6,4404.4 1768.2,4407.7 1769.8,4405.5 1771.4,4404.9 1773.0,4408.1 1774.6,4406.6 1776.2,4407.8 1777.8,4408.8 1779.4,4405.0 1781.0,4407.0 1782.6,4408.5 1784.2,4411.3 1785.8,4409.5 1787.4,4410.4 1789.0,4410.8 1790.6,4410.0 1792.2,4409.4 1793.8,4407.5 1795.4,4408.2 1797.0,4408.4 1798.6,4408.7 1800.2,4411.2 1801.8,4410.9 1803.4,4409.7 1805.0,4409.4 1806.6,4408.7 1808.2,4409.1 1809.8,4407.1 1811.4,4409.1 1813.0,4410.0 1814.6,4408.0 1816.2,4406.8 1817.8,4407.7 1819.4,4410.5 1821.0,4405.9 1822.6,4407.2 1824.2,4408.3 1825.8,4410.6 1827.4,4409.9 1829.0,4408.2 1830.6,4408.6 1832.2,4406.1 1833.8,4407.0 1835.4,4407.2 1837.0,4409.3 1838.6,4409.3 1840.2,4412.0 1841.8,4409.0 1843.4,4409.0 1845.0,4410.0 1846.6,4412.7 1848.2,4409.3 1849.8,4405.6 1851.4,4405.3 1853.0,4409.4 1854.6,4410.3 1856.2,4408.7 1857.8,4409.9 1859.4,4411.3 1861.0,4412.0 1862.6,4408.0 1864.2,4408.1 1865.8,4407.2 1867.4,4409.8 1869.0,4408.5 1870.6,4407.5 1872.2,4410.0 1873.8,4410.0 1875.4,4409.0 1877.0,4409.1 1878.6,4405.1 1880.2,4406.0" fill="none" stroke="#00ff00" stroke-width="5.2" stroke-linejoin="round" />
<polyline points="246.6,4376.5 248.2,4379.9 249.8,4394.2 251.4,4397.9 253.0,4389.6 254.6,4377.8 256.2,4372.2 257.8,4376.9 259.4,4367.0 261.0,4357.1 262.6,4361.0 264.2,4371.0 265.8,4391.1 267.4,4379.6 269.0,4372.3 270.6,4370.3 272.2,4366.8 273.8,4380.3 275.4,4376.9 277.0,4378.6 278.6,4356.2 280.2,4355.7 281.8,4371.0 283.4,4351.2 285.0,4355.4 286.6,4360.3 288.2,4350.1 289.8,4341.4 291.4,4352.2 293.0,4362.1 294.6,4356.3 296.2,4351.5 297.8,4367.9 299.4,4365.5 301.0,4356.9 302.6,4351.4 304.2,4356.3 305.8,4348.9 307.4,4342.5 309.0,4340.2 310.6,4350.8 312.2,4351.9 313.8,4348.4 315.4,4351.1 317.0,4337.8 318.6,4342.3 320.2,4341.5 321.8,4333.1 323.4,4334.7 325.0,4337.2 326.6,4339.8 328.2,4330.7 329.8,4316.9 331.4,4311.3 333.0,4335.2 334.6,4350.8 336.2,4354.8 337.8,4343.2 339.4,4325.1 341.0,4321.1 342.6,4337.0 344.2,4333.0 345.8,4324.1 347.4,4324.1 349.0,4325.1 350.6,4317.1 352.2,4330.7 353.8,4340.5 355.4,4321.9 357.0,4314.8 358.6,4314.7 360.2,4326.6 361.8,4313.2 363.4,4308.5 365.0,4312.0 366.6,4311.4 368.2,4313.6 369.8,4314.3 371.4,4303.6 373.0,4295.5 374.6,4300.2 376.2,4294.4 377.8,4300.5 379.4,4311.5 381.0,4302.2 382.6,4304.6 384.2,4303.3 385.8,4296.8 387.4,4299.4 389.0,4312.3 390.6,4302.8 392.2,4295.0 393.8,4295.0 395.4,4290.1 397.0,4295.9 398.6,4293.6 400.2,4298.7 401.8,4292.6 403.4,4293.5 405.0,4304.8 406.6,4290.9 408.2,4290.6 409.8,4285.9 411.4,4301.3 413.0,4279.9 414.6,4279.0 416.2,4279.2 417.8,4278.2 419.4,4268.8 421.0,4274.7 422.6,4284.7 424.2,4282.8 425.8,4286.8 427.4,4276.0 429.0,4278.6 430.6,4288.2 432.2,4278.0 433.8,4279.9 435.4,4284.1 437.0,4274.6 438.6,4269.0 440.2,4277.1 441.8,4278.0 443.4,4268.6 445.0,4271.6 446.6,4286.5 448.2,4294.4 449.8,4280.6 451.4,4294.4 453.0,4285.1 454.6,4272.9 456.2,4271.2 457.8,4271.8 459.4,4288.2 461.0,4290.1 462.6,4271.9 464.2,4271.1 465.8,4282.9 467.4,4276.6 469.0,4264.7 470.6,4270.6 472.2,4275.1 473.8,4278.7 475.4,4280.6 477.0,4281.4 478.6,4286.8 480.2,4269.0 481.8,4270.3 483.4,4270.9 485.0,4275.7 486.6,4285.4 488.2,4291.2 489.8,4287.3 491.4,4280.6 493.0,4277.1 494.6,4286.7 496.2,4308.8 497.8,4301.2 499.4,4290.6 501.0,4276.4 502.6,4286.9 504.2,4287.7 505.8,4283.9 507.4,4309.3 509.0,4289.5 510.6,4301.0 512.2,4312.9 513.8,4303.2 515.4,4314.0 517.0,4323.1 518.6,4308.5 520.2,4303.5 521.8,4315.8 523.4,4313.3 525.0,4308.0 526.6,4314.2 528.2,4310.6 529.8,4322.2 531.4,4326.6 533.0,4333.9 534.6,4307.6 536.2,4301.9 537.8,4314.2 539.4,4320.1 541.0,4330.3 542.6,4326.0 544.2,4310.0 545.8,4320.2 547.4,4330.8 549.0,4313.8 550.6,4324.8 552.2,4320.3 553.8,4327.1 555.4,4338.3 557.0,4348.2 558.6,4336.7 560.2,4329.0 561.8,4330.4 563.4,4336.7 565.0,4337.0 566.6,4332.1 568.2,4338.8 569.8,4340.5 571.4,4335.4 573.0,4330.5 574.6,4338.8 576.2,4337.7 577.8,4335.5 579.4,4335.6 581.0,4337.8 582.6,4339.3 584.2,4348.1 585.8,4348.7 587.4,4340.4 589.0,4354.8 590.6,4351.6 592.2,4351.0 593.8,4349.1 595.4,4355.2 597.0,4343.8 598.6,4348.5 600.2,4343.2 601.8,4361.8 603.4,4361.9 605.0,4362.7 606.6,4349.8 608.2,4355.8 609.8,4347.3 611.4,4350.2 613.0,4372.8 614.6,4378.4 616.2,4378.8 617.8,4369.5 619.4,4355.1 621.0,4351.1 622.6,4357.3 624.2,4369.7 625.8,4368.9 627.4,4368.2 629.0,4359.3 630.6,4356.6 632.2,4373.3 633.8,4368.6 635.4,4365.1 637.0,4364.5 638.6,4370.0 640.2,4362.7 641.8,4368.1 643.4,4362.5 645.0,4375.1 646.6,4360.0 648.2,4368.3 649.8,4372.1 651.4,4373.0 653.0,4359.0 654.6,4364.9 656.2,4356.5 657.8,4369.9 659.4,4365.2 661.0,4369.6 662.6,4366.2 664.2,4375.9 665.8,4373.3 667.4,4357.4 669.0,4371.8 670.6,4388.8 672.2,4376.9 673.8,4355.9 675.4,4346.4 677.0,4358.4 678.6,4356.9 680.2,4355.4 681.8,4372.3 683.4,4369.8 685.0,4367.7 686.6,4359.1 688.2,4368.6 689.8,4359.1 691.4,4350.6 693.0,4365.4 694.6,4359.0 696.2,4361.9 697.8,4357.9 699.4,4358.4 701.0,4368.3 702.6,4365.3 704.2,4353.1 705.8,4352.3 707.4,4351.6 709.0,4354.0 710.6,4357.1 712.2,4339.3 713.8,4351.8 715.4,4350.9 717.0,4348.0 718.6,4352.9 720.2,4334.2 721.8,4339.7 723.4,4345.4 725.0,4330.4 726.6,4324.0 728.2,4330.1 729.8,4340.4 731.4,4352.6 733.0,4348.0 734.6,4333.8 736.2,4338.8 737.8,4330.5 739.4,4330.0 741.0,4343.0 742.6,4343.6 744.2,4337.9 745.8,4340.5 747.4,4337.3 749.0,4330.2 750.6,4325.9 752.2,4324.4 753.8,4324.0 755.4,4319.9 757.0,4327.4 758.6,4325.7 760.2,4318.0 761.8,4308.6 763.4,4306.7 765.0,4307.9 766.6,4303.9 768.2,4304.0 769.8,4297.3 771.4,4304.6 773.0,4298.6 774.6,4299.7 776.2,4301.2 777.8,4298.7 779.4,4308.9 781.0,4304.3 782.6,4280.6 784.2,4288.0 785.8,4282.4 787.4,4278.7 789.0,4296.4 790.6,4300.0 792.2,4274.1 793.8,4275.3 795.4,4284.0 797.0,4276.7 798.6,4267.3 800.2,4275.1 801.8,4266.8 803.4,4275.0 805.0,4273.5 806.6,4254.9 808.2,4255.0 809.8,4249.9 811.4,4274.2 813.0,4269.1 814.6,4265.4 816.2,4259.5 817.8,4261.2 819.4,4261.4 821.0,4240.5 822.6,4254.3 824.2,4245.5 825.8,4245.5 827.4,4243.0 829.0,4245.2 830.6,4255.7 832.2,4233.3 833.8,4247.5 835.4,4232.7 837.0,4229.9 838.6,4226.0 840.2,4209.0 841.8,4207.9 843.4,4210.9 845.0,4212.1 846.6,4207.2 848.2,4206.6 849.8,4215.8 851.4,4217.0 853.0,4212.0 854.6,4197.5 856.2,4196.0 857.8,4196.8 859.4,4189.8 861.0,4186.4 862.6,4190.3 864.2,4184.7 865.8,4179.7 867.4,4192.8 869.0,4183.3 870.6,4168.1 872.2,4178.1 873.8,4163.1 875.4,4147.0 877.0,4153.5 878.6,4166.8 880.2,4144.7 881.8,4149.5 883.4,4151.8 885.0,4150.7 886.6,4133.5 888.2,4127.7 889.8,4137.5 891.4,4147.5 893.0,4135.8 894.6,4130.1 896.2,4119.4 897.8,4117.7 899.4,4124.5 901.0,4124.1 902.6,4118.7 904.2,4123.7 905.8,4112.7 907.4,4112.5 909.0,4126.0 910.6,4113.6 912.2,4096.7 913.8,4096.7 915.4,4097.2 917.0,4090.3 918.6,4082.0 920.2,4072.3 921.8,4077.0 923.4,4086.0 925.0,4083.0 926.6,4072.6 928.2,4064.0 929.8,4058.0 931.4,4052.7 933.0,4057.1 934.6,4047.0 936.2,4047.1 937.8,4052.6 939.4,4059.0 941.0,4041.4 942.6,4042.2 944.2,4045.7 945.8,4047.5 947.4,4043.0 949.0,4021.7 950.6,4020.4 952.2,4002.0 953.8,4018.7 955.4,4010.5 957.0,4005.2 958.6,4000.6 960.2,4002.4 961.8,3994.6 963.4,3977.1 965.0,3970.0 966.6,3967.2 968.2,3982.0 969.8,3985.1 971.4,3986.0 973.0,3970.7 974.6,3963.6 976.2,3962.0 977.8,3968.5 979.4,3948.2 981.0,3946.5 982.6,3936.1 984.2,3941.6 985.8,3933.5 987.4,3933.7 989.0,3938.5 990.6,3917.7 992.2,3907.5 993.8,3900.8 995.4,3904.2 997.0,3900.0 998.6,3896.0 1000.2,3901.4 1001.8,3899.4 1003.4,3902.4 1005.0,3886.1 1006.6,3876.1 1008.2,3887.7 1009.8,3867.4 1011.4,3859.1 1013.0,3854.3 1014.6,3863.5 1016.2,3856.7 1017.8,3850.6 1019.4,3848.1 1021.0,3828.6 1022.6,3835.7 1024.2,3836.4 1025.8,3821.7 1027.4,3826.1 1029.0,3818.9 1030.6,3804.1 1032.2,3794.9 1033.8,3811.0 1035.4,3812.5 1037.0,3799.2 1038.6,3778.5 1040.2,3769.6 1041.8,3765.3 1043.4,3777.2 1045.0,3774.7 1046.6,3784.0 1048.2,3777.5 1049.8,3780.3 1051.4,3770.4 1053.0,3766.7 1054.6,3756.3 1056.2,3765.3 1057.8,3764.3 1059.4,3763.4 1061.0,3758.8 1062.6,3754.2 1064.2,3764.2 1065.8,3765.6 1067.4,3759.2 1069.0,3759.9 1070.6,3773.7 1072.2,3761.1 1073.8,3773.2 1075.4,3780.5 1077.0,3779.0 1078.6,3760.6 1080.2,3773.4 1081.8,3774.5 1083.4,3783.5 1085.0,3785.2 1086.6,3792.0 1088.2,3790.4 1089.8,3792.8 1091.4,3799.1 1093.0,3812.8 1094.6,3814.2 1096.2,3814.5 1097.8,3831.2 1099.4,3841.3 1101.0,3835.0 1102.6,3837.7 1104.2,3855.2 1105.8,3862.9 1107.4,3868.5 1109.0,3875.3 1110.6,3878.2 1112.2,3889.5 1113.8,3885.8 1115.4,3878.2 1117.0,3897.2 1118.6,3909.5 1120.2,3912.1 1121.8,3917.7 1123.4,3916.2 1125.0,3915.9 1126.6,3931.0 1128.2,3938.6 1129.8,3935.3 1131.4,3947.5 1133.0,3948.3 1134.6,3944.1 1136.2,3959.9 1137.8,3960.5 1139.4,3966.7 1141.0,3961.3 1142.6,3986.0 1144.2,3988.4 1145.8,3995.1 1147.4,3995.8 1149.0,3997.8 1150.6,4008.2 1152.2,4009.6 1153.8,4023.9 1155.4,4033.1 1157.0,4030.4 1158.6,4030.0 1160.2,4045.7 1161.8,4040.7 1163.4,4048.0 1165.0,4053.2 1166.6,4053.7 1168.2,4049.1 1169.8,4061.0 1171.4,4057.8 1173.0,4064.2 1174.6,4074.5 1176.2,4074.9 1177.8,4068.8 1179.4,4071.7 1181.0,4081.7 1182.6,4077.0 1184.2,4070.0 1185.8,4077.1 1187.4,4083.4 1189.0,4086.7 1190.6,4088.1 1192.2,4087.7 1193.8,4090.8 1195.4,4089.7 1197.0,4098.9 1198.6,4096.6 1200.2,4097.2 1201.8,4104.5 1203.4,4101.4 1205.0,4107.9 1206.6,4112.3 1208.2,4110.9 1209.8,4107.5 1211.4,4111.5 1213.0,4107.3 1214.6,4109.1 1216.2,4109.9 1217.8,4108.8 1219.4,4106.0 1221.0,4110.9 1222.6,4120.6 1224.2,4112.2 1225.8,4114.8 1227.4,4106.5 1229.0,4106.6 1230.6,4105.6 1232.2,4100.1 1233.8,4104.6 1235.4,4108.9 1237.0,4103.9 1238.6,4094.9 1240.2,4099.0 1241.8,4100.7 1243.4,4096.8 1245.0,4091.5 1246.6,4092.7 1248.2,4092.0 1249.8,4099.3 1251.4,4100.5 1253.0,4087.2 1254.6,4092.1 1256.2,4092.6 1257.8,4082.4 1259.4,4081.8 1261.0,4083.5 1262.6,4084.3 1264.2,4083.4 1265.8,4079.0 1267.4,4075.2 1269.0,4086.9 1270.6,4088.2 1272.2,4095.8 1273.8,4084.0 1275.4,4077.8 1277.0,4082.8 1278.6,4088.7 1280.2,4083.4 1281.8,4080.6 1283.4,4088.6 1285.0,4089.4 1286.6,4088.2 1288.2,4087.7 1289.8,4087.6 1291.4,4090.6 1293.0,4089.8 1294.6,4088.3 1296.2,4089.3 1297.8,4091.6 1299.4,4096.4 1301.0,4098.8 1302.6,4107.0 1304.2,4102.4 1305.8,4105.2 1307.4,4103.7 1309.0,4097.5 1310.6,4109.0 1312.2,4112.4 1313.8,4114.9 1315.4,4117.5 1317.0,4117.8 1318.6,4125.6 1320.2,4134.1 1321.8,4123.6 1323.4,4128.4 1325.0,4138.2 1326.6,4140.5 1328.2,4138.4 1329.8,4140.0 1331.4,4142.3 1333.0,4149.4 1334.6,4154.0 1336.2,4155.8 1337.8,4166.0 1339.4,4161.9 1341.0,4169.1 1342.6,4179.1 1344.2,4180.3 1345.8,4174.7 1347.4,4180.7 1349.0,4182.2 1350.6,4187.1 1352.2,4192.5 1353.8,4189.4 1355.4,4193.2 1357.0,4203.4 1358.6,4204.0 1360.2,4199.9 1361.8,4204.4 1363.4,4207.5 1365.0,4208.0 1366.6,4205.1 1368.2,4203.2 1369.8,4211.8 1371.4,4212.1 1373.0,4219.8 1374.6,4228.9 1376.2,4232.1 1377.8,4234.4 1379.4,4224.1 1381.0,4224.2 1382.6,4219.6 1384.2,4233.9 1385.8,4240.7 1387.4,4241.7 1389.0,4240.9 1390.6,4242.0 1392.2,4242.6 1393.8,4248.1 1395.4,4242.1 1397.0,4240.5 1398.6,4238.1 1400.2,4246.4 1401.8,4254.2 1403.4,4252.9 1405.0,4250.1 1406.6,4260.4 1408.2,4261.0 1409.8,4251.3 1411.4,4252.6 1413.0,4265.5 1414.6,4263.2 1416.2,4259.8 1417.8,4266.4 1419.4,4266.7 1421.0,4267.3 1422.6,4275.4 1424.2,4267.1 1425.8,4266.0 1427.4,4278.1 1429.0,4274.3 1430.6,4275.8 1432.2,4283.5 1433.8,4286.6 1435.4,4284.8 1437.0,4286.8 1438.6,4290.7 1440.2,4298.0 1441.8,4297.3 1443.4,4294.4 1445.0,4300.0 1446.6,4301.5 1448.2,4300.5 1449.8,4304.4 1451.4,4304.0 1453.0,4310.4 1454.6,4301.1 1456.2,4301.6 1457.8,4310.4 1459.4,4315.4 1461.0,4321.4 1462.6,4321.0 1464.2,4318.0 1465.8,4327.6 1467.4,4326.8 1469.0,4330.1 1470.6,4331.7 1472.2,4335.8 1473.8,4334.6 1475.4,4332.2 1477.0,4331.7 1478.6,4342.3 1480.2,4340.5 1481.8,4343.8 1483.4,4342.9 1485.0,4346.3 1486.6,4349.3 1488.2,4357.2 1489.8,4358.7 1491.4,4350.0 1493.0,4354.9 1494.6,4361.1 1496.2,4362.1 1497.8,4361.2 1499.4,4360.5 1501.0,4369.2 1502.6,4371.9 1504.2,4367.1 1505.8,4369.3 1507.4,4373.2 1509.0,4379.6 1510.6,4379.9 1512.2,4378.1 1513.8,4381.1 1515.4,4385.7 1517.0,4380.8 1518.6,4378.2 1520.2,4380.3 1521.8,4389.5 1523.4,4390.4 1525.0,4399.1 1526.6,4401.2 1528.2,4391.4 1529.8,4392.5 1531.4,4396.2 1533.0,4398.0 1534.6,4399.2 1536.2,4400.5 1537.8,4400.0 1539.4,4403.9 1541.0,4405.3 1542.6,4409.2 1544.2,4406.7 1545.8,4407.8 1547.4,4415.2 1549.0,4418.7 1550.6,4413.1 1552.2,4410.8 1553.8,4416.7 1555.4,4420.6 1557.0,4421.5 1558.6,4420.4 1560.2,4421.4 1561.8,4420.7 1563.4,4422.2 1565.0,4422.1 1566.6,4427.7 1568.2,4427.5 1569.8,4424.9 1571.4,4426.2 1573.0,4426.6 1574.6,4429.2 1576.2,4433.3 1577.8,4431.9 1579.4,4432.3 1581.0,4427.9 1582.6,4431.8 1584.2,4432.8 1585.8,4437.6 1587.4,4434.6 1589.0,4437.0 1590.6,4440.1 1592.2,4440.5 1593.8,4441.1 1595.4,4448.4 1597.0,4448.2 1598.6,4445.5 1600.2,4445.1 1601.8,4446.3 1603.4,4449.7 1605.0,4451.8 1606.6,4451.9 1608.2,4450.0 1609.8,4448.7 1611.4,4445.3 1613.0,4446.2 1614.6,4454.0 1616.2,4451.5 1617.8,4452.8 1619.4,4456.9 1621.0,4460.2 1622.6,4457.6 1624.2,4458.8 1625.8,4456.6 1627.4,4453.7 1629.0,4456.3 1630.6,4460.1 1632.2,4462.3 1633.8,4460.3 1635.4,4456.6 1637.0,4457.2 1638.6,4463.0 1640.2,4464.4 1641.8,4466.6 1643.4,4467.1 1645.0,4462.0 1646.6,4465.0 1648.2,4463.9 1649.8,4462.4 1651.4,4469.1 1653.0,4467.8 1654.6,4470.2 1656.2,4468.1 1657.8,4463.4 1659.4,4467.3 1661.0,4471.0 1662.6,4467.8 1664.2,4469.5 1665.8,4471.9 1667.4,4472.7 1669.0,4477.2 1670.6,4473.3 1672.2,4477.5 1673.8,4475.9 1675.4,4476.7 1677.0,4473.3 1678.6,4478.9 1680.2,4482.2 1681.8,4480.3 1683.4,4485.9 1685.0,4491.2 1686.6,4484.8 1688.2,4486.6 1689.8,4487.2 1691.4,4490.1 1693.0,4491.8 1694.6,4490.6 1696.2,4488.6 1697.8,4494.6 1699.4,4493.3 1701.0,4492.6 1702.6,4496.9 1704.2,4495.9 1705.8,4492.3 1707.4,4497.4 1709.0,4501.3 1710.6,4501.7 1712.2,4503.0 1713.8,4503.5 1715.4,4501.3 1717.0,4504.8 1718.6,4507.7 1720.2,4507.1 1721.8,4508.6 1723.4,4508.7 1725.0,4511.9 1726.6,4512.4 1728.2,4512.0 1729.8,4509.3 1731.4,4511.3 1733.0,4515.3 1734.6,4515.6 1736.2,4514.6 1737.8,4517.4 1739.4,4515.5 1741.0,4517.2 1742.6,4518.6 1744.2,4516.5 1745.8,4517.2 1747.4,4518.5 1749.0,4519.5 1750.6,4519.3 1752.2,4522.9 1753.8,4522.5 1755.4,4523.3 1757.0,4523.1 1758.6,4523.4 1760.2,4525.6 1761.8,4523.6 1763.4,4522.0 1765.0,4524.3 1766.6,4524.9 1768.2,4524.6 1769.8,4521.4 1771.4,4525.0 1773.0,4526.2 1774.6,4527.7 1776.2,4529.2 1777.8,4526.1 1779.4,4526.5 1781.0,4531.7 1782.6,4530.3 1784.2,4531.2 1785.8,4529.0 1787.4,4529.9 1789.0,4530.0 1790.6,4531.3 1792.2,4529.1 1793.8,4527.9 1795.4,4530.7 1797.0,4528.1 1798.6,4526.7 1800.2,4528.7 1801.8,4526.5 1803.4,4528.9 1805.0,4532.3 1806.6,4529.4 1808.2,4532.8 1809.8,4531.5 1811.4,4531.8 1813.0,4533.1 1814.6,4531.7 1816.2,4530.3 1817.8,4529.4 1819.4,4530.3 1821.0,4528.2 1822.6,4526.9 1824.2,4525.5 1825.8,4526.7 1827.4,4531.6 1829.0,4531.5 1830.6,4531.4 1832.2,4530.6 1833.8,4527.9 1835.4,4531.0 1837.0,4529.5 1838.6,4527.7 1840.2,4529.3 1841.8,4527.9 1843.4,4528.9 1845.0,4531.9 1846.6,4532.1 1848.2,4528.0 1849.8,4527.7 1851.4,4529.4 1853.0,4528.7 1854.6,4530.1 1856.2,4529.6 1857.8,4529.9 1859.4,4530.7 1861.0,4529.3 1862.6,4530.2 1864.2,4533.5 1865.8,4532.2 1867.4,4530.8 1869.0,4529.8 1870.6,4530.4 1872.2,4529.9 1873.8,4529.6 1875.4,4526.9 1877.0,4531.1 1878.6,4531.4 1880.2,4528.1" fill="none" stroke="#0000ff" stroke-width="5.2" stroke-linejoin="round" />
<polyline points="246.6,4479.3 248.2,4483.2 249.8,4479.9 251.4,4482.4 253.0,4478.0 254.6,4471.2 256.2,4472.8 257.8,4468.4 259.4,4477.0 261.0,4471.6 262.6,4463.6 264.2,4471.1 265.8,4470.9 267.4,4473.8 269.0,4474.0 270.6,4478.5 272.2,4478.4 273.8,4468.6 275.4,4457.2 277.0,4458.7 278.6,4457.7 280.2,4466.3 281.8,4458.7 283.4,4455.0 285.0,4461.1 286.6,4447.7 288.2,4456.9 289.8,4460.2 291.4,4461.2 293.0,4462.2 294.6,4456.3 296.2,4456.8 297.8,4451.1 299.4,4449.0 301.0,4454.0 302.6,4450.5 304.2,4442.4 305.8,4450.7 307.4,4451.8 309.0,4452.7 310.6,4464.9 312.2,4458.0 313.8,4450.0 315.4,4449.2 317.0,4454.7 318.6,4442.6 320.2,4453.3 321.8,4457.0 323.4,4451.0 325.0,4447.0 326.6,4438.9 328.2,4447.5 329.8,4449.0 331.4,4453.6 333.0,4442.4 334.6,4437.0 336.2,4445.7 337.8,4438.2 339.4,4441.6 341.0,4440.6 342.6,4444.5 344.2,4451.9 345.8,4438.7 347.4,4435.7 349.0,4434.9 350.6,4440.7 352.2,4436.5 353.8,4436.0 355.4,4429.8 357.0,4434.4 358.6,4443.2 360.2,4437.8 361.8,4433.0 363.4,4434.1 365.0,4439.1 366.6,4428.9 368.2,4430.3 369.8,4437.5 371.4,4428.7 373.0,4421.3 374.6,4421.6 376.2,4419.4 377.8,4420.7 379.4,4414.8 381.0,4420.1 382.6,4428.3 384.2,4413.0 385.8,4415.6 387.4,4407.5 389.0,4419.0 390.6,4416.4 392.2,4399.1 393.8,4396.6 395.4,4397.9 397.0,4388.0 398.6,4405.9 400.2,4402.8 401.8,4399.5 403.4,4393.0 405.0,4396.8 406.6,4400.8 408.2,4407.3 409.8,4394.5 411.4,4385.9 413.0,4386.8 414.6,4387.8 416.2,4385.1 417.8,4384.9 419.4,4382.1 421.0,4384.4 422.6,4387.0 424.2,4388.9 425.8,4380.5 427.4,4380.0 429.0,4379.2 430.6,4379.3 432.2,4381.0 433.8,4382.9 435.4,4379.8 437.0,4375.9 438.6,4369.0 440.2,4373.1 441.8,4365.4 443.4,4361.5 445.0,4366.6 446.6,4376.8 448.2,4377.2 449.8,4378.2 451.4,4384.3 453.0,4378.4 454.6,4371.6 456.2,4365.4 457.8,4377.4 459.4,4371.9 461.0,4381.6 462.6,4374.6 464.2,4378.7 465.8,4379.8 467.4,4373.3 469.0,4381.0 470.6,4378.9 472.2,4370.2 473.8,4372.1 475.4,4383.8 477.0,4384.8 478.6,4383.2 480.2,4387.2 481.8,4389.1 483.4,4391.6 485.0,4395.2 486.6,4388.5 488.2,4384.4 489.8,4391.8 491.4,4391.0 493.0,4392.2 494.6,4396.7 496.2,4395.2 497.8,4386.7 499.4,4381.2 501.0,4387.6 502.6,4403.2 504.2,4403.8 505.8,4397.7 507.4,4395.4 509.0,4387.6 510.6,4390.1 512.2,4398.5 513.8,4396.3 515.4,4393.0 517.0,4394.2 518.6,4406.2 520.2,4404.4 521.8,4404.1 523.4,4405.4 525.0,4414.2 526.6,4419.6 528.2,4401.2 529.8,4400.5 531.4,4402.5 533.0,4399.7 534.6,4408.8 536.2,4406.9 537.8,4408.8 539.4,4416.1 541.0,4413.7 542.6,4419.6 544.2,4413.7 545.8,4414.1 547.4,4412.1 549.0,4415.0 550.6,4414.2 552.2,4408.4 553.8,4415.0 555.4,4414.6 557.0,4415.8 558.6,4420.6 560.2,4421.6 561.8,4423.3 563.4,4425.3 565.0,4411.5 566.6,4423.6 568.2,4417.6 569.8,4419.0 571.4,4420.8 573.0,4420.3 574.6,4423.6 576.2,4425.1 577.8,4434.3 579.4,4433.4 581.0,4432.1 582.6,4430.9 584.2,4443.0 585.8,4425.0 587.4,4423.0 589.0,4428.6 590.6,4423.6 592.2,4426.0 593.8,4434.8 595.4,4439.3 597.0,4439.6 598.6,4444.1 600.2,4441.1 601.8,4442.6 603.4,4443.3 605.0,4452.3 606.6,4450.2 608.2,4442.1 609.8,4445.2 611.4,4443.3 613.0,4434.6 614.6,4438.7 616.2,4445.2 617.8,4444.2 619.4,4440.9 621.0,4446.4 622.6,4443.1 624.2,4436.9 625.8,4433.5 627.4,4444.7 629.0,4443.2 630.6,4432.4 632.2,4435.1 633.8,4436.6 635.4,4434.3 637.0,4437.7 638.6,4434.1 640.2,4441.2 641.8,4443.6 643.4,4447.2 645.0,4447.5 646.6,4444.6 648.2,4442.7 649.8,4449.5 651.4,4439.9 653.0,4436.1 654.6,4437.3 656.2,4436.1 657.8,4440.0 659.4,4439.4 661.0,4444.4 662.6,4440.3 664.2,4435.1 665.8,4433.9 667.4,4434.7 669.0,4440.8 670.6,4442.3 672.2,4437.3 673.8,4429.5 675.4,4423.6 677.0,4423.2 678.6,4427.1 680.2,4429.6 681.8,4431.6 683.4,4440.0 685.0,4429.0 686.6,4423.1 688.2,4424.4 689.8,4420.4 691.4,4414.8 693.0,4427.8 694.6,4431.3 696.2,4427.7 697.8,4416.6 699.4,4423.4 701.0,4417.4 702.6,4427.8 704.2,4421.7 705.8,4426.9 707.4,4421.7 709.0,4409.9 710.6,4414.7 712.2,4422.3 713.8,4426.5 715.4,4419.1 717.0,4413.5 718.6,4413.1 720.2,4415.6 721.8,4415.1 723.4,4410.4 725.0,4410.2 726.6,4420.2 728.2,4407.6 729.8,4405.4 731.4,4404.1 733.0,4407.4 734.6,4406.4 736.2,4414.7 737.8,4407.6 739.4,4401.0 741.0,4406.1 742.6,4405.2 744.2,4402.7 745.8,4394.1 747.4,4396.1 749.0,4402.3 750.6,4394.3 752.2,4392.7 753.8,4398.9 755.4,4402.2 757.0,4395.1 758.6,4397.8 760.2,4389.7 761.8,4388.7 763.4,4385.9 765.0,4383.8 766.6,4386.5 768.2,4385.3 769.8,4383.2 771.4,4379.2 773.0,4376.7 774.6,4377.5 776.2,4376.0 777.8,4377.6 779.4,4370.1 781.0,4355.4 782.6,4359.9 784.2,4368.6 785.8,4364.7 787.4,4369.8 789.0,4368.7 790.6,4357.9 792.2,4356.6 793.8,4358.7 795.4,4344.4 797.0,4343.2 798.6,4341.2 800.2,4340.4 801.8,4335.1 803.4,4322.1 805.0,4328.9 806.6,4333.9 808.2,4331.3 809.8,4320.1 811.4,4323.9 813.0,4325.5 814.6,4317.4 816.2,4313.1 817.8,4319.6 819.4,4311.2 821.0,4311.9 822.6,4304.7 824.2,4301.5 825.8,4296.6 827.4,4312.1 829.0,4304.3 830.6,4297.7 832.2,4289.7 833.8,4285.0 835.4,4279.0 837.0,4283.9 838.6,4285.5 840.2,4284.0 841.8,4281.8 843.4,4281.4 845.0,4258.9 846.6,4255.3 848.2,4262.8 849.8,4270.9 851.4,4272.3 853.0,4273.4 854.6,4255.8 856.2,4247.4 857.8,4256.1 859.4,4259.5 861.0,4249.6 862.6,4243.4 864.2,4249.8 865.8,4246.4 867.4,4228.5 869.0,4231.2 870.6,4237.9 872.2,4226.5 873.8,4226.7 875.4,4225.0 877.0,4216.6 878.6,4210.3 880.2,4216.8 881.8,4205.4 883.4,4205.4 885.0,4209.1 886.6,4191.6 888.2,4189.7 889.8,4200.5 891.4,4192.1 893.0,4183.1 894.6,4186.6 896.2,4178.8 897.8,4179.7 899.4,4179.7 901.0,4177.0 902.6,4167.0 904.2,4164.6 905.8,4156.9 907.4,4160.6 909.0,4162.5 910.6,4161.0 912.2,4154.7 913.8,4145.3 915.4,4142.1 917.0,4153.3 918.6,4148.7 920.2,4141.7 921.8,4145.2 923.4,4149.3 925.0,4141.8 926.6,4123.2 928.2,4116.2 929.8,4117.6 931.4,4110.2 933.0,4108.9 934.6,4111.2 936.2,4099.3 937.8,4102.1 939.4,4101.4 941.0,4097.7 942.6,4090.1 944.2,4084.8 945.8,4090.3 947.4,4094.1 949.0,4080.6 950.6,4066.8 952.2,4066.4 953.8,4081.8 955.4,4076.7 957.0,4076.0 958.6,4071.2 960.2,4064.6 961.8,4064.5 963.4,4058.1 965.0,4049.8 966.6,4052.1 968.2,4042.6 969.8,4044.3 971.4,4032.6 973.0,4025.9 974.6,4023.6 976.2,4024.1 977.8,4020.9 979.4,4019.7 981.0,4017.6 982.6,4017.5 984.2,3999.9 985.8,4002.6 987.4,4001.3 989.0,3992.2 990.6,3991.4 992.2,3989.6 993.8,3988.2 995.4,3982.7 997.0,3974.7 998.6,3966.1 1000.2,3965.4 1001.8,3970.1 1003.4,3971.7 1005.0,3966.4 1006.6,3959.2 1008.2,3951.1 1009.8,3955.2 1011.4,3955.5 1013.0,3953.8 1014.6,3928.0 1016.2,3926.8 1017.8,3927.3 1019.4,3929.3 1021.0,3922.5 1022.6,3914.5 1024.2,3910.3 1025.8,3909.0 1027.4,3909.4 1029.0,3911.6 1030.6,3900.0 1032.2,3888.6 1033.8,3888.1 1035.4,3889.8 1037.0,3883.0 1038.6,3876.8 1040.2,3863.6 1041.8,3861.2 1043.4,3851.0 1045.0,3855.2 1046.6,3857.7 1048.2,3857.2 1049.8,3855.9 1051.4,3853.3 1053.0,3848.9 1054.6,3864.0 1056.2,3857.8 1057.8,3849.9 1059.4,3852.2 1061.0,3853.5 1062.6,3853.5 1064.2,3853.4 1065.8,3851.5 1067.4,3847.5 1069.0,3853.0 1070.6,3842.7 1072.2,3850.0 1073.8,3848.6 1075.4,3847.6 1077.0,3844.1 1078.6,3855.6 1080.2,3860.3 1081.8,3855.3 1083.4,3855.9 1085.0,3858.1 1086.6,3864.5 1088.2,3864.3 1089.8,3869.6 1091.4,3873.3 1093.0,3876.3 1094.6,3877.3 1096.2,3879.8 1097.8,3886.3 1099.4,3897.2 1101.0,3896.1 1102.6,3897.5 1104.2,3908.1 1105.8,3912.4 1107.4,3920.0 1109.0,3930.4 1110.6,3928.5 1112.2,3934.8 1113.8,3939.4 1115.4,3943.3 1117.0,3951.3 1118.6,3952.7 1120.2,3958.7 1121.8,3960.2 1123.4,3965.7 1125.0,3974.1 1126.6,3981.6 1128.2,3984.0 1129.8,3998.2 1131.4,4003.2 1133.0,4001.5 1134.6,4000.7 1136.2,4005.5 1137.8,4016.2 1139.4,4024.3 1141.0,4031.4 1142.6,4028.8 1144.2,4026.4 1145.8,4038.8 1147.4,4046.2 1149.0,4046.6 1150.6,4049.8 1152.2,4055.3 1153.8,4058.0 1155.4,4068.4 1157.0,4071.4 1158.6,4077.1 1160.2,4077.0 1161.8,4081.7 1163.4,4087.7 1165.0,4089.4 1166.6,4095.6 1168.2,4102.8 1169.8,4101.7 1171.4,4103.2 1173.0,4103.0 1174.6,4111.6 1176.2,4109.3 1177.8,4108.9 1179.4,4116.6 1181.0,4121.8 1182.6,4118.2 1184.2,4120.4 1185.8,4125.7 1187.4,4122.9 1189.0,4127.0 1190.6,4124.8 1192.2,4136.3 1193.8,4140.9 1195.4,4140.2 1197.0,4143.5 1198.6,4145.4 1200.2,4147.9 1201.8,4137.2 1203.4,4142.8 1205.0,4152.1 1206.6,4151.1 1208.2,4153.7 1209.8,4158.7 1211.4,4155.3 1213.0,4149.3 1214.6,4153.0 1216.2,4157.3 1217.8,4157.9 1219.4,4165.2 1221.0,4163.4 1222.6,4161.3 1224.2,4163.2 1225.8,4150.7 1227.4,4151.4 1229.0,4154.6 1230.6,4154.6 1232.2,4150.7 1233.8,4145.2 1235.4,4140.9 1237.0,4142.9 1238.6,4144.0 1240.2,4140.3 1241.8,4138.3 1243.4,4136.5 1245.0,4135.0 1246.6,4138.5 1248.2,4140.7 1249.8,4140.9 1251.4,4131.6 1253.0,4136.2 1254.6,4135.8 1256.2,4134.7 1257.8,4140.8 1259.4,4131.1 1261.0,4131.9 1262.6,4133.7 1264.2,4134.0 1265.8,4135.7 1267.4,4136.1 1269.0,4136.4 1270.6,4132.9 1272.2,4134.1 1273.8,4137.6 1275.4,4133.8 1277.0,4134.5 1278.6,4134.5 1280.2,4129.4 1281.8,4132.2 1283.4,4138.2 1285.0,4134.2 1286.6,4136.9 1288.2,4137.4 1289.8,4133.8 1291.4,4147.0 1293.0,4148.5 1294.6,4150.0 1296.2,4143.0 1297.8,4142.5 1299.4,4146.3 1301.0,4153.1 1302.6,4155.9 1304.2,4153.5 1305.8,4160.0 1307.4,4163.1 1309.0,4163.7 1310.6,4169.2 1312.2,4174.2 1313.8,4173.1 1315.4,4167.9 1317.0,4180.7 1318.6,4179.2 1320.2,4186.9 1321.8,4187.1 1323.4,4188.6 1325.0,4187.6 1326.6,4191.0 1328.2,4196.5 1329.8,4198.2 1331.4,4198.5 1333.0,4200.3 1334.6,4206.2 1336.2,4211.2 1337.8,4205.9 1339.4,4206.3 1341.0,4210.8 1342.6,4215.6 1344.2,4218.5 1345.8,4222.3 1347.4,4225.5 1349.0,4228.8 1350.6,4235.2 1352.2,4236.5 1353.8,4240.0 1355.4,4241.9 1357.0,4242.5 1358.6,4242.1 1360.2,4246.0 1361.8,4248.6 1363.4,4253.9 1365.0,4255.1 1366.6,4255.9 1368.2,4257.7 1369.8,4259.9 1371.4,4266.9 1373.0,4274.7 1374.6,4269.8 1376.2,4267.3 1377.8,4267.7 1379.4,4277.7 1381.0,4276.9 1382.6,4276.7 1384.2,4279.0 1385.8,4286.2 1387.4,4286.4 1389.0,4284.3 1390.6,4289.9 1392.2,4294.7 1393.8,4290.3 1395.4,4295.5 1397.0,4301.1 1398.6,4300.9 1400.2,4301.1 1401.8,4305.7 1403.4,4304.4 1405.0,4307.0 1406.6,4310.2 1408.2,4309.1 1409.8,4312.4 1411.4,4312.5 1413.0,4311.6 1414.6,4312.4 1416.2,4314.9 1417.8,4320.5 1419.4,4321.5 1421.0,4327.0 1422.6,4327.8 1424.2,4324.6 1425.8,4331.3 1427.4,4330.9 1429.0,4334.4 1430.6,4338.6 1432.2,4337.7 1433.8,4348.0 1435.4,4343.5 1437.0,4345.7 1438.6,4348.9 1440.2,4351.2 1441.8,4355.0 1443.4,4355.3 1445.0,4353.0 1446.6,4359.5 1448.2,4364.1 1449.8,4360.0 1451.4,4368.5 1453.0,4368.0 1454.6,4367.0 1456.2,4368.2 1457.8,4372.1 1459.4,4377.2 1461.0,4371.3 1462.6,4374.8 1464.2,4374.8 1465.8,4381.7 1467.4,4386.0 1469.0,4387.8 1470.6,4387.5 1472.2,4389.3 1473.8,4389.1 1475.4,4395.3 1477.0,4391.4 1478.6,4397.9 1480.2,4394.4 1481.8,4398.9 1483.4,4403.4 1485.0,4403.9 1486.6,4400.6 1488.2,4404.9 1489.8,4409.6 1491.4,4406.7 1493.0,4407.7 1494.6,4417.4 1496.2,4420.2 1497.8,4418.5 1499.4,4415.8 1501.0,4420.1 1502.6,4419.6 1504.2,4424.1 1505.8,4423.8 1507.4,4429.9 1509.0,4426.6 1510.6,4433.8 1512.2,4435.6 1513.8,4438.0 1515.4,4438.4 1517.0,4442.2 1518.6,4442.5 1520.2,4442.3 1521.8,4444.8 1523.4,4447.9 1525.0,4449.3 1526.6,4450.9 1528.2,4456.6 1529.8,4455.4 1531.4,4456.9 1533.0,4456.9 1534.6,4459.4 1536.2,4458.2 1537.8,4455.9 1539.4,4462.3 1541.0,4467.7 1542.6,4465.8 1544.2,4462.5 1545.8,4462.2 1547.4,4468.5 1549.0,4468.2 1550.6,4471.9 1552.2,4472.0 1553.8,4468.9 1555.4,4470.3 1557.0,4473.0 1558.6,4469.7 1560.2,4471.1 1561.8,4474.4 1563.4,4477.2 1565.0,4479.6 1566.6,4482.2 1568.2,4484.4 1569.8,4486.6 1571.4,4490.5 1573.0,4493.4 1574.6,4493.4 1576.2,4495.8 1577.8,4499.7 1579.4,4501.3 1581.0,4499.8 1582.6,4502.7 1584.2,4503.6 1585.8,4506.2 1587.4,4504.2 1589.0,4500.3 1590.6,4504.2 1592.2,4508.0 1593.8,4511.3 1595.4,4513.8 1597.0,4512.7 1598.6,4513.2 1600.2,4511.5 1601.8,4512.9 1603.4,4515.4 1605.0,4517.0 1606.6,4519.3 1608.2,4519.4 1609.8,4520.7 1611.4,4517.5 1613.0,4520.6 1614.6,4526.2 1616.2,4522.3 1617.8,4525.1 1619.4,4525.5 1621.0,4525.8 1622.6,4529.5 1624.2,4532.2 1625.8,4530.7 1627.4,4533.3 1629.0,4530.7 1630.6,4533.3 1632.2,4536.2 1633.8,4534.7 1635.4,4537.2 1637.0,4538.1 1638.6,4539.6 1640.2,4543.5 1641.8,4540.1 1643.4,4540.0 1645.0,4541.5 1646.6,4544.3 1648.2,4547.0 1649.8,4545.9 1651.4,4545.6 1653.0,4548.8 1654.6,4550.0 1656.2,4547.9 1657.8,4551.6 1659.4,4550.9 1661.0,4555.3 1662.6,4552.7 1664.2,4552.7 1665.8,4557.1 1667.4,4557.8 1669.0,4559.3 1670.6,4561.2 1672.2,4560.6 1673.8,4561.5 1675.4,4563.9 1677.0,4563.5 1678.6,4563.8 1680.2,4564.4 1681.8,4565.3 1683.4,4569.3 1685.0,4569.6 1686.6,4569.7 1688.2,4569.8 1689.8,4570.2 1691.4,4569.7 1693.0,4574.9 1694.6,4579.1 1696.2,4577.6 1697.8,4579.0 1699.4,4578.4 1701.0,4578.3 1702.6,4578.7 1704.2,4582.3 1705.8,4582.9 1707.4,4584.4 1709.0,4584.6 1710.6,4583.5 1712.2,4586.9 1713.8,4589.4 1715.4,4589.9 1717.0,4592.0 1718.6,4592.1 1720.2,4590.3 1721.8,4592.1 1723.4,4591.3 1725.0,4593.2 1726.6,4596.2 1728.2,4598.4 1729.8,4598.6 1731.4,4597.9 1733.0,4598.4 1734.6,4597.9 1736.2,4601.7 1737.8,4599.9 1739.4,4600.5 1741.0,4604.2 1742.6,4603.8 1744.2,4602.7 1745.8,4603.2 1747.4,4602.8 1749.0,4603.1 1750.6,4607.0 1752.2,4608.8 1753.8,4603.1 1755.4,4604.8 1757.0,4607.9 1758.6,4610.0 1760.2,4608.2 1761.8,4608.8 1763.4,4609.9 1765.0,4610.8 1766.6,4612.4 1768.2,4609.1 1769.8,4611.8 1771.4,4611.4 1773.0,4609.8 1774.6,4610.0 1776.2,4609.8 1777.8,4610.7 1779.4,4612.3 1781.0,4612.6 1782.6,4611.0 1784.2,4609.3 1785.8,4614.7 1787.4,4611.7 1789.0,4612.9 1790.6,4615.6 1792.2,4613.8 1793.8,4613.1 1795.4,4612.9 1797.0,4614.0 1798.6,4613.7 1800.2,4612.7 1801.8,4612.2 1803.4,4612.8 1805.0,4611.3 1806.6,4612.8 1808.2,4616.1 1809.8,4616.0 1811.4,4614.1 1813.0,4614.7 1814.6,4615.6 1816.2,4614.1 1817.8,4613.4 1819.4,4614.0 1821.0,4616.6 1822.6,4617.1 1824.2,4616.9 1825.8,4616.4 1827.4,4615.7 1829.0,4614.8 1830.6,4615.7 1832.2,4616.0 1833.8,4618.8 1835.4,4618.2 1837.0,4615.9 1838.6,4616.2 1840.2,4619.8 1841.8,4616.8 1843.4,4614.3 1845.0,4614.4 1846.6,4615.9 1848.2,4614.9 1849.8,4614.8 1851.4,4617.1 1853.0,4615.1 1854.6,4613.8 1856.2,4615.4 1857.8,4614.9 1859.4,4615.3 1861.0,4615.5 1862.6,4615.5 1864.2,4616.0 1865.8,4612.5 1867.4,4615.3 1869.0,4615.1 1870.6,4612.9 1872.2,4612.7 1873.8,4614.7 1875.4,4615.9 1877.0,4614.4 1878.6,4613.8 1880.2,4614.7" fill="none" stroke="#00ffff" stroke-width="5.2" stroke-linejoin="round" />
<polyline points="246.6,4563.1 248.2,4551.1 249.8,4548.2 251.4,4544.0 253.0,4546.7 254.6,4559.4 256.2,4555.0 257.8,4552.1 259.4,4546.2 261.0,4541.3 262.6,4542.5 264.2,4545.6 265.8,4547.4 267.4,4546.0 269.0,4537.2 270.6,4542.2 272.2,4550.3 273.8,4546.4 275.4,4539.9 277.0,4542.6 278.6,4541.9 280.2,4538.9 281.8,4535.9 283.4,4536.6 285.0,4539.7 286.6,4532.1 288.2,4534.5 289.8,4534.3 291.4,4539.9 293.0,4533.4 294.6,4530.0 296.2,4530.9 297.8,4535.9 299.4,4523.4 301.0,4516.8 302.6,4522.6 304.2,4531.4 305.8,4525.9 307.4,4526.8 309.0,4530.5 310.6,4526.9 312.2,4529.9 313.8,4532.4 315.4,4527.8 317.0,4516.5 318.6,4527.4 320.2,4525.8 321.8,4522.1 323.4,4527.8 325.0,4519.5 326.6,4529.8 328.2,4519.0 329.8,4519.1 331.4,4510.3 333.0,4514.3 334.6,4510.3 336.2,4504.3 337.8,4510.7 339.4,4509.5 341.0,4502.3 342.6,4511.6 344.2,4516.1 345.8,4500.0 347.4,4506.1 349.0,4519.9 350.6,4510.9 352.2,4518.8 353.8,4506.4 355.4,4495.7 357.0,4493.5 358.6,4492.9 360.2,4494.1 361.8,4504.3 363.4,4495.4 365.0,4500.1 366.6,4494.9 368.2,4491.0 369.8,4499.4 371.4,4491.8 373.0,4495.6 374.6,4496.0 376.2,4486.4 377.8,4484.9 379.4,4489.2 381.0,4488.6 382.6,4484.3 384.2,4486.0 385.8,4490.3 387.4,4485.3 389.0,4477.1 390.6,4476.6 392.2,4477.4 393.8,4484.1 395.4,4474.3 397.0,4475.0 398.6,4463.2 400.2,4461.5 401.8,4464.5 403.4,4462.7 405.0,4468.9 406.6,4467.3 408.2,4469.5 409.8,4468.3 411.4,4458.2 413.0,4452.7 414.6,4454.1 416.2,4446.0 417.8,4452.9 419.4,4449.2 421.0,4448.8 422.6,4460.4 424.2,4450.9 425.8,4447.2 427.4,4440.3 429.0,4443.9 430.6,4453.3 432.2,4452.6 433.8,4461.1 435.4,4452.8 437.0,4441.5 438.6,4435.8 440.2,4433.5 441.8,4442.3 443.4,4452.4 445.0,4450.0 446.6,4441.5 448.2,4446.5 449.8,4447.0 451.4,4448.8 453.0,4448.7 454.6,4452.8 456.2,4448.6 457.8,4444.6 459.4,4444.4 461.0,4445.0 462.6,4444.2 464.2,4443.8 465.8,4440.5 467.4,4437.3 469.0,4449.7 470.6,4446.1 472.2,4442.1 473.8,4453.2 475.4,4445.0 477.0,4434.3 478.6,4431.1 480.2,4436.0 481.8,4432.8 483.4,4434.5 485.0,4436.6 486.6,4440.7 488.2,4442.5 489.8,4447.0 491.4,4455.5 493.0,4451.3 494.6,4447.2 496.2,4450.7 497.8,4451.6 499.4,4439.4 501.0,4445.7 502.6,4460.3 504.2,4464.7 505.8,4453.6 507.4,4452.4 509.0,4449.2 510.6,4451.4 512.2,4447.8 513.8,4462.5 515.4,4463.7 517.0,4459.2 518.6,4454.2 520.2,4455.8 521.8,4452.4 523.4,4459.9 525.0,4460.5 526.6,4463.2 528.2,4462.5 529.8,4462.9 531.4,4462.1 533.0,4472.9 534.6,4469.6 536.2,4471.9 537.8,4470.0 539.4,4469.6 541.0,4466.5 542.6,4468.0 544.2,4469.9 545.8,4470.6 547.4,4478.4 549.0,4478.4 550.6,4470.4 552.2,4471.4 553.8,4481.7 555.4,4483.9 557.0,4471.9 558.6,4471.6 560.2,4479.9 561.8,4481.2 563.4,4476.0 565.0,4473.9 566.6,4467.8 568.2,4472.6 569.8,4474.9 571.4,4483.3 573.0,4480.6 574.6,4483.0 576.2,4481.2 577.8,4484.7 579.4,4492.4 581.0,4481.3 582.6,4492.3 584.2,4482.7 585.8,4487.0 587.4,4494.2 589.0,4487.5 590.6,4481.2 592.2,4482.7 593.8,4480.9 595.4,4489.0 597.0,4492.3 598.6,4497.9 600.2,4484.9 601.8,4486.1 603.4,4484.5 605.0,4490.5 606.6,4480.3 608.2,4487.3 609.8,4484.2 611.4,4494.2 613.0,4493.3 614.6,4490.4 616.2,4496.2 617.8,4492.8 619.4,4502.5 621.0,4499.9 622.6,4493.9 624.2,4493.3 625.8,4488.9 627.4,4491.9 629.0,4488.5 630.6,4490.7 632.2,4494.6 633.8,4489.0 635.4,4491.7 637.0,4494.8 638.6,4492.5 640.2,4495.4 641.8,4492.0 643.4,4496.2 645.0,4501.5 646.6,4493.1 648.2,4489.3 649.8,4487.7 651.4,4488.3 653.0,4487.4 654.6,4488.2 656.2,4490.0 657.8,4494.8 659.4,4503.5 661.0,4502.2 662.6,4502.7 664.2,4502.1 665.8,4493.7 667.4,4499.2 669.0,4490.2 670.6,4495.3 672.2,4494.8 673.8,4498.9 675.4,4501.4 677.0,4504.7 678.6,4506.2 680.2,4496.9 681.8,4493.5 683.4,4490.1 685.0,4497.6 686.6,4502.8 688.2,4492.2 689.8,4491.5 691.4,4480.8 693.0,4488.4 694.6,4496.0 696.2,4487.1 697.8,4482.5 699.4,4487.4 701.0,4490.3 702.6,4491.3 704.2,4487.5 705.8,4488.0 707.4,4488.1 709.0,4491.3 710.6,4485.6 712.2,4484.6 713.8,4484.5 715.4,4486.4 717.0,4489.9 718.6,4471.2 720.2,4477.8 721.8,4480.7 723.4,4487.5 725.0,4485.3 726.6,4471.9 728.2,4476.1 729.8,4472.6 731.4,4484.9 733.0,4477.9 734.6,4481.6 736.2,4472.6 737.8,4471.5 739.4,4473.5 741.0,4488.0 742.6,4483.7 744.2,4468.3 745.8,4466.7 747.4,4461.6 749.0,4464.8 750.6,4468.1 752.2,4469.3 753.8,4455.5 755.4,4455.2 757.0,4461.7 758.6,4448.3 760.2,4444.1 761.8,4443.0 763.4,4446.0 765.0,4440.7 766.6,4428.8 768.2,4431.1 769.8,4432.5 771.4,4437.2 773.0,4431.8 774.6,4438.5 776.2,4441.4 777.8,4440.4 779.4,4425.9 781.0,4428.5 782.6,4420.6 784.2,4416.8 785.8,4420.5 787.4,4409.9 789.0,4414.2 790.6,4411.4 792.2,4405.8 793.8,4410.7 795.4,4411.7 797.0,4414.1 798.6,4409.0 800.2,4395.7 801.8,4397.0 803.4,4405.4 805.0,4396.4 806.6,4397.6 808.2,4403.0 809.8,4397.0 811.4,4395.7 813.0,4378.5 814.6,4385.7 816.2,4386.8 817.8,4383.1 819.4,4382.3 821.0,4371.3 822.6,4368.9 824.2,4370.5 825.8,4376.3 827.4,4364.9 829.0,4369.0 830.6,4368.6 832.2,4363.2 833.8,4363.6 835.4,4361.6 837.0,4362.3 838.6,4351.9 840.2,4351.6 841.8,4345.8 843.4,4355.8 845.0,4354.8 846.6,4351.6 848.2,4336.8 849.8,4336.4 851.4,4349.9 853.0,4354.9 854.6,4340.0 856.2,4325.3 857.8,4322.1 859.4,4326.1 861.0,4326.5 862.6,4326.8 864.2,4326.9 865.8,4328.2 867.4,4328.8 869.0,4321.8 870.6,4304.7 872.2,4306.4 873.8,4310.7 875.4,4299.3 877.0,4295.8 878.6,4293.8 880.2,4299.5 881.8,4295.7 883.4,4287.7 885.0,4279.2 886.6,4278.4 888.2,4267.1 889.8,4257.7 891.4,4260.0 893.0,4268.1 894.6,4256.5 896.2,4258.0 897.8,4249.1 899.4,4253.4 901.0,4242.1 902.6,4246.0 904.2,4251.7 905.8,4246.5 907.4,4240.6 909.0,4237.4 910.6,4229.2 912.2,4223.4 913.8,4223.1 915.4,4219.3 917.0,4219.7 918.6,4217.8 920.2,4210.9 921.8,4203.0 923.4,4198.9 925.0,4188.8 926.6,4187.8 928.2,4177.2 929.8,4190.0 931.4,4189.5 933.0,4173.8 934.6,4168.7 936.2,4166.5 937.8,4162.3 939.4,4156.8 941.0,4153.8 942.6,4152.0 944.2,4147.7 945.8,4144.5 947.4,4149.2 949.0,4136.9 950.6,4132.0 952.2,4130.2 953.8,4129.8 955.4,4128.9 957.0,4118.5 958.6,4111.3 960.2,4115.0 961.8,4105.2 963.4,4103.9 965.0,4105.3 966.6,4106.0 968.2,4099.0 969.8,4094.7 971.4,4081.1 973.0,4084.7 974.6,4070.6 976.2,4065.8 977.8,4065.1 979.4,4053.3 981.0,4052.5 982.6,4061.1 984.2,4064.3 985.8,4049.8 987.4,4042.6 989.0,4043.2 990.6,4039.0 992.2,4036.2 993.8,4028.5 995.4,4026.8 997.0,4016.6 998.6,4020.1 1000.2,4020.2 1001.8,4013.7 1003.4,4010.2 1005.0,4003.3 1006.6,4005.8 1008.2,3993.4 1009.8,3991.6 1011.4,3984.5 1013.0,3986.7 1014.6,3981.0 1016.2,3978.6 1017.8,3978.9 1019.4,3973.6 1021.0,3963.1 1022.6,3951.9 1024.2,3947.0 1025.8,3949.9 1027.4,3944.2 1029.0,3937.4 1030.6,3934.4 1032.2,3932.6 1033.8,3937.0 1035.4,3939.3 1037.0,3930.7 1038.6,3927.3 1040.2,3927.7 1041.8,3929.0 1043.4,3927.8 1045.0,3920.3 1046.6,3920.4 1048.2,3926.1 1049.8,3925.3 1051.4,3929.2 1053.0,3927.1 1054.6,3921.8 1056.2,3916.2 1057.8,3919.7 1059.4,3916.3 1061.0,3921.1 1062.6,3927.9 1064.2,3927.1 1065.8,3925.3 1067.4,3922.1 1069.0,3919.2 1070.6,3924.2 1072.2,3928.8 1073.8,3921.4 1075.4,3927.4 1077.0,3930.7 1078.6,3935.5 1080.2,3937.2 1081.8,3941.1 1083.4,3945.4 1085.0,3945.5 1086.6,3950.2 1088.2,3960.6 1089.8,3958.6 1091.4,3964.6 1093.0,3968.5 1094.6,3972.4 1096.2,3977.3 1097.8,3976.5 1099.4,3982.4 1101.0,3988.4 1102.6,3997.9 1104.2,3997.9 1105.8,4003.0 1107.4,4010.8 1109.0,4013.0 1110.6,4011.4 1112.2,4010.7 1113.8,4020.9 1115.4,4027.8 1117.0,4032.3 1118.6,4035.5 1120.2,4041.3 1121.8,4050.6 1123.4,4049.0 1125.0,4055.6 1126.6,4059.7 1128.2,4065.4 1129.8,4072.6 1131.4,4078.4 1133.0,4087.8 1134.6,4091.8 1136.2,4096.0 1137.8,4093.8 1139.4,4106.8 1141.0,4109.4 1142.6,4117.3 1144.2,4117.6 1145.8,4120.9 1147.4,4127.4 1149.0,4130.4 1150.6,4135.3 1152.2,4143.4 1153.8,4145.0 1155.4,4153.3 1157.0,4151.1 1158.6,4153.3 1160.2,4163.9 1161.8,4166.2 1163.4,4171.2 1165.0,4168.5 1166.6,4174.0 1168.2,4178.5 1169.8,4179.8 1171.4,4181.7 1173.0,4183.1 1174.6,4185.5 1176.2,4191.6 1177.8,4195.8 1179.4,4196.8 1181.0,4197.5 1182.6,4194.7 1184.2,4200.2 1185.8,4199.6 1187.4,4201.5 1189.0,4203.2 1190.6,4208.8 1192.2,4213.4 1193.8,4213.1 1195.4,4208.9 1197.0,4202.4 1198.6,4207.7 1200.2,4204.3 1201.8,4204.3 1203.4,4210.8 1205.0,4210.1 1206.6,4205.2 1208.2,4208.2 1209.8,4215.9 1211.4,4207.1 1213.0,4210.2 1214.6,4204.1 1216.2,4208.7 1217.8,4213.1 1219.4,4204.9 1221.0,4207.9 1222.6,4209.4 1224.2,4213.0 1225.8,4211.4 1227.4,4216.1 1229.0,4216.3 1230.6,4210.0 1232.2,4207.6 1233.8,4205.2 1235.4,4206.2 1237.0,4203.4 1238.6,4203.4 1240.2,4203.0 1241.8,4204.0 1243.4,4209.3 1245.0,4209.0 1246.6,4202.7 1248.2,4203.1 1249.8,4203.7 1251.4,4202.7 1253.0,4198.2 1254.6,4195.9 1256.2,4201.6 1257.8,4200.3 1259.4,4196.7 1261.0,4191.0 1262.6,4198.4 1264.2,4200.6 1265.8,4206.4 1267.4,4204.0 1269.0,4205.7 1270.6,4208.7 1272.2,4207.1 1273.8,4211.6 1275.4,4208.8 1277.0,4206.7 1278.6,4210.5 1280.2,4217.3 1281.8,4215.3 1283.4,4214.2 1285.0,4218.7 1286.6,4209.3 1288.2,4208.0 1289.8,4213.6 1291.4,4218.8 1293.0,4215.8 1294.6,4216.0 1296.2,4223.1 1297.8,4222.5 1299.4,4225.6 1301.0,4225.8 1302.6,4230.7 1304.2,4238.3 1305.8,4236.4 1307.4,4240.2 1309.0,4245.7 1310.6,4248.1 1312.2,4249.4 1313.8,4254.8 1315.4,4253.8 1317.0,4259.7 1318.6,4261.5 1320.2,4266.4 1321.8,4269.1 1323.4,4275.7 1325.0,4280.7 1326.6,4275.2 1328.2,4279.8 1329.8,4279.9 1331.4,4282.9 1333.0,4289.2 1334.6,4292.2 1336.2,4289.0 1337.8,4295.2 1339.4,4297.6 1341.0,4303.0 1342.6,4304.3 1344.2,4308.8 1345.8,4308.4 1347.4,4301.5 1349.0,4304.8 1350.6,4309.9 1352.2,4318.9 1353.8,4320.1 1355.4,4317.6 1357.0,4319.9 1358.6,4325.8 1360.2,4330.5 1361.8,4331.6 1363.4,4338.8 1365.0,4338.8 1366.6,4342.2 1368.2,4343.4 1369.8,4336.9 1371.4,4345.4 1373.0,4344.2 1374.6,4344.8 1376.2,4349.3 1377.8,4352.2 1379.4,4355.8 1381.0,4356.0 1382.6,4352.2 1384.2,4347.6 1385.8,4356.0 1387.4,4356.2 1389.0,4357.5 1390.6,4361.9 1392.2,4368.9 1393.8,4369.4 1395.4,4370.4 1397.0,4371.3 1398.6,4373.0 1400.2,4371.2 1401.8,4372.0 1403.4,4373.2 1405.0,4377.9 1406.6,4380.0 1408.2,4373.4 1409.8,4376.0 1411.4,4379.6 1413.0,4383.0 1414.6,4388.2 1416.2,4387.9 1417.8,4391.0 1419.4,4392.6 1421.0,4393.9 1422.6,4395.5 1424.2,4396.9 1425.8,4395.0 1427.4,4397.5 1429.0,4404.7 1430.6,4406.1 1432.2,4408.0 1433.8,4413.2 1435.4,4410.0 1437.0,4410.2 1438.6,4413.4 1440.2,4419.0 1441.8,4417.9 1443.4,4422.7 1445.0,4422.9 1446.6,4428.0 1448.2,4431.7 1449.8,4428.6 1451.4,4425.3 1453.0,4433.7 1454.6,4433.3 1456.2,4437.5 1457.8,4434.7 1459.4,4435.9 1461.0,4439.6 1462.6,4445.7 1464.2,4447.8 1465.8,4446.3 1467.4,4448.3 1469.0,4451.2 1470.6,4455.6 1472.2,4463.2 1473.8,4459.0 1475.4,4459.9 1477.0,4460.6 1478.6,4459.8 1480.2,4461.1 1481.8,4467.7 1483.4,4470.0 1485.0,4468.6 1486.6,4469.8 1488.2,4472.0 1489.8,4473.3 1491.4,4479.8 1493.0,4480.9 1494.6,4478.6 1496.2,4480.8 1497.8,4481.4 1499.4,4482.0 1501.0,4484.1 1502.6,4486.4 1504.2,4486.8 1505.8,4486.7 1507.4,4490.9 1509.0,4494.1 1510.6,4493.9 1512.2,4495.4 1513.8,4500.6 1515.4,4496.2 1517.0,4501.2 1518.6,4503.5 1520.2,4504.9 1521.8,4507.4 1523.4,4513.8 1525.0,4510.5 1526.6,4510.3 1528.2,4515.0 1529.8,4511.2 1531.4,4511.5 1533.0,4515.3 1534.6,4519.5 1536.2,4520.0 1537.8,4521.1 1539.4,4521.0 1541.0,4522.8 1542.6,4523.7 1544.2,4525.3 1545.8,4528.7 1547.4,4531.7 1549.0,4533.4 1550.6,4534.2 1552.2,4534.0 1553.8,4534.0 1555.4,4535.6 1557.0,4537.0 1558.6,4539.2 1560.2,4541.5 1561.8,4540.2 1563.4,4545.8 1565.0,4547.1 1566.6,4545.9 1568.2,4545.5 1569.8,4548.8 1571.4,4550.4 1573.0,4550.8 1574.6,4547.4 1576.2,4550.4 1577.8,4554.8 1579.4,4554.5 1581.0,4557.6 1582.6,4558.0 1584.2,4557.6 1585.8,4557.1 1587.4,4559.1 1589.0,4562.5 1590.6,4564.4 1592.2,4561.4 1593.8,4562.2 1595.4,4566.5 1597.0,4569.3 1598.6,4569.6 1600.2,4570.7 1601.8,4568.3 1603.4,4569.3 1605.0,4569.4 1606.6,4569.7 1608.2,4573.7 1609.8,4573.3 1611.4,4575.6 1613.0,4577.8 1614.6,4578.6 1616.2,4577.0 1617.8,4580.9 1619.4,4582.8 1621.0,4584.2 1622.6,4583.1 1624.2,4584.4 1625.8,4581.0 1627.4,4580.7 1629.0,4584.1 1630.6,4582.7 1632.2,4586.7 1633.8,4589.1 1635.4,4592.2 1637.0,4591.3 1638.6,4589.4 1640.2,4592.7 1641.8,4593.0 1643.4,4590.9 1645.0,4594.5 1646.6,4594.2 1648.2,4596.3 1649.8,4594.8 1651.4,4597.0 1653.0,4600.6 1654.6,4600.4 1656.2,4600.7 1657.8,4601.3 1659.4,4602.2 1661.0,4604.7 1662.6,4607.1 1664.2,4607.8 1665.8,4609.4 1667.4,4613.9 1669.0,4617.8 1670.6,4618.0 1672.2,4615.7 1673.8,4614.0 1675.4,4616.7 1677.0,4620.5 1678.6,4622.5 1680.2,4622.2 1681.8,4623.7 1683.4,4622.1 1685.0,4623.8 1686.6,4625.8 1688.2,4628.1 1689.8,4632.5 1691.4,4631.5 1693.0,4631.3 1694.6,4634.9 1696.2,4633.3 1697.8,4635.6 1699.4,4636.6 1701.0,4638.2 1702.6,4637.6 1704.2,4639.0 1705.8,4641.1 1707.4,4642.6 1709.0,4643.1 1710.6,4643.5 1712.2,4643.6 1713.8,4647.0 1715.4,4647.8 1717.0,4649.9 1718.6,4647.9 1720.2,4648.6 1721.8,4654.4 1723.4,4652.5 1725.0,4652.6 1726.6,4656.2 1728.2,4657.7 1729.8,4655.7 1731.4,4656.5 1733.0,4654.9 1734.6,4657.1 1736.2,4659.2 1737.8,4658.9 1739.4,4662.0 1741.0,4662.2 1742.6,4663.6 1744.2,4664.6 1745.8,4665.0 1747.4,4667.6 1749.0,4665.1 1750.6,4663.2 1752.2,4667.7 1753.8,4669.4 1755.4,4670.3 1757.0,4670.7 1758.6,4670.8 1760.2,4670.6 1761.8,4671.5 1763.4,4671.4 1765.0,4670.9 1766.6,4671.9 1768.2,4674.1 1769.8,4674.0 1771.4,4677.1 1773.0,4677.1 1774.6,4678.0 1776.2,4678.4 1777.8,4678.3 1779.4,4677.0 1781.0,4678.0 1782.6,4678.1 1784.2,4677.9 1785.8,4678.7 1787.4,4678.1 1789.0,4679.6 1790.6,4680.6 1792.2,4680.7 1793.8,4680.4 1795.4,4681.1 1797.0,4680.0 1798.6,4679.3 1800.2,4679.8 1801.8,4680.1 1803.4,4679.6 1805.0,4679.8 1806.6,4681.2 1808.2,4679.6 1809.8,4679.6 1811.4,4680.6 1813.0,4684.2 1814.6,4683.9 1816.2,4681.5 1817.8,4679.8 1819.4,4679.1 1821.0,4680.5 1822.6,4679.6 1824.2,4682.9 1825.8,4682.7 1827.4,4683.1 1829.0,4680.9 1830.6,4681.3 1832.2,4681.2 1833.8,4682.4 1835.4,4682.4 1837.0,4682.4 1838.6,4683.8 1840.2,4681.9 1841.8,4681.5 1843.4,4683.5 1845.0,4681.5 1846.6,4682.7 1848.2,4680.8 1849.8,4680.7 1851.4,4680.9 1853.0,4680.3 1854.6,4683.1 1856.2,4684.2 1857.8,4682.1 1859.4,4683.1 1861.0,4684.3 1862.6,4682.8 1864.2,4681.9 1865.8,4683.8 1867.4,4680.9 1869.0,4681.2 1870.6,4681.6 1872.2,4682.9 1873.8,4680.1 1875.4,4683.6 1877.0,4683.7 1878.6,4681.9 1880.2,4680.5" fill="none" stroke="#ff00ff" stroke-width="5.2" stroke-linejoin="round" />
<polyline points="246.6,4605.2 248.2,4605.5 249.8,4595.4 251.4,4591.3 253.0,4591.3 254.6,4594.8 256.2,4594.2 257.8,4594.2 259.4,4589.9 261.0,4591.7 262.6,4593.0 264.2,4588.7 265.8,4575.2 267.4,4580.3 269.0,4576.3 270.6,4582.1 272.2,4588.3 273.8,4584.2 275.4,4577.3 277.0,4579.3 278.6,4577.5 280.2,4573.0 281.8,4578.9 283.4,4582.7 285.0,4576.5 286.6,4572.0 288.2,4570.1 289.8,4565.6 291.4,4570.1 293.0,4566.6 294.6,4565.0 296.2,4558.0 297.8,4568.3 299.4,4573.0 301.0,4562.1 302.6,4568.6 304.2,4565.4 305.8,4571.4 307.4,4567.2 309.0,4568.0 310.6,4559.6 312.2,4559.5 313.8,4564.5 315.4,4561.4 317.0,4563.3 318.6,4556.7 320.2,4561.4 321.8,4551.9 323.4,4548.8 325.0,4559.0 326.6,4551.2 328.2,4546.7 329.8,4548.2 331.4,4547.2 333.0,4544.5 334.6,4547.5 336.2,4550.9 337.8,4545.5 339.4,4544.2 341.0,4548.5 342.6,4548.9 344.2,4542.8 345.8,4544.4 347.4,4543.2 349.0,4544.3 350.6,4537.2 352.2,4543.1 353.8,4539.5 355.4,4537.0 357.0,4542.3 358.6,4538.2 360.2,4543.0 361.8,4538.0 363.4,4530.5 365.0,4537.8 366.6,4541.9 368.2,4540.0 369.8,4528.1 371.4,4526.9 373.0,4526.4 374.6,4534.7 376.2,4532.6 377.8,4527.6 379.4,4528.6 381.0,4530.8 382.6,4528.2 384.2,4528.4 385.8,4524.8 387.4,4511.5 389.0,4520.2 390.6,4523.4 392.2,4525.6 393.8,4517.5 395.4,4517.2 397.0,4519.1 398.6,4517.6 400.2,4519.6 401.8,4517.5 403.4,4509.0 405.0,4514.5 406.6,4513.7 408.2,4511.7 409.8,4507.9 411.4,4505.9 413.0,4504.0 414.6,4508.2 416.2,4507.8 417.8,4504.3 419.4,4511.9 421.0,4495.5 422.6,4500.0 424.2,4503.6 425.8,4503.2 427.4,4505.1 429.0,4501.7 430.6,4499.8 432.2,4496.3 433.8,4497.5 435.4,4497.4 437.0,4495.2 438.6,4490.0 440.2,4495.1 441.8,4491.0 443.4,4494.5 445.0,4484.9 446.6,4488.9 448.2,4493.7 449.8,4492.7 451.4,4489.8 453.0,4487.6 454.6,4489.5 456.2,4481.5 457.8,4485.5 459.4,4483.6 461.0,4483.9 462.6,4488.9 464.2,4494.1 465.8,4493.7 467.4,4491.2 469.0,4495.4 470.6,4489.4 472.2,4492.4 473.8,4496.1 475.4,4492.6 477.0,4490.3 478.6,4488.2 480.2,4479.6 481.8,4483.7 483.4,4488.4 485.0,4489.4 486.6,4491.1 488.2,4488.5 489.8,4486.2 491.4,4497.6 493.0,4495.9 494.6,4497.9 496.2,4489.0 497.8,4491.4 499.4,4488.5 501.0,4499.9 502.6,4505.3 504.2,4499.2 505.8,4494.5 507.4,4503.3 509.0,4506.8 510.6,4508.4 512.2,4502.8 513.8,4501.0 515.4,4502.8 517.0,4496.4 518.6,4503.0 520.2,4504.2 521.8,4507.3 523.4,4511.8 525.0,4509.9 526.6,4502.3 528.2,4513.7 529.8,4513.5 531.4,4515.8 533.0,4512.4 534.6,4511.1 536.2,4503.5 537.8,4509.4 539.4,4508.0 541.0,4518.1 542.6,4516.9 544.2,4516.7 545.8,4517.2 547.4,4515.6 549.0,4512.6 550.6,4518.4 552.2,4516.8 553.8,4518.9 555.4,4525.4 557.0,4514.5 558.6,4516.1 560.2,4517.1 561.8,4527.5 563.4,4530.2 565.0,4527.2 566.6,4523.5 568.2,4528.1 569.8,4534.0 571.4,4529.5 573.0,4539.0 574.6,4532.8 576.2,4534.9 577.8,4541.4 579.4,4534.2 581.0,4532.3 582.6,4536.2 584.2,4536.8 585.8,4534.9 587.4,4534.4 589.0,4536.7 590.6,4541.7 592.2,4543.5 593.8,4543.8 595.4,4548.9 597.0,4552.3 598.6,4546.6 600.2,4543.8 601.8,4549.5 603.4,4555.3 605.0,4546.6 606.6,4549.3 608.2,4548.4 609.8,4543.8 611.4,4546.7 613.0,4541.2 614.6,4552.1 616.2,4551.0 617.8,4546.5 619.4,4552.9 621.0,4545.1 622.6,4548.8 624.2,4552.7 625.8,4543.9 627.4,4550.3 629.0,4541.8 630.6,4549.4 632.2,4554.6 633.8,4554.6 635.4,4550.1 637.0,4561.4 638.6,4555.7 640.2,4547.4 641.8,4550.7 643.4,4542.7 645.0,4535.1 646.6,4542.4 648.2,4547.7 649.8,4551.1 651.4,4553.4 653.0,4552.9 654.6,4553.2 656.2,4556.5 657.8,4553.6 659.4,4547.1 661.0,4546.9 662.6,4548.9 664.2,4551.4 665.8,4558.0 667.4,4549.9 669.0,4554.5 670.6,4547.3 672.2,4545.2 673.8,4553.5 675.4,4552.6 677.0,4550.4 678.6,4552.7 680.2,4552.9 681.8,4557.1 683.4,4556.5 685.0,4558.4 686.6,4550.0 688.2,4543.4 689.8,4543.1 691.4,4545.0 693.0,4550.9 694.6,4556.2 696.2,4552.5 697.8,4552.8 699.4,4548.4 701.0,4548.4 702.6,4547.8 704.2,4546.7 705.8,4540.1 707.4,4541.6 709.0,4550.5 710.6,4548.1 712.2,4544.5 713.8,4538.1 715.4,4538.4 717.0,4534.8 718.6,4540.9 720.2,4545.1 721.8,4545.6 723.4,4540.1 725.0,4543.0 726.6,4538.6 728.2,4534.0 729.8,4539.3 731.4,4533.7 733.0,4526.7 734.6,4524.7 736.2,4531.5 737.8,4531.9 739.4,4537.1 741.0,4542.3 742.6,4530.7 744.2,4531.3 745.8,4524.1 747.4,4519.2 749.0,4520.1 750.6,4515.3 752.2,4517.3 753.8,4518.8 755.4,4518.3 757.0,4513.1 758.6,4516.0 760.2,4519.3 761.8,4512.7 763.4,4515.3 765.0,4510.2 766.6,4504.5 768.2,4517.6 769.8,4520.6 771.4,4516.1 773.0,4510.3 774.6,4509.1 776.2,4500.8 777.8,4496.4 779.4,4497.3 781.0,4492.2 782.6,4502.5 784.2,4502.2 785.8,4496.6 787.4,4496.5 789.0,4492.9 790.6,4491.2 792.2,4489.1 793.8,4490.9 795.4,4487.1 797.0,4491.7 798.6,4488.3 800.2,4485.0 801.8,4474.2 803.4,4468.7 805.0,4481.0 806.6,4474.7 808.2,4475.3 809.8,4474.8 811.4,4477.4 813.0,4471.9 814.6,4464.2 816.2,4461.3 817.8,4461.4 819.4,4456.7 821.0,4449.0 822.6,4448.0 824.2,4458.6 825.8,4456.6 827.4,4455.0 829.0,4450.2 830.6,4447.8 832.2,4442.4 833.8,4446.3 835.4,4448.0 837.0,4446.9 838.6,4441.2 840.2,4448.4 841.8,4442.6 843.4,4435.5 845.0,4425.4 846.6,4437.0 848.2,4431.1 849.8,4426.4 851.4,4427.0 853.0,4427.1 854.6,4425.2 856.2,4428.6 857.8,4427.1 859.4,4423.0 861.0,4421.8 862.6,4414.5 864.2,4410.4 865.8,4403.1 867.4,4400.9 869.0,4393.5 870.6,4398.7 872.2,4401.6 873.8,4399.8 875.4,4404.0 877.0,4398.7 878.6,4392.7 880.2,4393.1 881.8,4391.4 883.4,4391.1 885.0,4383.3 886.6,4388.4 888.2,4381.8 889.8,4382.1 891.4,4368.8 893.0,4370.3 894.6,4365.8 896.2,4362.7 897.8,4368.3 899.4,4373.7 901.0,4373.6 902.6,4364.7 904.2,4364.1 905.8,4361.4 907.4,4362.4 909.0,4365.6 910.6,4366.7 912.2,4356.0 913.8,4354.9 915.4,4356.2 917.0,4356.0 918.6,4355.1 920.2,4350.0 921.8,4340.0 923.4,4340.8 925.0,4342.2 926.6,4336.7 928.2,4327.7 929.8,4323.8 931.4,4324.0 933.0,4322.4 934.6,4320.8 936.2,4319.9 937.8,4314.6 939.4,4309.5 941.0,4305.0 942.6,4299.8 944.2,4303.1 945.8,4298.2 947.4,4294.0 949.0,4291.3 950.6,4288.6 952.2,4287.3 953.8,4289.3 955.4,4303.4 957.0,4293.4 958.6,4281.7 960.2,4276.6 961.8,4280.3 963.4,4271.3 965.0,4267.5 966.6,4268.3 968.2,4273.6 969.8,4264.3 971.4,4256.4 973.0,4250.2 974.6,4246.5 976.2,4247.1 977.8,4252.1 979.4,4247.6 981.0,4243.7 982.6,4237.8 984.2,4233.1 985.8,4230.3 987.4,4227.1 989.0,4228.5 990.6,4221.3 992.2,4222.1 993.8,4212.4 995.4,4216.3 997.0,4209.8 998.6,4202.5 1000.2,4201.3 1001.8,4196.6 1003.4,4190.5 1005.0,4186.6 1006.6,4189.8 1008.2,4178.7 1009.8,4174.5 1011.4,4177.4 1013.0,4170.1 1014.6,4174.1 1016.2,4167.3 1017.8,4160.8 1019.4,4162.4 1021.0,4153.4 1022.6,4149.1 1024.2,4149.1 1025.8,4144.2 1027.4,4145.0 1029.0,4145.1 1030.6,4139.7 1032.2,4133.4 1033.8,4127.7 1035.4,4123.8 1037.0,4125.5 1038.6,4133.1 1040.2,4124.2 1041.8,4122.3 1043.4,4127.4 1045.0,4125.7 1046.6,4114.0 1048.2,4120.9 1049.8,4115.6 1051.4,4117.7 1053.0,4120.2 1054.6,4112.2 1056.2,4118.5 1057.8,4121.0 1059.4,4118.5 1061.0,4114.7 1062.6,4117.0 1064.2,4116.9 1065.8,4112.2 1067.4,4116.1 1069.0,4121.7 1070.6,4127.2 1072.2,4123.1 1073.8,4122.9 1075.4,4124.0 1077.0,4127.6 1078.6,4130.8 1080.2,4123.4 1081.8,4129.9 1083.4,4134.0 1085.0,4138.5 1086.6,4136.8 1088.2,4134.3 1089.8,4138.7 1091.4,4145.8 1093.0,4153.0 1094.6,4158.3 1096.2,4170.7 1097.8,4167.8 1099.4,4176.3 1101.0,4173.7 1102.6,4172.2 1104.2,4178.6 1105.8,4186.1 1107.4,4191.5 1109.0,4192.9 1110.6,4200.9 1112.2,4199.5 1113.8,4204.7 1115.4,4210.2 1117.0,4210.3 1118.6,4216.6 1120.2,4221.4 1121.8,4227.7 1123.4,4237.2 1125.0,4240.9 1126.6,4244.8 1128.2,4243.3 1129.8,4247.4 1131.4,4253.6 1133.0,4258.1 1134.6,4258.8 1136.2,4266.6 1137.8,4266.2 1139.4,4269.5 1141.0,4274.4 1142.6,4276.3 1144.2,4277.8 1145.8,4286.4 1147.4,4287.3 1149.0,4290.6 1150.6,4289.8 1152.2,4287.9 1153.8,4293.2 1155.4,4296.0 1157.0,4297.9 1158.6,4303.5 1160.2,4304.1 1161.8,4307.4 1163.4,4305.3 1165.0,4309.1 1166.6,4311.3 1168.2,4313.7 1169.8,4319.7 1171.4,4321.8 1173.0,4323.5 1174.6,4323.7 1176.2,4332.5 1177.8,4335.1 1179.4,4332.5 1181.0,4332.2 1182.6,4333.5 1184.2,4337.2 1185.8,4333.3 1187.4,4334.5 1189.0,4334.0 1190.6,4339.8 1192.2,4342.1 1193.8,4342.0 1195.4,4343.8 1197.0,4345.0 1198.6,4353.0 1200.2,4354.4 1201.8,4349.9 1203.4,4350.9 1205.0,4349.3 1206.6,4351.2 1208.2,4349.5 1209.8,4349.1 1211.4,4351.1 1213.0,4343.9 1214.6,4348.3 1216.2,4348.0 1217.8,4348.1 1219.4,4348.2 1221.0,4348.6 1222.6,4338.5 1224.2,4343.0 1225.8,4349.6 1227.4,4350.1 1229.0,4346.4 1230.6,4338.8 1232.2,4345.3 1233.8,4345.0 1235.4,4348.6 1237.0,4344.8 1238.6,4343.5 1240.2,4343.4 1241.8,4340.8 1243.4,4341.4 1245.0,4338.1 1246.6,4342.4 1248.2,4344.5 1249.8,4345.8 1251.4,4347.9 1253.0,4347.2 1254.6,4347.7 1256.2,4345.4 1257.8,4343.8 1259.4,4346.8 1261.0,4344.4 1262.6,4352.1 1264.2,4350.3 1265.8,4353.6 1267.4,4354.0 1269.0,4353.2 1270.6,4352.9 1272.2,4349.9 1273.8,4351.5 1275.4,4353.1 1277.0,4355.2 1278.6,4358.6 1280.2,4356.8 1281.8,4357.5 1283.4,4357.0 1285.0,4357.1 1286.6,4359.1 1288.2,4362.0 1289.8,4368.2 1291.4,4368.2 1293.0,4366.1 1294.6,4369.2 1296.2,4368.9 1297.8,4372.5 1299.4,4369.0 1301.0,4370.7 1302.6,4373.3 1304.2,4374.0 1305.8,4383.8 1307.4,4383.0 1309.0,4381.9 1310.6,4382.7 1312.2,4389.2 1313.8,4385.5 1315.4,4389.3 1317.0,4393.4 1318.6,4399.1 1320.2,4400.0 1321.8,4403.9 1323.4,4403.0 1325.0,4401.5 1326.6,4407.1 1328.2,4409.4 1329.8,4416.9 1331.4,4419.6 1333.0,4417.5 1334.6,4417.3 1336.2,4422.4 1337.8,4421.7 1339.4,4425.5 1341.0,4428.6 1342.6,4435.2 1344.2,4432.8 1345.8,4435.4 1347.4,4434.4 1349.0,4439.8 1350.6,4441.0 1352.2,4442.2 1353.8,4447.4 1355.4,4448.4 1357.0,4448.0 1358.6,4453.3 1360.2,4459.8 1361.8,4453.9 1363.4,4449.9 1365.0,4459.2 1366.6,4461.8 1368.2,4459.0 1369.8,4458.4 1371.4,4460.2 1373.0,4466.0 1374.6,4471.2 1376.2,4472.3 1377.8,4472.6 1379.4,4469.3 1381.0,4467.4 1382.6,4467.5 1384.2,4468.8 1385.8,4469.6 1387.4,4473.3 1389.0,4478.8 1390.6,4483.5 1392.2,4480.0 1393.8,4476.4 1395.4,4480.3 1397.0,4483.8 1398.6,4486.4 1400.2,4480.8 1401.8,4485.3 1403.4,4487.8 1405.0,4489.2 1406.6,4494.7 1408.2,4495.2 1409.8,4496.5 1411.4,4494.4 1413.0,4494.7 1414.6,4502.3 1416.2,4506.0 1417.8,4506.5 1419.4,4506.5 1421.0,4508.6 1422.6,4511.5 1424.2,4514.3 1425.8,4514.2 1427.4,4517.8 1429.0,4518.2 1430.6,4515.5 1432.2,4522.8 1433.8,4524.3 1435.4,4526.4 1437.0,4527.8 1438.6,4531.0 1440.2,4531.5 1441.8,4531.4 1443.4,4526.7 1445.0,4532.4 1446.6,4534.3 1448.2,4533.8 1449.8,4539.9 1451.4,4539.5 1453.0,4539.9 1454.6,4545.4 1456.2,4543.2 1457.8,4543.7 1459.4,4538.4 1461.0,4546.3 1462.6,4551.7 1464.2,4547.6 1465.8,4551.1 1467.4,4552.6 1469.0,4553.6 1470.6,4560.8 1472.2,4562.6 1473.8,4565.1 1475.4,4565.7 1477.0,4563.5 1478.6,4564.6 1480.2,4567.2 1481.8,4567.9 1483.4,4567.1 1485.0,4570.7 1486.6,4571.6 1488.2,4570.7 1489.8,4573.2 1491.4,4576.9 1493.0,4570.7 1494.6,4571.3 1496.2,4577.7 1497.8,4576.3 1499.4,4580.1 1501.0,4583.7 1502.6,4585.3 1504.2,4584.8 1505.8,4584.0 1507.4,4583.1 1509.0,4584.9 1510.6,4588.3 1512.2,4585.8 1513.8,4587.2 1515.4,4595.2 1517.0,4593.1 1518.6,4593.8 1520.2,4596.3 1521.8,4597.7 1523.4,4603.0 1525.0,4605.9 1526.6,4604.9 1528.2,4610.0 1529.8,4609.7 1531.4,4609.4 1533.0,4609.7 1534.6,4609.9 1536.2,4612.9 1537.8,4616.3 1539.4,4611.5 1541.0,4614.7 1542.6,4617.9 1544.2,4616.9 1545.8,4621.4 1547.4,4622.7 1549.0,4621.2 1550.6,4625.7 1552.2,4626.4 1553.8,4626.2 1555.4,4625.6 1557.0,4626.7 1558.6,4629.0 1560.2,4631.3 1561.8,4635.0 1563.4,4633.3 1565.0,4632.1 1566.6,4631.4 1568.2,4632.8 1569.8,4633.6 1571.4,4634.6 1573.0,4633.7 1574.6,4633.6 1576.2,4634.2 1577.8,4632.9 1579.4,4639.7 1581.0,4637.9 1582.6,4635.1 1584.2,4636.8 1585.8,4637.9 1587.4,4638.7 1589.0,4644.1 1590.6,4642.4 1592.2,4642.0 1593.8,4647.6 1595.4,4648.4 1597.0,4647.7 1598.6,4645.2 1600.2,4647.2 1601.8,4650.9 1603.4,4650.8 1605.0,4653.0 1606.6,4649.6 1608.2,4650.2 1609.8,4651.7 1611.4,4653.6 1613.0,4655.1 1614.6,4654.8 1616.2,4655.1 1617.8,4657.2 1619.4,4654.8 1621.0,4656.3 1622.6,4659.2 1624.2,4661.0 1625.8,4658.0 1627.4,4658.5 1629.0,4657.8 1630.6,4661.2 1632.2,4661.9 1633.8,4664.1 1635.4,4664.3 1637.0,4666.6 1638.6,4669.6 1640.2,4669.4 1641.8,4669.1 1643.4,4667.6 1645.0,4669.3 1646.6,4672.7 1648.2,4673.5 1649.8,4674.5 1651.4,4674.8 1653.0,4675.0 1654.6,4676.6 1656.2,4679.0 1657.8,4678.4 1659.4,4676.5 1661.0,4680.7 1662.6,4679.6 1664.2,4682.1 1665.8,4681.4 1667.4,4683.9 1669.0,4682.4 1670.6,4681.1 1672.2,4685.3 1673.8,4686.1 1675.4,4689.2 1677.0,4691.1 1678.6,4691.6 1680.2,4691.6 1681.8,4690.4 1683.4,4691.3 1685.0,4690.0 1686.6,4692.8 1688.2,4693.3 1689.8,4697.2 1691.4,4696.4 1693.0,4694.2 1694.6,4695.6 1696.2,4700.5 1697.8,4700.3 1699.4,4701.2 1701.0,4700.3 1702.6,4699.4 1704.2,4701.2 1705.8,4699.8 1707.4,4702.2 1709.0,4704.2 1710.6,4699.2 1712.2,4703.7 1713.8,4706.5 1715.4,4704.5 1717.0,4707.2 1718.6,4709.3 1720.2,4706.8 1721.8,4707.5 1723.4,4708.9 1725.0,4712.6 1726.6,4713.1 1728.2,4711.7 1729.8,4710.2 1731.4,4711.0 1733.0,4711.7 1734.6,4713.0 1736.2,4712.9 1737.8,4716.3 1739.4,4713.4 1741.0,4714.1 1742.6,4714.4 1744.2,4716.4 1745.8,4713.0 1747.4,4715.2 1749.0,4718.0 1750.6,4718.7 1752.2,4720.0 1753.8,4719.1 1755.4,4720.7 1757.0,4720.3 1758.6,4718.3 1760.2,4719.8 1761.8,4720.6 1763.4,4720.4 1765.0,4720.5 1766.6,4720.6 1768.2,4720.7 1769.8,4719.3 1771.4,4718.5 1773.0,4719.1 1774.6,4720.6 1776.2,4722.3 1777.8,4724.8 1779.4,4722.6 1781.0,4719.5 1782.6,4721.5 1784.2,4722.0 1785.8,4719.1 1787.4,4719.7 1789.0,4721.3 1790.6,4720.7 1792.2,4720.8 1793.8,4722.6 1795.4,4722.8 1797.0,4723.2 1798.6,4721.5 1800.2,4721.4 1801.8,4721.8 1803.4,4723.2 1805.0,4722.7 1806.6,4719.9 1808.2,4718.8 1809.8,4721.8 1811.4,4721.6 1813.0,4720.0 1814.6,4719.8 1816.2,4717.7 1817.8,4717.8 1819.4,4717.9 1821.0,4718.5 1822.6,4719.7 1824.2,4718.9 1825.8,4720.8 1827.4,4721.8 1829.0,4721.9 1830.6,4721.1 1832.2,4721.5 1833.8,4717.5 1835.4,4720.1 1837.0,4719.0 1838.6,4719.1 1840.2,4719.9 1841.8,4719.4 1843.4,4719.0 1845.0,4718.7 1846.6,4721.1 1848.2,4722.2 1849.8,4721.3 1851.4,4720.1 1853.0,4722.1 1854.6,4722.6 1856.2,4721.6 1857.8,4721.1 1859.4,4722.1 1861.0,4719.8 1862.6,4719.2 1864.2,4721.7 1865.8,4722.5 1867.4,4720.8 1869.0,4718.9 1870.6,4720.8 1872.2,4723.0 1873.8,4719.9 1875.4,4721.1 1877.0,4720.2 1878.6,4721.0 1880.2,4719.9" fill="none" stroke="#808000" stroke-width="5.2" stroke-linejoin="round" />
</g>
<line x1="455.40" y1="3568.00" x2="455.40" y2="4589.80" stroke="#000" stroke-width="3.2" stroke-dasharray="8 6.2"/>
<line x1="1065.90" y1="3381.00" x2="1065.90" y2="4402.00" stroke="#000" stroke-width="2.1" stroke-dasharray="9 4.4"/>
<line x1="1283.00" y1="3572.00" x2="1283.00" y2="4549.00" stroke="#000" stroke-width="2.1" stroke-dasharray="8.6 5.6"/>
<line x1="1283.60" y1="4282.00" x2="1283.60" y2="4549.00" stroke="#000" stroke-width="3.2" stroke-dasharray="8.6 5.6"/>
<rect x="1525" y="3399" width="334" height="470" fill="#000"/>
<rect x="1506.6" y="3382.7" width="334.3" height="469" fill="#fff" stroke="#000" stroke-width="2.2"/>
<line x1="1516.00" y1="3418.00" x2="1646.30" y2="3418.00" stroke="#000000" stroke-width="5.5" />
<line x1="1516.00" y1="3485.60" x2="1646.30" y2="3485.60" stroke="#ff0000" stroke-width="5.5" />
<line x1="1516.00" y1="3551.80" x2="1646.30" y2="3551.80" stroke="#00ff00" stroke-width="5.5" />
<line x1="1516.00" y1="3618.70" x2="1646.30" y2="3618.70" stroke="#0000ff" stroke-width="5.5" />
<line x1="1516.00" y1="3686.90" x2="1646.30" y2="3686.90" stroke="#00ffff" stroke-width="5.5" />
<line x1="1516.00" y1="3753.80" x2="1646.30" y2="3753.80" stroke="#ff00ff" stroke-width="5.5" />
<line x1="1516.00" y1="3823.10" x2="1646.30" y2="3823.10" stroke="#808000" stroke-width="5.5" />
<text transform="translate(1675.53 3435.69) scale(1.0717 1)" font-size="53.87" fill="#000" stroke="#000" stroke-width="0.16" font-family='"Liberation Sans", Arial, sans-serif'>0%</text>
<text transform="translate(1675.59 3502.30) scale(1.0776 1)" font-size="53.45" fill="#000" stroke="#000" stroke-width="0.16" font-family='"Liberation Sans", Arial, sans-serif'>3.2%</text>
<text transform="translate(1674.82 3570.38) scale(1.0498 1)" font-size="55.19" fill="#000" stroke="#000" stroke-width="0.17" font-family='"Liberation Sans", Arial, sans-serif'>7.5%</text>
<text transform="translate(1677.34 3636.39) scale(1.0580 1)" font-size="53.87" fill="#000" stroke="#000" stroke-width="0.16" font-family='"Liberation Sans", Arial, sans-serif'>10.4%</text>
<text transform="translate(1676.11 3704.29) scale(1.0634 1)" font-size="54.01" fill="#000" stroke="#000" stroke-width="0.16" font-family='"Liberation Sans", Arial, sans-serif'>16.1%</text>
<text transform="translate(1673.65 3771.59) scale(1.0825 1)" font-size="53.87" fill="#000" stroke="#000" stroke-width="0.16" font-family='"Liberation Sans", Arial, sans-serif'>21.5%</text>
<text transform="translate(1672.89 3838.30) scale(1.0614 1)" font-size="54.16" fill="#000" stroke="#000" stroke-width="0.16" font-family='"Liberation Sans", Arial, sans-serif'>24%</text>
<rect x="247.6" y="3362.0" width="1632.0" height="1386.6" fill="none" stroke="#000" stroke-width="5.6"/>
<line x1="247.60" y1="4748.60" x2="247.60" y2="4771.00" stroke="#000" stroke-width="5.4" />
<line x1="383.60" y1="4748.60" x2="383.60" y2="4759.00" stroke="#000" stroke-width="4.8" />
<line x1="519.60" y1="4748.60" x2="519.60" y2="4771.00" stroke="#000" stroke-width="5.4" />
<line x1="655.60" y1="4748.60" x2="655.60" y2="4759.00" stroke="#000" stroke-width="4.8" />
<line x1="791.60" y1="4748.60" x2="791.60" y2="4771.00" stroke="#000" stroke-width="5.4" />
<line x1="927.60" y1="4748.60" x2="927.60" y2="4759.00" stroke="#000" stroke-width="4.8" />
<line x1="1063.60" y1="4748.60" x2="1063.60" y2="4771.00" stroke="#000" stroke-width="5.4" />
<line x1="1199.60" y1="4748.60" x2="1199.60" y2="4759.00" stroke="#000" stroke-width="4.8" />
<line x1="1335.60" y1="4748.60" x2="1335.60" y2="4771.00" stroke="#000" stroke-width="5.4" />
<line x1="1471.60" y1="4748.60" x2="1471.60" y2="4759.00" stroke="#000" stroke-width="4.8" />
<line x1="1607.60" y1="4748.60" x2="1607.60" y2="4771.00" stroke="#000" stroke-width="5.4" />
<line x1="1743.60" y1="4748.60" x2="1743.60" y2="4759.00" stroke="#000" stroke-width="4.8" />
<line x1="1879.60" y1="4748.60" x2="1879.60" y2="4771.00" stroke="#000" stroke-width="5.4" />
<text transform="translate(247.90 4822.31) scale(1.1109 1)" font-size="61.04" fill="#000" stroke="#000" stroke-width="0.18" text-anchor="middle" font-family='"Liberation Sans", Arial, sans-serif'>5</text>
<text transform="translate(519.90 4822.31) scale(1.1109 1)" font-size="61.04" fill="#000" stroke="#000" stroke-width="0.18" text-anchor="middle" font-family='"Liberation Sans", Arial, sans-serif'>10</text>
<text transform="translate(791.90 4822.31) scale(1.1109 1)" font-size="61.04" fill="#000" stroke="#000" stroke-width="0.18" text-anchor="middle" font-family='"Liberation Sans", Arial, sans-serif'>15</text>
<text transform="translate(1063.90 4822.31) scale(1.1109 1)" font-size="61.04" fill="#000" stroke="#000" stroke-width="0.18" text-anchor="middle" font-family='"Liberation Sans", Arial, sans-serif'>20</text>
<text transform="translate(1335.90 4822.31) scale(1.1109 1)" font-size="61.04" fill="#000" stroke="#000" stroke-width="0.18" text-anchor="middle" font-family='"Liberation Sans", Arial, sans-serif'>25</text>
<text transform="translate(1607.90 4822.31) scale(1.1109 1)" font-size="61.04" fill="#000" stroke="#000" stroke-width="0.18" text-anchor="middle" font-family='"Liberation Sans", Arial, sans-serif'>30</text>
<text transform="translate(1879.90 4822.31) scale(1.1109 1)" font-size="61.04" fill="#000" stroke="#000" stroke-width="0.18" text-anchor="middle" font-family='"Liberation Sans", Arial, sans-serif'>35</text>
<text transform="translate(402.31 4652.40) scale(1.0442 1)" font-size="70.60" fill="#000" stroke="#000" stroke-width="0.21" font-family='"Liberation Sans", Arial, sans-serif'>8.8</text>
<text transform="translate(504.17 4624.54) scale(0.9783 1)" font-size="49.65" fill="#000" stroke="#000" stroke-width="0.15" font-family='"Liberation Sans", Arial, sans-serif'>O</text>
<text transform="translate(985.38 4476.19) scale(1.0372 1)" font-size="71.59" fill="#000" stroke="#000" stroke-width="0.21" font-family='"Liberation Sans", Arial, sans-serif'>20.0</text>
<text transform="translate(1129.17 4448.64) scale(0.9811 1)" font-size="49.51" fill="#000" stroke="#000" stroke-width="0.15" font-family='"Liberation Sans", Arial, sans-serif'>O</text>
<text transform="translate(1205.39 4620.20) scale(1.0457 1)" font-size="70.74" fill="#000" stroke="#000" stroke-width="0.21" font-family='"Liberation Sans", Arial, sans-serif'>24.0</text>
<text transform="translate(1349.28 4593.64) scale(0.9781 1)" font-size="49.51" fill="#000" stroke="#000" stroke-width="0.15" font-family='"Liberation Sans", Arial, sans-serif'>O</text>
<text transform="translate(46.67 3417.23) scale(1.1154 1)" font-size="96.72" fill="#000" stroke="#000" stroke-width="0.29" font-family='"Liberation Sans", Arial, sans-serif'>(C)</text>
<text transform="translate(184.68 4209.15) rotate(-90) scale(1.0248 1)" font-size="96.24" fill="#000" stroke="#000" stroke-width="0.29" font-family='"Liberation Sans", Arial, sans-serif'>Intensity</text>
<text transform="translate(823.50 4894.87) scale(1.0832 1)" font-size="88.98" fill="#000" stroke="#000" stroke-width="0.27" font-family='"Liberation Sans", Arial, sans-serif'>2</text>
<text transform="translate(876.34 4894.73) scale(1.2207 1)" font-size="85.96" fill="#000" stroke="#000" stroke-width="0.26" font-family='"Liberation Serif", "Times New Roman", serif'>θ</text>
<text transform="translate(951.32 4892.70) scale(1.0257 1)" font-size="84.42" fill="#000" stroke="#000" stroke-width="0.25" font-family='"Liberation Serif", "Times New Roman", serif'>(</text>
<text transform="translate(979.80 4892.45) scale(1.0889 1)" font-size="83.95" fill="#000" stroke="#000" stroke-width="0.25" font-family='"Liberation Sans", Arial, sans-serif'>degree</text>
<text transform="translate(1270.95 4892.70) scale(1.0212 1)" font-size="84.42" fill="#000" stroke="#000" stroke-width="0.25" font-family='"Liberation Serif", "Times New Roman", serif'>)</text>
</g>
</svg>
</body>
</html>
